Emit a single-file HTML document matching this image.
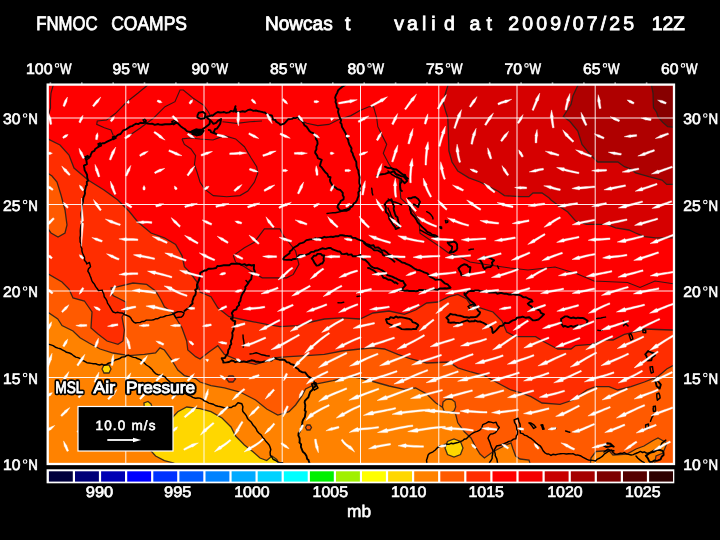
<!DOCTYPE html>
<html><head><meta charset="utf-8"><title>FNMOC COAMPS Nowcast</title>
<style>html,body{margin:0;padding:0;background:#000;}body{width:720px;height:540px;overflow:hidden;}svg{display:block;}text{text-rendering:geometricPrecision;}svg{will-change:transform;}text{font-family:"Liberation Sans",sans-serif;fill:#fff;}</style>
</head><body>
<svg width="720" height="540" viewBox="0 0 720 540">
<rect x="0" y="0" width="720" height="540" fill="#000"/>
<defs><clipPath id="mc"><rect x="47" y="84" width="628" height="381"/></clipPath></defs>
<g clip-path="url(#mc)">
<rect x="47" y="84" width="628" height="381" fill="#fe0000"/>
<path d="M447.8 82 L447.8 85.6 L445.6 93 L443 102 L445.6 111 L447.8 117.8 L448.4 135.6 L448.9 151 L452 162 L457.8 171 L468.9 177.8 L480 182 L488.9 186.7 L497.8 191 L504.4 195.6 L520 196.7 L528.9 196.7 L533 193 L542 193 L548.9 197.8 L551 200 L560 206.7 L567.8 212 L575.6 221 L586.7 224.4 L606.7 224.4 L615.6 227.8 L628.9 230 L635.6 233 L644.4 236.7 L655.6 237.8 L676 237.8 L676 82Z" fill="#d60000" stroke="#2a1f1a" stroke-opacity="0.9" stroke-width="1.3"/>
<path d="M577.8 82 L577.8 85.6 L573 95.6 L571 104.4 L563.3 116.5 L570 121.5 L577.8 131 L582 144.4 L591 155.6 L597.8 162 L617.8 162 L624.4 166.7 L631 169 L635.6 173 L648.9 176.7 L662 180 L666.7 184.4 L676 184.4 L676 82Z" fill="#af0000" stroke="#2a1f1a" stroke-opacity="0.9" stroke-width="1.3"/>
<path d="M651.5 82 L651.5 85.6 L653 93 L653.3 104 L653.5 107.8 L656.6 112.2 L658.2 117.2 L662.7 122.2 L667.7 126.7 L676 127.5 L676 82Z" fill="#870000" stroke="#2a1f1a" stroke-opacity="0.9" stroke-width="1.3"/>
<path d="M45 138 L46 138 L60 145 L69 155 L74 168 L88 180 L104 190 L117.8 200 L128.9 211 L137.8 222 L151 233 L164.4 237.8 L175.6 244.4 L182 255.6 L184.4 266.7 L190 272.5 L197 282 L200 292 L211 296.7 L217.8 307.8 L229 316.7 L244.4 320 L266.7 324.4 L280 326.7 L297.8 325.6 L311 322 L324.4 319 L342 317.8 L360 319 L373 313 L389 311 L404.4 314.4 L415.6 310 L426.7 303 L437.8 302 L449 296.7 L457.8 294.4 L466.7 299 L471 305.6 L480 307.8 L493 312 L502 321 L506.7 332 L515.6 336.7 L520 336.7 L535.6 336.7 L544.4 342 L557.8 349 L571 349 L575.6 345.6 L591 344.4 L604.4 340 L613 340 L624.4 334.4 L640 331 L644.4 329 L671 330 L676 330 L676 467 L45 467Z" fill="#ff2d00" stroke="#2a1f1a" stroke-opacity="0.9" stroke-width="1.3"/>
<path d="M45 172 L46 172 L52 176 L57 182 L61 195 L65 210 L67 225 L65 233 L58 237 L51 233 L46 226 L45 226Z" fill="#ff5a00" stroke="#2a1f1a" stroke-opacity="0.9" stroke-width="1.3"/>
<path d="M45 274 L49 274.4 L62 282 L69 289 L73 298 L84.4 301 L90 309 L92 312 L91 328 L98 334 L107 341 L118 344.4 L123 341 L124.4 330 L122 317 L125.6 311 L125.6 302 L118 298 L113 295.6 L111 288 L118 286.7 L133 283 L146.7 284.4 L155.6 291 L161 300 L164.4 306.7 L173 313 L182 328 L186.7 341 L187.8 350 L195.6 356.7 L200 359 L209 352 L217.8 345.6 L224.4 354.4 L240 361 L255.6 364.4 L266.7 361 L273 357.8 L289 356.7 L306.7 355.6 L324.4 354.4 L342 351 L360 349 L373 347.8 L384.4 349 L397.8 354.4 L411 359 L426.7 363 L449 362 L457.8 367.8 L471 372 L484.4 375.6 L497.8 383 L511 390 L520 392.5 L531 396.7 L542 403 L560 404.4 L573 400 L586.7 390 L595.6 386.7 L609 386.7 L617.8 390 L631 386.7 L644.4 382 L657.8 376.7 L666.7 369 L676 364 L676 467 L45 467Z" fill="#ff5a00" stroke="#2a1f1a" stroke-opacity="0.9" stroke-width="1.3"/>
<path d="M45 313 L48.9 313 L57.8 319 L62 325.6 L73 331 L80 337.8 L89 343 L100 349 L113 353 L129 355.6 L144.4 354.4 L155.6 353 L160 347.8 L164.4 350 L171 359 L177.8 370 L184.4 375.6 L195.6 378.5 L200 382 L211 385.6 L224.4 387.8 L240 392 L255.6 400 L266.7 409 L277.8 415 L289 411.7 L295.6 405 L302 396 L305.6 389 L315.6 384 L333 380.6 L351 376.5 L360 378 L373 381.5 L389 386 L404.4 389.4 L415.6 388 L426.7 394 L435.6 402.8 L442 407 L455.6 414 L457.8 422.8 L464.4 431.7 L471 438 L475.6 447 L480 454 L484.4 458 L493 451.7 L502 447 L511 442.8 L513 449 L515.6 456 L520 459 L529 460 L531 467 L45 467Z" fill="#ff8200" stroke="#2a1f1a" stroke-opacity="0.9" stroke-width="1.3"/>
<path d="M590 467 L591 458 L596 451.5 L609 450.5 L613 455 L627 454 L636 449 L644 446 L653 440.5 L658 438 L667 443 L663 453 L656 456 L654 467Z" fill="#ff8200" stroke="#2a1f1a" stroke-opacity="0.9" stroke-width="1.3"/>
<path d="M442.5 407 L443 402 L446 399.5 L449 399 L452 399.5 L455 402 L455.7 407 L454 411 L449 413 L444 411Z" fill="#ff8200" stroke="#2a1f1a" stroke-opacity="0.9" stroke-width="1.3"/>
<path d="M180 467 L178 465 L173 462.8 L164.4 460.6 L155.6 456 L151 451 L146 440 L144 403 L148 401.5 L151 404 L153 410 L172 418 L177.8 411.7 L186.7 407 L200 408.7 L211 411.7 L222 418 L231 427 L235.6 436 L244.4 445 L253 451.7 L260 458 L266.7 460.6 L272 456 L276.7 459.4 L281 467Z" fill="#ffd700" stroke="#2a1f1a" stroke-opacity="0.9" stroke-width="1.3"/>
<path d="M102 369 L104 365 L109 365 L111 369 L109 373 L104 373Z" fill="#ffd700" stroke="#2a1f1a" stroke-opacity="0.9" stroke-width="1.3"/>
<path d="M445 448 L447.5 441.5 L454 439 L460.5 441.5 L463 448 L460.5 454.5 L454 457 L447.5 454.5Z" fill="#ffd700" stroke="#2a1f1a" stroke-opacity="0.9" stroke-width="1.3"/>
<path d="M226.5 379 L229 376 L233 376 L235.5 379 L233 382 L229 382Z" fill="#ff2d00" stroke="#2a1f1a" stroke-opacity="0.9" stroke-width="1.3"/>
<path d="M305.5 427.5 L307 425 L310 425 L311.5 427.5 L310 430 L307 430Z" fill="#ff5a00" stroke="#2a1f1a" stroke-opacity="0.9" stroke-width="1.3"/>
<path d="M48.5 115 L50.5 108 L50.5 100 L51 93 L53.5 84" fill="none" stroke="#241414" stroke-opacity="0.9" stroke-width="1.15"/>
<path d="M147.8 85 L137.8 93.3 L126.7 102 L115.6 113.3 L106.7 120 L97.3 121 L96.7 124.4 L104.4 127.8 L111 130 L113.3 135.6" fill="none" stroke="#241414" stroke-opacity="0.9" stroke-width="1.15"/>
<path d="M130 135 L140 128.3 L153.3 118.3 L165 106.7 L175 101.7 L180 90 L183.3 90 L193.3 98.3 L203.3 105 L208.3 111.7 L210 115" fill="none" stroke="#241414" stroke-opacity="0.9" stroke-width="1.15"/>
<path d="M222.5 121.7 L236.7 123.3 L250 121.7 L262 121" fill="none" stroke="#241414" stroke-opacity="0.9" stroke-width="1.15"/>
<path d="M182 138.9 L190 138 L200 139 L213 140 L224.4 135.6 L235.6 138.9 L244.4 146.7 L251 157.8 L256.7 166.7 L257.8 173.3 L254.4 182.2 L247.8 191 L240 195.6 L226.7 196.7 L213.3 195.6 L204.4 188.9 L200 182 L197 172 L194.4 164.4 L195.6 155.6 L191 148.9 L184.4 144.4 L182 138.9" fill="none" stroke="#241414" stroke-opacity="0.9" stroke-width="1.15"/>
<path d="M297.8 118.9 L306.7 123.3 L317.8 125.6 L328.9 124.4 L337.8 120 L351 115.6 L360 110.5 L368.9 106.7 L373.5 106.5 L376.7 117.8 L377.8 126.7 L382.2 135.6 L386.7 144.4 L383.3 153.3 L388.9 164 L394 172 L399.2 178.3 L400 188.3 L400.8 198.3 L408 205 L414 213 L418.9 220 L420 233.3 L426.7 237.8 L433.3 242.2 L440 246.7 L448.9 253.3 L458 256 L470 262 L489 265 L510 268 L528 270 L555 267 L577.5 274 L594 281 L627.5 282.5 L640 287.5 L655 281 L675 284" fill="none" stroke="#241414" stroke-opacity="0.9" stroke-width="1.15"/>
<path d="M233.3 255.6 L244.4 247.8 L254.4 242.2 L264.4 228.9 L280 228.9 L283.3 235.6 L287.8 241 L295.6 251 L298.9 264.4 L293.3 274.4 L286.7 277.8 L262.2 277.8 L254.4 273.3 L244.4 266.7 L235.6 262.2 L233.3 255.6" fill="none" stroke="#241414" stroke-opacity="0.9" stroke-width="1.15"/>
<path d="M125.8 84V465M204 84V465M282.2 84V465M360.5 84V465M438.8 84V465M517 84V465M595.2 84V465M47 377.5H674M47 291H674M47 204.5H674M47 118H674" stroke="#fff" stroke-opacity="0.92" stroke-width="1" fill="none"/>
<path d="M195 132 L199.2 131.8 L199.5 133.3 L195.8 134.1 L194.8 132.1M143 120 L144.7 119.3 L146.3 121 L144.2 122 L143.3 120.1M112.5 137 L114.8 136.3 L116 138.2 L113.2 139.5 L112.5 136.9M98 144 L100.2 142.9 L101.4 145.7 L98.7 146.7 L98.2 143.7M85 157 L87.8 155.6 L89.3 157.9 L86.4 159.9 L85.3 157.1M172 121.5 L174.9 120.4 L176.8 122.7 L173.7 124.7 L171.8 121.8M327 213.5 L329.8 213.1 L333 212.8 L335.2 212.8 L337.8 212.2 L339.8 211.8 L342.3 211 L344.7 209.7 L347.2 209 L349.7 208.1 L351.9 206.7M83 200 L83.2 201.9 L82.4 204.3 L82 206.9 L82.3 208.7 L81.6 210.9 L81.1 213.2 L81.1 215.2 L81.5 218.2 L82.2 219.7 L82.2 222.7 L81.4 224.1 L80.8 226.3 L80.5 228.5 L80.3 230.9 L80.4 233.7 L80.4 235.5 L79.9 237.8 L80.1 239.9 L80.1 242 L81.2 244.1 L81 246.8 L81.9 248.6 L81.9 250.9 L82.6 253.3 L83.8 255.9 L84.5 257.3 L84.5 260.2 L86.2 262.2 L86.8 263.9 L89.4 262.4 L90.1 264.9 L90.5 266.7 L88.5 268.7 L87.8 271.2 L89.3 273.5 L90.1 275.8 L91 277.9 L91.7 280.3 L93 282.6 L94.5 284.2 L95.5 286.4 L97.5 289 L98.5 290.6 L102.2 290.1 L102.8 292 L103.8 294 L104.2 296.7 L106 299.1 L107 301.1 L107.5 303.1 L109.4 305.8 L110.2 307.3 L111.8 310.2 L113.2 312 L115.7 312.9 L117.5 312.3 L119.8 312.9 L122.4 313 L124.7 314.7 L126.7 315.3 L129.4 316.5 L130.9 318.1 L132 320.3 L133.7 322.1 L135.6 323 L137.5 322.6 L140.2 322.6 L141.8 321.5 L144.1 321.5 L146.3 320.1 L148.4 320.1 L151.5 320.1 L153.6 319.8 L156 318.7 L157.5 318.8 L160.2 317.3 L162.4 317.1 L164.3 316.5 L166.3 315.6 L168.6 315.4 L171.5 314.6 L173.8 314.1 L175.9 317.8 L179.3 317.2 L181.5 317 L183.1 315.4 L184.1 312.9 L181.6 311.8 L177.9 311.8 L175.9 312.5 L172.8 314M312 384 L315.9 382.8 L316.7 385.6 L318 387.9 L316.1 389 L314.3 390.2 L312.8 387.3 L311.7 384M246 280.5 L248.4 283.3M243 335 L243.2 338.2 L243.7 341 L244.1 343.7 L243.3 347.1M250 354 L253 353.6 L256.2 352.8 L258.9 353.6 L261.7 354.8 L264.5 355.2 L266.3 355.7 L269.2 356M45 343.5 L49.1 344.4 L50.9 344.9 L53.1 345.6 L55.4 347.2 L58 348.1 L60.2 348.7 L62.3 349.9 L64.8 351.1 L66.5 352.3 L69.4 353 L71.5 354 L73.1 355.3 L75.8 357.1 L78 357.6 L80.4 358.7 L82 360.4 L84.6 361.3 L86.9 362.7 L88.9 363 L91.3 363.4 L93.3 363.7 L95.7 363.8 L97.5 364.5 L99.6 365 L101.9 364.2 L104.1 365.3 L106.5 364.6 L108.4 363.2 L111.3 362.5 L113.5 361.2 L115.1 360 L117.6 359.2 L120.3 358.2 L121.8 357.1 L124.8 356.8 L126.3 355.7 L128.5 355.1 L131.5 356.6 L133.5 357.4 L135.7 357.6 L137.4 358.5 L140.3 359.6 L142 360.9 L144 362.7 L146.4 365 L148.8 366.5 L151 368.4 L152.6 370.1 L153.5 371.6 L155.5 373.6 L157.8 374.6 L160.3 375.1 L163 376 L165.3 377.2 L166.4 378.8 L169 381.1 L170.1 382.2 L172.5 384 L174.1 385.3 L176.1 387.2 L177.9 388.9 L179.8 389.7 L182.3 391.2 L183.9 392.6 L186 394 L188.8 395.3 L190.8 396.1 L192.8 397.4 L195.4 398.3 L197.9 398 L199.7 398.1 L202.6 399.4 L204.3 400.9 L206.4 401.6 L208.9 403.1 L211.4 403.7 L213.2 404.2 L215.2 405.5 L218 406.2 L219.7 406.5 L222.5 407.2 L224.1 407.7 L227.1 408 L228.6 407.5 L231.4 407.5 L233 406.2 L235.3 405.8 L238 402.7 L241.8 403.7 L242.9 406.8 L242.5 409.6 L242.9 411.6 L245.3 414.2 L246.5 416 L247.5 418.4 L249.2 420.2 L251.4 422.3 L253.2 425.3 L254.9 427 L256.2 428.9 L257.1 431 L258.8 433 L261.1 434.9 L262.6 437.4 L264.3 439.1 L266.1 441.6 L267.7 443.3 L269.3 445.2 L270.1 447.2 L270.8 449.5 L270.1 452.1 L270.3 455.2 L271.8 457 L273.2 459.4 L275.7 460.5 L278 462.1 L279.7 462.4 L282.5 462.7 L284 465.5M338 302.7 L341 302.9 L343.7 302.2M357 296.5 L359.7 296.1M468 306.5 L470.3 305.1 L472.9 304.1 L474.6 306.2 L476.2 308 L473.2 308.9 L470.2 309.5 L468.2 306.6M596.7 318.5 L601 318 L603.4 317.4 L605.5 317.1M597.8 330.3 L599.9 330.6 L602.3 330.3M388 171 L389.7 172.5 L392 174.7 L394.6 176.2 L396.7 177.2 L401.2 178.9M388 208 L388.8 210 L390.1 212.6 L390.8 215.1 L391.7 216.8 L393.2 218.7 L394 221.2 L395.7 222.8 L396.9 225.2M388.3 199 L390.6 200.6 L392.8 201.8 L395.5 202.3 L398 203.2 L401.8 204.8M426.7 211.7 L429.3 213.1 L431.4 215.3 L432.7 217.2 L433 218.9M420 230 L421.8 230.9 L423.9 232.2 L425.7 233.2 L428.1 234.3 L430.8 235.5 L433.3 236.2 L435.7 237.5 L438.2 238M445.7 220.7 L447.9 220.9 L447.6 222.4 L445.9 222.8 L445.4 220.5M440 226.7 L441.5 226.9 L441.6 228.6 L440.2 228 L440.1 226.6M371.7 188.3 L372.1 190.8 L372.1 192.5 L372.8 194.9M468.9 250 L471 249.2 L473.4 249.1M497.5 266 L498.7 268.4M623.3 321 L625.3 323.4 L628 325.9M627.8 321 L625.3 323.5 L623.5 325.8M629 334.4 L630.9 333.8 L632.2 336.4 L632.9 339 L630.9 340.2 L629.8 336.9 L629 334.5M643 330 L645.7 330.1 L645.8 332.8 L643 332.5 L642.8 329.9M650 367 L652.5 366.6 L652.8 369.3 L653.4 372.2 L651.3 373.1 L650.4 370.1 L650 366.9M656.7 394 L658.9 393 L659.8 395.5 L660.1 397.9 L657.4 400.3 L656.8 396.8 L656.8 394M653.3 406.5 L655.3 406.1 L655.5 408.6 L655.5 411 L653.5 411.6 L653.1 408.9 L653.6 406.5M654 414 L652.7 416.3 L651.8 417.7 L650.5 421.3M645.6 425 L648.5 424 L648.5 426.3 L648.6 428.5 L646.1 429.1 L645.7 426.9 L645.6 425.3M528.9 423 L531 423 L533.5 424.6 L535.9 427.2 L533.7 428.5 L532.2 426.3 L530.9 424.8 L529.1 422.7M541 425 L542.7 424.7 L543.3 426.9 L544.1 429.1 L542.8 429.3 L542.1 427.1 L541.3 425.1M553.3 428 L555.9 428.5M565.6 431 L568.1 431.8 L569.8 432.2M576 431.7 L577.9 431.9M426.5 465 L426.8 462.4 L426.5 460.3 L427.3 458.1 L428.1 455 L429.6 453.3 L433 451.8 L435.3 450 L437.6 447.5 L440.4 446 L442.4 445.8 L444.9 444.5 L446.5 444.1 L448.9 444.3 L451.4 443.2 L453 443.7 L455.8 443 L457.8 442.5 L460.4 441.6 L462.6 440.7 L464.1 439.3 L466.4 438.7 L469 436 L470.8 434.5 L473.3 432.9 L475.4 431.9 L477.3 431.4 L479.8 430.1 L481.6 428.3 L482.8 424.6 L486.3 423.1 L488.7 421.7 L490.9 422.1 L493.4 422.9 L496.1 422.3 L497.3 425.3 L499.3 427.5 L497.4 430.1 L495.5 432.6 L493.1 433.7 L490.4 434.1 L488.7 436.4 L488 438.3 L489 440.4 L490 442.7 L490.6 444.8 L491.6 447.7 L492.5 449.3 L493 451.4 L492.8 453.5 L492.1 456.5 L492.2 458.2 L491.2 460.3 L489.7 462.3 L488.8 464.8M497.8 465 L497.5 462.8 L497.1 460.3 L496.6 458.3 L495.2 455.7 L495.3 454.3 L494.7 451.9 L494.3 449.8 L496.6 446 L500 445.3 L502 444.5 L504.1 443.7 L506.9 442.5 L508.8 441.4 L511.2 440.9 L513.5 439.1 L515.8 438.8 L516.4 435.7 L517.4 434.3 L517.6 431.3 L516.8 429.5 L516.7 427.4 L516 424.7 L514.6 422.7 L514.1 419.9 L518.2 418.3 L518.8 421.2 L520 424.1 L520.2 426.2 L520.3 428.3 L520.1 430.3 L520.4 433.1 L522.7 433.6 L524.6 435.2 L526.5 435.6 L528.6 437.2 L531.4 438.7 L533.6 440.5 L535.6 442.5 L537.8 444.4 L540.1 445.8 L541.7 448 L543.1 450.8 L544.7 452.6 L546.9 454 L548.8 454 L551 455.4 L552.9 454.3 L555.5 454.7 L558 454.1 L560.5 453.7 L562.5 453.6 L564 453.6 L566.2 454 L568.9 453.7 L571.5 453.9 L572.9 453.7 L575.8 455.1 L577.4 454.9 L580.3 455.7 L582.7 457.1 L584.6 458.1 L587 459.4 L588.7 460.1 L590.8 460.2 L592.9 460.4 L595.5 461 L597.4 459.1 L599.9 458 L602.6 456.1 L604.2 454.2 L606.5 452.7 L608.6 451.1 L611.3 450.1 L613.1 452.5 L615.3 454.1 L617.5 454.1 L620.4 453.2 L622.5 453.4 L624.2 452.6 L626.6 453.9 L628.5 454.4 L631.1 455 L633.3 454.6 L635.2 453.7 L637.6 452.8 L640.4 451.4 L642.6 452.5 L644.2 451.8 L646.3 453 L648.4 453.2 L650.8 452.2 L652.9 450.8 L655.8 449.8 L657.6 449.8 L659.5 447.6 L661.2 444.5 L661.9 443.1 L665.8 440.1M604 452 L606 450.6 L608 449.2 L610.7 450.3 L613.9 450.8M636 456 L637.9 458.3 L639.9 459.9 L641.9 461.3 L644.3 462.7" fill="none" stroke="#000" stroke-width="1.45" stroke-linejoin="round" stroke-linecap="round"/>
<path d="M83 201 L83.4 197.7 L84.6 194.9 L85 193.2 L84.8 191.2 L85.4 188.8 L86 186 L86.9 185 L86.8 181.8 L88 180.7 L87.2 177.6 L87.1 174.8 L86.2 173 L84.6 170.1 L84.5 168.7 L83.9 165.7 L86.9 164.2 L86.4 160.5 L85.3 157.5 L90.3 156.6 L90.8 154.6 L92.1 151.9 L94.4 150.9 L95.2 149 L97.8 147.3 L100.4 144.1 L103 143.1 L104.3 143.3 L106.1 142.2 L108.2 141.1 L111.5 139.7 L113.9 137.9 L115.8 136.7 L117.9 134.9 L120.5 134 L122 132 L123.3 130.4 L126.2 129.3 L130.5 126.4 L132.1 126.1 L133.7 125 L136.2 123.6 L138.2 124.1 L140.5 122.7 L143.1 123.1 L144.9 122.7 L147.8 123.6 L150.5 123.9 L152.1 123.6 L154.8 124.8 L158.2 124 L159.5 124.6 L162.1 124.8 L165.1 124.2 L166.7 124.3 L169.8 124.3 L173.2 123.7 L175 122.7 L177.8 123.4 L180.6 126.2 L183.1 128 L184.8 129 L186.9 131.1 L189.3 131.8 L191.8 132.2 L194.2 132.3 L195.9 132.7 L198.3 131.7 L200.3 131.2 L203.5 128.6 L205.4 127.3 L208.1 125.2 L209.7 123.7 L209.9 120 L206 116.9 L208.6 116.3 L211.6 115.3 L212.5 115.7 L215.6 113.3 L217.8 112 L220 112.5 L222.8 112.3 L224.1 112 L226.2 112.9 L229 112.4 L230.8 110.9 L233.8 111.6 L234.7 108.8 L235.5 106.2 L235.1 108 L235.9 109.3 L235.9 111.8 L238.9 112.1 L242.6 111.3 L245.1 111.8 L247.3 110.5 L248.4 109.9 L250.5 109.5 L253.4 110.9 L256 110.5 L258 111.2 L259.3 111.3 L262.9 112.2 L264.9 112.5 L266.2 113.8 L268.6 114.9 L271.8 115.4 L273.1 119.6 L275.4 120 L276.1 121.6 L279.5 123.8 L280.4 124.9 L284.1 123.6 L285.4 122.3 L288.3 119.2 L291.9 118.9 L293.3 118 L295.4 118.1 L298.3 117.3 L299.6 119.1 L301.8 121.1 L303.3 122.8 L304.6 125.5 L306.5 126.6 L308.3 129.2 L309.4 131 L311 132.3 L313.3 133.1 L315.5 135.1 L315.9 138.8 L317.3 141 L317.6 143.9 L316.4 146.7 L316.4 149.4 L315.3 151.2 L315.2 152.9 L317.1 155.6 L317.9 158.2 L321.7 159.9 L320.7 162.8 L320 165.9 L321.6 167.3 L323.3 169.6 L325.3 172.3 L327.4 174 L328.4 176.8 L330.5 177.2 L329.9 179.9 L330.3 181.8 L332.6 185.9 L336 187.9 L337.2 189.2 L340.3 190 L342.8 192.9 L342.7 195.3 L343.8 197 L343.5 199.5 L340.8 200.9 L340 202.7 L338 205.2 L337.4 207.2 L339.1 209.4 L340.2 210.7 L344.2 210.5 L346.3 210.8 L349.5 209.4 L350.4 207 L352.3 206.4 L353.9 203.4 L355.4 202.7 L357.3 199.6 L357.4 198.7 L358.6 195.8 L358.3 192.3 L359.8 190.4 L359.3 188.7 L360.2 185.8 L359.3 183.2 L359.3 180.6 L359.6 177.5 L359.4 176.2 L358.5 172.7 L358.4 170.7 L357.2 168.3 L356.5 166.1 L356.4 164.1 L356.3 161.9 L355 159.5 L353.9 157 L352.9 154.8 L352.8 153.5 L351.2 151.1 L351.5 148.3 L350.5 146.6 L349.3 144.6 L348.4 141.5 L348.1 139.7 L346.4 136.8 L345.9 133.9 L344.2 130.8 L342.8 128.2 L342 127 L341.5 123.9 L340.3 122.7 L341.1 120.2 L339.6 117.3 L339.1 115.5 L338.4 113.2 L338 111.8 L338.6 108.9 L336.8 107.4 L336.4 104.2 L335.5 102 L335.9 100 L335.1 97.8 L335.9 95.2 L337.1 93.1 L338.2 90.2 L340.2 88.4 L342.3 86.7 L344.9 85.1 L347 83.6M197.5 115.5 L198.8 112.7 L202.8 111.9 L205.4 113.7 L205.1 116.5 L204.6 118.2 L200.9 118.8 L197.4 117.3 L197.5 116M210 120 L212.1 122.2 L213.4 123.9 L216.1 122.8 L217.9 120.9 L221.1 119 L220.2 123.8 L218.8 126 L216.9 128.6 L215 129.2 L213.8 132.1 L215 133.4 L217 134.3 L214.6 133.4 L211 132.1 L210.4 130.4 L208.7 130M192 131 L196 129.3 L198.5 129.8 L201.4 129.7 L203.7 130.8 L201.4 134.1 L199.9 134.9 L197.1 135.2 L192.3 134.1 L192.3 131.3M193.5 131.5 L196 130.7 L198 130.4 L201.4 131.2 L200.6 133.5 L196.8 135.5 L192.7 131.4M184.4 311 L187.3 308.8 L189.2 308 L190.7 305.2 L192.6 303.6 L192.3 301.5 L193.3 298.6 L193.6 297.1 L195.5 294.7 L195.9 291.5 L195.2 290 L197.1 288.4 L196.9 284.9 L197.7 283 L199 280 L199.4 278.4 L200 276.1 L200.2 273 L201.9 271.9 L204.9 270.3 L206.1 270.6 L208.4 268.7 L210.3 268.7 L213 268.6 L216.1 268 L217.4 266 L219.3 266.1 L222.5 265.5 L224 265.1 L226.8 265.2 L229.3 265.2 L231.3 263.7 L233.8 263.7 L235.6 263.9 L238.1 263.7 L239.6 263.8 L241.6 264.9 L244.5 264.1 L246.5 265.5 L248.9 264.6 L251.6 265.5 L254.1 265 L253.8 268.8 L254.9 271.7 L252.6 273.5 L251.6 276.2 L251.3 279 L249.6 280.8 L247.8 283.8 L245.2 287.1 L245.5 288.3 L244.2 291.3 L242.8 293.1 L241.6 295.6 L240.6 299.1 L240.5 300.7 L238.8 303.1 L239.2 305.1 L237.1 306.9 L236.4 309.3 L233.7 310.4 L231.8 313.1 L232.7 315.3 L232.5 319.3 L230.9 318.6 L233 320.7 L235.3 321.1 L234.8 323.1 L235 326.3 L233.7 327.3 L233.7 329.5 L232.2 332.9 L232.6 335 L232.3 337.3 L232.1 338.4 L230.9 341.2 L231.3 344 L229.9 345.8 L229.8 347.8 L228.3 350.1 L227.8 353.7 L226.1 355.6 L224.9 358 L221.7 358.3 L223.5 361.9 L223.3 362.6 L226.5 362.4 L229.1 362 L231.5 360.5 L233.7 360.9 L235.3 362.2 L238.3 361.4 L239.5 362 L242.2 361.8 L243.8 361.3 L247 362.1 L248.1 361.3 L251.4 360.3 L253.8 360.7 L255.7 361.7 L258 361.6 L259.9 362.3 L262.1 362.1 L264.4 361.4 L265.9 361.3 L268.9 360.3 L271.6 360.5 L273.3 359 L275.6 358.3 L277.2 359.2 L279.3 359.7 L282.2 359.5 L284.6 360 L287 362.4 L288.9 362.4 L291.1 364.2 L294 365 L296.1 367.9 L298.1 369 L299.5 370.8 L302.2 372.2 L305.1 372.4 L307.2 375.1 L308.2 376.4 L311.4 378.4 L313.2 380.8 L314.6 382.8 L315.6 386.3 L313.6 387.4 L312.5 389.7 L310.3 391.7 L309 395.1 L308.4 397.3 L306.2 399.4 L304.9 400.9 L304.6 402.6 L305.3 405.1 L305.1 407.9 L304.7 410.3 L305.8 411.5 L305.3 413.9 L304.9 417 L303.1 419.8 L302.4 421.5 L302.2 423.9 L301.5 426.8 L300.5 430.2 L299.7 431.9 L298.6 433.1 L298.4 435.6 L299.6 438.2 L299.7 441.2 L299.4 442.4 L301.1 444.3 L300.9 447 L301.8 449.2 L302.9 451.8 L304.9 453.4 L306.5 456.1 L307.2 459 L308.5 460 L309.3 463 L311.6 465.5M283.3 258.9 L284.4 257.1 L286.5 255.6 L289.6 253.3 L289.7 251.6 L291.9 250 L293.3 248 L296.1 246.3 L297.6 245.5 L299.5 243.6 L302.1 242.9 L303.8 242.4 L306.4 240.1 L308.5 239.8 L310.3 239.4 L313.2 239.4 L315.3 238.3 L317.4 238.6 L320.7 237.9 L321.8 238.1 L324.3 236.8 L326.1 237.4 L329.4 236.9 L331.1 236.6 L332.9 237 L335.3 236.3 L338.3 236.3 L339.9 235.3 L342.3 235.2 L344.9 235.8 L347.2 235.9 L348.6 236.1 L350.9 236.2 L352.5 237.9 L355.1 237.9 L357.4 239.1 L359.9 240.2 L362.5 240.9 L365.1 242.8 L366 243.8 L369.5 244.9 L370.5 245.8 L373.6 245.3 L374.8 247.7 L378 247.4 L379.4 248.3 L381.8 250.4 L384.2 250.5 L387.3 252.7 L388.4 254.2 L391.3 255.5 L393.6 257 L396.1 258.3 L397.3 259.5 L400 260.9 L402.1 262.5 L404.5 262.9 L406.2 263.8 L408.8 264.8 L411 266.1 L413.3 267.8 L415.6 269.2 L417 269.9 L419.9 270.3 L422.5 271.5 L424.2 272.4 L427.4 273.4 L429.1 275.8 L430.4 276.9 L433.7 278.5 L435.3 279.7 L437.8 279.6 L440.6 279.6 L442.5 281.2 L444.7 283.3 L447.6 284.4 L449.4 286.5 L450.5 287.7 L446.6 288.5 L445 288.2 L442.8 288.5 L440 288.4 L437.8 289.7 L435.8 289.6 L433.1 289 L430.8 289.7 L429.1 290.2 L426 290.4 L425.1 290.2 L421.5 290 L419.2 289.9 L418.5 290.7 L415.9 291.2 L414 290.9 L411.3 291 L409.2 291 L406.9 290.5 L404.7 290.9 L402.6 290 L399.5 289.6 L398.2 290.7 L400.2 288.7 L402.7 288.3 L405.7 285.2 L404.1 283.2 L403 280.9 L401.3 281 L398.2 279.7 L396 278.3 L394.6 277.9 L392.2 276.6 L388.1 275.4 L386.8 274.8 L385.2 272.5 L382.1 270.4 L380.2 269.5 L377.2 268.1 L374.7 268.1 L372.7 267.4 L370.4 265.8 L368.3 262.9 L367.1 261.8 L365.4 260 L362.6 259.3 L362 257.8 L360.4 254.9 L358 255.9 L355.5 256.3 L352.9 256.3 L351.4 254.4 L348.1 254.9 L347.1 253.5 L344.1 254.1 L341.7 253.9 L339.9 251.5 L337.5 251.2 L335.4 250.3 L332.7 249.4 L330.8 248 L329 247.9 L326.4 248.7 L325.1 248.9 L322.3 248.3 L319.3 249.7 L318.1 250.2 L315.2 250.7 L314 251.9 L311.2 251.9 L308.7 253.9 L306.5 254.7 L304.6 255.4 L302.7 254.9 L299.2 255.2 L297.7 257 L296.1 258.8 L292.6 259.3 L291.6 260 L289 259.6 L286.7 259.9 L283.6 259.6M312.2 258 L313.9 255.8 L316.2 255.5 L317.5 253.9 L320.8 253.9 L322.4 255.5 L324.3 255.5 L323.5 258.7 L323.9 260.6 L322.3 263.5 L321.1 263.4 L318.5 265.4 L316.6 265.6 L314.7 263.2 L313 260 L311.7 258.3M364 243 L365.8 244.6 L367.8 246 L369.4 246.8 L372.8 248.8 L374 250.2 L377.8 250.4 L380.2 251.8 L382 252.5 L383.3 255.3 L386.6 255.7 L388.1 256.6 L390.4 258.2 L392.7 260.1 L394.5 261.7M368 268 L369.6 268.3 L371.5 269.5 L373.3 270.3 L376.1 272.6 L377.9 274 L380.7 273.8 L382.2 275.6 L383.4 277.7 L385.6 278.1 L388.2 279.7 L390.3 279.8 L391.9 280.5 L394.7 282.8 L395.6 282.3 L397.6 283.8M386.7 318.9 L389.2 319.1 L390.4 317.2 L393.8 318 L395.9 316.4 L398 317.6 L399.4 317.3 L401.9 317.4 L404.5 317.9 L406.3 318.3 L409.2 318.9 L411.5 320.1 L412.6 322.1 L415.2 322.9 L417.8 324.5 L418.3 325.5 L416.6 327.9 L416.1 329.1 L413.3 328.9 L411.7 329.4 L409.1 329.2 L406.3 329.3 L404.8 329.4 L401.7 329.1 L399.6 327.7 L397.2 326.7 L396.1 326.1 L392.8 325.6 L390.3 324.5 L387.2 323 L386 319.5M464.4 293.3 L464.7 295.1 L466.6 293.4 L468.4 291.4 L470.8 290.8 L474 291 L474.8 290.4 L478.3 290.4 L480.3 291.1 L482.9 291.1 L484.9 291.9 L486.1 291.6 L489.4 292.6 L490.6 292.6 L494 292.5 L495.7 292.5 L497.3 293.7 L500.3 293 L501.5 293 L504.6 293.8 L506.2 293.6 L509 294.5 L511.5 294.5 L512.8 294 L515.9 294.9 L518.1 294.6 L520.5 295.3 L523.5 297.4 L526 297.2 L529 299 L531.3 299.6 L532.5 301.5 L530.3 301.7 L527.8 303.7 L529 305 L531.4 306.4 L532.7 308.1 L536 309.1 L537.5 309.6 L539.8 310.4 L540.9 312.8 L544 314.4 L541.7 316.7 L540.1 318.1 L538.5 319.5 L535.1 320.4 L533 320.4 L530.4 318.2 L529.2 317.3 L525.9 317.8 L524.6 317.4 L522.5 316.6 L520.6 317.3 L517 317.7 L515.5 319.6 L512.9 320.3 L510.8 321.6 L508.9 323.1 L506 323 L504.8 322.8 L502.7 325.5 L499.8 326.2 L498.3 327.8 L496.1 330.3 L495.2 331.2 L492.9 333 L492.4 331.9 L492.3 329.6 L491.5 327.3 L488.1 325.6 L487.3 325.1 L484 323.2 L482.4 322.5 L480 321.5 L477.7 321.6 L474.8 320.4 L474.1 321.4 L471.8 321.2 L469.4 321.6 L467.3 320.3 L464.7 321.2 L462.5 321.8 L460.1 323.4 L458 322.9 L455.6 322.9 L454.1 322.4 L450.8 322.7 L448.3 322.4 L448.5 320 L446.3 317.7 L448.9 315.5 L450.4 313.8 L452.9 314.6 L455.2 314.6 L457.1 315.4 L460.5 315.8 L462.3 316.4 L464 317 L466.6 317.3 L469.1 317.8 L470.8 317.1 L472.9 317.3 L475.4 317.1 L477 316.5 L479.5 314 L480.1 312.2 L478.2 310.8 L476.7 308.2 L475.1 304.9 L473.9 303.2 L470.3 300.8 L468.8 299.2 L466.1 296.3 L465.1 293.7M561 319 L565.1 316.4 L567.2 316.4 L569.3 317.4 L571.1 318.2 L573.4 317.5 L576 318.4 L577.9 317.7 L579.9 318 L582.5 317.9 L584.2 318.5 L587.6 320.7 L586.6 323.9 L584.4 325.5 L581.6 325.4 L579.1 326 L577.5 325.3 L575.7 325.8 L573.2 326.8 L571.1 325.9 L567.9 327.1 L564.9 325.9 L563.4 326.7 L561.4 323.7 L561.1 319.8M376.7 175.8 L378.8 174.8 L382.1 174.2 L385.1 173.9 L388.5 172.7 L390.4 172.4 L394.1 171.4 L395.8 173.9 L397.8 174.7 L401.6 176.4 L403.3 176.1 L405.6 178.7 L407.2 180.8 L404.8 183.2 L401.2 179.7 L401.2 182.2 L400.1 184 L400.2 186.9 L400.6 190 L401.9 191M385 166.7 L387.1 167.7 L389.2 168.1 L390.9 168 L394.4 169.3 L396.4 169.5 L398.3 170.9 L400.2 172.4 L402.8 174.4 L405.1 174.9 L405.6 176.6 L407.9 178.6M385 205 L385.9 207 L385.6 209.1 L386.1 212.3 L387.9 213.7 L388.8 215.9 L389.3 218.9 L391.2 221.3 L392.1 223 L392.9 224.3 L395.3 227.3 L395.7 229.1 L400 227.2 L399.3 225.7 L398.7 223.2 L397.9 219.8 L397.5 217.3 L395.8 216.1 L395 213.8 L394 210.6 L393.6 208.4 L394.1 206.4 L392.9 203.9 L392.3 202.1 L391.5 199.3 L387.4 201 L386.3 202.3 L384.5 204.7M408.3 198.3 L411.2 198.2 L412.6 197.4 L415.2 197 L418.1 199 L420 201.8 L418.8 204.6 L418.1 207 L416.3 205.5 L413.8 204.3M410 206.7 L410 209.5 L410.8 211.4 L411.1 213.4 L413.1 215.5 L414.7 217.1 L416.4 219.6 L417.8 222.6 L419.7 224.3 L422.4 227.1 L424.4 228.9 L425.3 229.6 L427.2 231.9 L430.3 233.1 L432.1 234.7 L434.8 235.2 L437.3 236.5M447.8 243 L451.1 242.3 L453.4 241.5 L455.6 242.4 L457.1 244.3 L457.1 246.4 L457.3 248.1 L456.4 250.3 L453.3 252.1 L449.6 252.3 L451.8 249.8 L452.1 246.6 L449.2 244.8 L447.7 242.5M458.9 268 L461 265.8 L464 264.3 L467 265 L468.3 266.7 L470.4 267.1 L470.1 269.8 L469.7 272.1 L468.5 274.3 L466.8 274.5 L464.8 275.6 L461.4 275.3 L460.7 272.6 L459.2 270.2 L458.4 268.3M480 259 L482.9 257.2 L485.7 256.6 L488.2 257.3 L490.2 258.1 L494.1 260.4 L491.9 262.7 L492.5 264.8 L490.4 267 L488.6 267.1 L486.4 267.5 L484.7 269.1 L483.2 267.1 L482.2 263.6 L480.6 260.9 L479.2 259.4M645.6 354 L648.1 351 L651.3 352.5 L654.4 353.3 L654.9 355.3 L651.9 357.5 L651.4 360.2 L647.5 360.6 L646.8 356.9 L645.3 354.3M654.4 380 L656.5 378.2 L658.2 381.4 L660.8 384.7 L659.6 388.6 L656.7 386.2 L655.7 382.3 L654.7 380.2M604.4 445 L607.3 443.3 L610.4 443.8 L613.7 446.7 L611.5 445.9 L609.2 446.6 L606.1 447 L603.8 445.7M646 456 L647.4 454.6 L649.4 453.2 L651.5 452.3 L654.1 451.7 L657.3 450 L659.8 450 L662.7 450.8 L663.5 452.7 L663.6 455 L661.6 456.8 L660.6 459.3 L658.1 460.4 L656.5 460.9 L654.2 460.4 L652.5 461.8 L650.1 462.1 L649 460.8 L647.9 458.3 L645.8 455.7" fill="none" stroke="#000" stroke-width="1.9" stroke-linejoin="round" stroke-linecap="round"/>
<path d="M68.6 450.8 L68.1 449.5 L67.6 448.2 L67.1 446.8 L66.8 446.1 L66.8 445.5 L66.7 445.5 L65.9 444.4 L65.1 443.3 L64.3 442.1 L63.6 440.9 L63.6 440.9 L63.7 442.3 L63.9 443.8 L64.1 445.2 L64.4 446.6 L64.4 446.6 L64.8 447 L65.2 447.8 L65.8 449 L66.4 450.2 L67 451.4ZM95.7 449.9 L96.3 449.1 L96.8 448.3 L97.4 447.5 L97.7 447 L98 446.7 L98.2 446.5 L98.3 445.7 L98.5 444.7 L98.8 443.6 L99 442.6 L99 442.6 L98.2 443.3 L97.4 444 L96.6 444.7 L96 445.3 L95.9 445.5 L95.8 445.9 L95.6 446.4 L95.1 447.3 L94.7 448.2 L94.2 449.1ZM126.4 449.7 L127.1 448.9 L127.8 448.2 L128.5 447.5 L128.9 447.1 L129.3 446.8 L129.4 446.7 L129.7 445.9 L130.1 445 L130.5 444 L130.9 443 L130.9 443 L130 443.6 L129.1 444.1 L128.2 444.7 L127.5 445.1 L127.4 445.3 L127.3 445.7 L126.9 446.1 L126.3 447 L125.7 447.8 L125.1 448.6ZM156.5 449.9 L157.5 449.2 L158.5 448.4 L159.5 447.7 L160.1 447.2 L160.5 447 L160.6 447 L161.3 446 L162.1 444.9 L162.8 443.9 L163.6 442.8 L163.6 442.8 L162.4 443.4 L161.2 444 L160.1 444.5 L159 445 L158.9 445.1 L158.6 445.5 L158.1 446.1 L157.2 446.9 L156.3 447.8 L155.4 448.6ZM184.3 450.3 L186.1 449.5 L187.9 448.6 L189.7 447.8 L191.5 447 L191.9 446.9 L192.6 447 L193.5 446.4 L195.1 445.2 L196.8 444 L198.4 442.9 L198.4 442.9 L196.4 443.2 L194.4 443.6 L192.4 444 L191.4 444.3 L191 444.9 L190.7 445.1 L188.9 446 L187.1 447 L185.3 447.9 L183.6 448.9ZM230 439.4 L228 441 L226.1 442.5 L224 443.9 L221.9 445.3 L220.3 446.3 L219.5 446.1 L219.4 446.1 L217.7 448 L216 449.9 L214.4 451.9 L214.4 451.9 L216.7 450.8 L219 449.8 L221.4 448.9 L221.4 448.8 L221.5 448 L223 446.9 L225.1 445.4 L227.1 443.9 L229.1 442.3 L231 440.6ZM262.5 438.6 L260.4 440.5 L258.2 442.3 L255.9 443.8 L253.4 445.3 L250.9 446.7 L250.4 447 L249.4 446.5 L248.1 447.7 L246.1 449.9 L244 452 L244 452 L246.8 451 L249.6 450.2 L251.3 449.7 L251.3 448.6 L251.9 448.3 L254.3 446.9 L256.8 445.3 L259.2 443.6 L261.4 441.8 L263.6 439.7ZM280.9 443.8 L281.8 444.7 L282.7 445.5 L283.7 446.3 L284.2 446.7 L284.6 447.1 L284.7 447.2 L285.7 447.5 L286.8 447.9 L288 448.4 L289.1 448.8 L289.1 448.8 L288.4 447.8 L287.6 446.9 L286.8 445.9 L286 445.1 L285.9 445 L285.5 444.9 L284.9 444.5 L283.9 443.9 L282.9 443.2 L282 442.5ZM314.6 439.3 L314.7 441.1 L314.9 442.8 L315.2 444.6 L315.5 446.1 L315.5 446.4 L315.4 446.8 L316 448 L316.8 449.6 L317.6 451.2 L318.4 452.8 L318.4 452.8 L318.4 451 L318.3 449.2 L318.2 447.5 L318.1 446.1 L317.8 445.8 L317.6 445.6 L317.2 444.1 L316.8 442.5 L316.5 440.8 L316.2 439.1ZM341.2 440 L342.4 442 L343.9 443.9 L345.6 445.5 L347.4 446.9 L348.3 447.5 L348.5 448.3 L348.9 448.5 L350.9 449.5 L352.8 450.7 L354.6 452.1 L354.6 452.1 L353.5 450.1 L352.3 448.1 L350.8 446.2 L350.3 445.7 L349.5 445.8 L348.6 445.2 L346.7 444 L345.1 442.6 L343.7 441 L342.5 439.2ZM390.4 443.4 L387.6 443.8 L384.8 444.2 L382 444.7 L379.2 445.2 L376.4 445.7 L376 445.8 L375.2 445.1 L373.5 446 L371 447.4 L368.5 448.8 L368.5 448.8 L371.4 448.7 L374.3 448.6 L376.1 448.6 L376.5 447.7 L376.9 447.6 L379.6 447 L382.3 446.4 L385.1 445.9 L387.8 445.4 L390.6 444.9ZM423.5 445.8 L420.3 445.7 L417.2 445.6 L414 445.4 L410.8 445.2 L407.6 444.9 L406.5 444.8 L405.9 443.8 L404.4 444.1 L401.2 444.9 L398 445.8 L398 445.8 L401.2 446.5 L404.4 447.3 L405.8 447.7 L406.4 446.7 L407.6 446.8 L410.7 447 L413.9 447.2 L417.1 447.3 L420.3 447.3 L423.5 447.3ZM446 444.6 L445 444.7 L444 444.8 L443 444.8 L442.4 444.9 L441.9 444.9 L441.7 444.9 L441 445.3 L440.1 445.8 L439.1 446.2 L438.2 446.7 L438.2 446.7 L439.2 446.9 L440.3 447 L441.3 447.2 L442.2 447.3 L442.4 447.2 L442.7 447.1 L443.3 446.9 L444.3 446.7 L445.3 446.5 L446.2 446.3ZM476.3 447.6 L475.8 447 L475.3 446.4 L474.8 445.8 L474.5 445.5 L474.4 445.2 L474.2 445 L473.7 444.8 L473 444.5 L472.2 444.2 L471.4 443.9 L471.4 443.9 L471.7 444.7 L472 445.5 L472.3 446.3 L472.4 446.7 L472.7 446.9 L473 447 L473.3 447.3 L473.9 447.8 L474.5 448.3 L475.1 448.8ZM508.7 447.6 L507.9 447 L507.1 446.4 L506.3 445.7 L505.9 445.4 L505.6 445.1 L505.4 444.9 L504.6 444.7 L503.6 444.4 L502.6 444.1 L501.6 443.9 L501.6 443.9 L502.2 444.7 L502.9 445.5 L503.5 446.3 L504 447 L504.2 447.1 L504.6 447.2 L505.1 447.5 L506 448 L506.9 448.5 L507.8 449ZM539.2 448.2 L538.7 447.5 L538.2 446.8 L537.7 446.1 L537.4 445.6 L537.2 445.3 L537.1 445.1 L536.5 444.7 L535.7 444.3 L534.9 443.8 L534 443.4 L534 443.4 L534.3 444.3 L534.7 445.2 L535 446 L535.2 446.7 L535.4 446.8 L535.7 447 L536 447.4 L536.6 448 L537.3 448.7 L537.9 449.3ZM574.7 448.6 L573 447.8 L571.4 447 L569.8 446.1 L568.2 445.1 L568.1 445.1 L567.8 444.4 L566.6 444.1 L564.7 443.6 L562.8 443.2 L560.9 442.8 L560.9 442.8 L562.5 443.9 L564 445 L565.5 446.2 L566.4 447 L567.1 447 L567.2 447 L568.8 447.8 L570.5 448.7 L572.3 449.4 L574.1 450.1ZM606 443.2 L604.2 443.7 L602.4 444.2 L600.6 444.6 L598.8 445 L598.7 445.1 L598 444.8 L596.9 445.4 L595.2 446.2 L593.5 447.1 L591.8 447.9 L591.8 447.9 L593.7 447.9 L595.6 447.8 L597.5 447.7 L598.8 447.7 L599.2 447.1 L599.3 447.1 L601.1 446.5 L602.9 446 L604.7 445.4 L606.5 444.8ZM636.2 441.2 L634.6 442.1 L633 443.1 L631.4 444.2 L629.8 445.2 L629.7 445.2 L629 445.3 L628.2 446.2 L626.9 447.6 L625.6 448.9 L624.3 450.3 L624.3 450.3 L626 449.6 L627.8 448.9 L629.6 448.1 L630.7 447.7 L631 447 L631 446.9 L632.5 445.8 L634 444.7 L635.5 443.6 L637.1 442.5ZM669.9 441 L667.7 442 L665.6 443.1 L663.5 444.1 L661.3 445.2 L660 445.9 L659.2 445.6 L659 445.8 L657.1 447.4 L655.3 448.9 L653.4 450.5 L653.4 450.5 L655.8 449.9 L658.1 449.2 L660.5 448.6 L660.7 448.5 L661 447.7 L662.3 446.9 L664.3 445.8 L666.4 444.6 L668.5 443.5 L670.6 442.4ZM45.5 433 L46.7 432.2 L48 431.3 L49.2 430.6 L50 430.1 L50.6 430 L50.7 429.9 L51.7 428.8 L52.8 427.7 L53.8 426.5 L54.8 425.4 L54.8 425.4 L53.4 426 L52 426.6 L50.6 427.2 L49.1 427.7 L49.2 427.7 L48.8 428.3 L48.1 428.8 L46.9 429.7 L45.7 430.7 L44.5 431.6ZM78.1 432.8 L79.1 432 L80 431.2 L81 430.5 L81.6 430 L82.1 429.8 L82.2 429.7 L82.9 428.8 L83.6 427.7 L84.3 426.6 L85.1 425.6 L85.1 425.6 L83.9 426.2 L82.8 426.7 L81.6 427.3 L80.5 427.8 L80.5 427.9 L80.2 428.3 L79.6 428.8 L78.7 429.7 L77.8 430.6 L77 431.6ZM109.4 432.7 L110.4 432 L111.4 431.2 L112.4 430.5 L113 430 L113.4 429.8 L113.5 429.7 L114.2 428.8 L115 427.7 L115.7 426.7 L116.5 425.6 L116.5 425.6 L115.3 426.2 L114.2 426.7 L113 427.3 L111.9 427.8 L111.9 427.9 L111.6 428.3 L111 428.8 L110.1 429.7 L109.2 430.6 L108.3 431.5ZM140.8 432.7 L141.8 432 L142.8 431.2 L143.8 430.5 L144.4 430 L144.8 429.8 L144.9 429.7 L145.6 428.8 L146.4 427.7 L147.1 426.7 L147.9 425.6 L147.9 425.6 L146.7 426.2 L145.5 426.7 L144.4 427.3 L143.3 427.8 L143.3 427.9 L142.9 428.3 L142.4 428.8 L141.5 429.7 L140.6 430.6 L139.7 431.4ZM173.9 431.6 L174.5 431.1 L175.1 430.6 L175.6 430.1 L176 429.8 L176.3 429.7 L176.5 429.5 L176.7 429 L177 428.3 L177.3 427.5 L177.5 426.7 L177.5 426.7 L176.8 427 L176 427.3 L175.2 427.6 L174.7 427.7 L174.6 428 L174.4 428.3 L174.1 428.6 L173.7 429.2 L173.2 429.8 L172.7 430.4ZM213.1 422.4 L211.4 423.8 L209.7 425.2 L207.9 426.7 L206.1 428.1 L205.3 428.8 L204.5 428.7 L204.1 429.2 L202.8 431.2 L201.5 433.2 L200.4 435.2 L200.4 435.2 L202.3 433.8 L204.2 432.6 L206.1 431.4 L206.6 431.2 L206.7 430.3 L207.5 429.6 L209.1 428.1 L210.8 426.6 L212.5 425.1 L214.2 423.6ZM241.8 421.3 L240.6 423 L239.4 424.8 L238.3 426.6 L237.3 428.3 L237 428.8 L236.3 429.1 L236 430 L235.4 431.9 L234.6 433.9 L233.8 435.8 L233.8 435.8 L235.4 434.4 L236.9 432.9 L238.3 431.3 L239 430.6 L238.8 429.8 L239.1 429.3 L240 427.5 L241 425.7 L242 424 L243.1 422.2ZM273.6 423.1 L272.5 424.4 L271.3 425.7 L270.1 426.9 L268.9 428 L268.7 428 L268.3 428.1 L267.5 429.3 L266.6 430.8 L265.6 432.3 L264.7 433.9 L264.7 433.9 L266.2 432.9 L267.7 431.9 L269.1 430.9 L270.3 430.1 L270.4 429.7 L270.5 429.5 L271.5 428.3 L272.7 427 L273.8 425.6 L274.9 424.2ZM302.1 424.7 L301.5 425.6 L301 426.5 L300.5 427.4 L300.1 428 L299.9 428.3 L299.7 428.5 L299.6 429.4 L299.4 430.5 L299.3 431.6 L299.2 432.7 L299.2 432.7 L299.9 431.9 L300.6 431 L301.4 430.2 L302 429.5 L302 429.4 L302.1 428.9 L302.4 428.4 L302.8 427.4 L303.2 426.4 L303.6 425.4ZM338.6 426.3 L337 426.7 L335.4 427.1 L333.7 427.5 L332.4 427.7 L332 427.6 L331.7 427.5 L330.4 428.2 L328.8 429 L327.3 429.9 L325.9 430.9 L325.9 430.9 L327.6 430.6 L329.3 430.4 L331 430.3 L332.4 430.3 L332.6 430.1 L332.9 429.8 L334.2 429.5 L335.8 429 L337.5 428.4 L339.1 427.9ZM378.5 426.6 L374.8 427 L371.1 427.4 L367.4 427.7 L363.6 427.9 L359.8 428.3 L358.5 428.6 L357.6 427.5 L355.8 428.3 L352.4 430.3 L349.2 432.5 L349.2 432.5 L353 431.8 L356.8 431.6 L358.5 431.7 L358.8 430.4 L360.2 430.1 L363.8 429.7 L367.5 429.5 L371.3 429.1 L375 428.6 L378.7 428.1ZM412.7 424.9 L408.2 425.6 L403.8 426.3 L399.3 427.1 L394.9 428 L390.5 428.9 L387.5 429.5 L386.7 428.5 L385.9 428.8 L381.7 430.7 L377.5 432.5 L377.5 432.5 L382.1 432.6 L386.7 432.6 L387.6 432.6 L387.9 431.3 L390.9 430.7 L395.3 429.7 L399.7 428.8 L404.1 427.9 L408.5 427.1 L412.9 426.4ZM445.3 426.3 L440.6 426.5 L435.8 426.8 L431 427.3 L426.3 428 L421.6 428.7 L417.9 429.2 L417.2 428.2 L416.8 428.3 L412.2 430 L407.7 431.6 L407.7 431.6 L412.5 432 L417.4 432.3 L417.8 432.3 L418.2 431.1 L421.9 430.5 L426.6 429.7 L431.3 429 L436 428.4 L440.7 428 L445.4 427.8ZM473.4 429.8 L469.5 429.1 L465.6 428.6 L461.8 428.2 L457.9 427.9 L454 427.7 L452.6 427.7 L452 426.5 L450.1 426.9 L446.2 427.7 L442.3 428.5 L442.3 428.5 L446.2 429.4 L450.1 430.3 L451.9 430.7 L452.5 429.6 L453.9 429.6 L457.8 429.7 L461.6 430 L465.5 430.3 L469.3 430.7 L473.1 431.2ZM497 428.7 L495.1 428.5 L493.2 428.2 L491.2 428 L489.3 427.8 L489.1 427.8 L488.5 427.3 L487.4 427.4 L485.4 427.7 L483.5 427.9 L481.5 428.1 L481.5 428.1 L483.4 428.7 L485.3 429.4 L487.2 429.9 L488.3 430.3 L488.9 429.9 L489.1 429.9 L491.1 430 L493 430.1 L494.9 430.2 L496.8 430.4ZM523.7 428.5 L523 428.3 L522.2 428.1 L521.5 427.9 L521.1 427.8 L520.8 427.7 L520.5 427.6 L520 427.7 L519.2 427.9 L518.4 428.1 L517.6 428.3 L517.6 428.3 L518.3 428.8 L519 429.3 L519.7 429.7 L520.1 430 L520.4 430 L520.7 430 L521.2 430 L521.9 430.1 L522.7 430.1 L523.4 430.2ZM555.8 427.3 L554.8 427.4 L553.8 427.5 L552.8 427.6 L552.2 427.7 L551.8 427.7 L551.6 427.6 L550.8 428 L549.9 428.5 L549 429 L548 429.5 L548 429.5 L549.1 429.6 L550.1 429.8 L551.2 430 L552 430.1 L552.2 430 L552.6 429.9 L553.1 429.7 L554.1 429.5 L555.1 429.2 L556.1 429ZM594.1 423.4 L591.3 424.5 L588.5 425.7 L585.8 426.8 L583 428 L580.3 429.1 L579.3 429.4 L578.4 428.7 L577.4 429.4 L574.7 430.8 L571.9 432.1 L571.9 432.1 L574.9 432.4 L578.1 432.4 L579.6 432.3 L579.8 431.2 L580.9 430.9 L583.7 429.7 L586.5 428.4 L589.2 427.2 L591.9 426 L594.7 424.8ZM624.4 424.1 L621.9 425.1 L619.4 426.1 L616.9 427 L614.4 428 L611.9 428.9 L611.9 428.9 L611.1 428.3 L609.3 429.5 L607 431.1 L604.7 432.6 L604.7 432.6 L607.4 432.3 L610.1 431.9 L612.3 431.7 L612.6 430.7 L612.6 430.7 L615.1 429.7 L617.6 428.7 L620.1 427.7 L622.5 426.6 L625 425.6ZM655.8 424.2 L653.3 425.2 L650.8 426.1 L648.3 427 L645.8 428 L643.3 428.9 L643.2 428.9 L642.4 428.4 L640.6 429.7 L638.4 431.3 L636.2 433 L636.2 433 L638.9 432.5 L641.6 432 L643.7 431.7 L644 430.8 L644 430.7 L646.5 429.7 L649 428.7 L651.4 427.7 L653.9 426.7 L656.4 425.6ZM61.8 416.4 L63 415.4 L64.1 414.4 L65.2 413.4 L65.9 412.8 L66.5 412.6 L66.5 412.6 L67.4 411.3 L68.2 410 L69.1 408.7 L69.9 407.5 L69.9 407.5 L68.6 408.3 L67.3 409.1 L66 409.9 L64.7 410.6 L64.7 410.6 L64.4 411.2 L63.8 411.9 L62.7 413 L61.7 414.1 L60.7 415.2ZM94 415.8 L95 414.9 L95.9 414.1 L96.8 413.3 L97.4 412.8 L97.8 412.5 L97.9 412.4 L98.5 411.4 L99.2 410.3 L99.8 409.2 L100.5 408.1 L100.5 408.1 L99.4 408.7 L98.3 409.4 L97.2 410.1 L96.2 410.7 L96.1 410.8 L95.8 411.2 L95.3 411.8 L94.5 412.7 L93.7 413.6 L92.8 414.6ZM125.4 415.8 L126.3 414.9 L127.3 414.1 L128.2 413.3 L128.8 412.8 L129.2 412.5 L129.3 412.4 L129.9 411.4 L130.6 410.3 L131.2 409.2 L131.9 408.1 L131.9 408.1 L130.8 408.7 L129.7 409.4 L128.6 410.1 L127.5 410.7 L127.5 410.8 L127.2 411.2 L126.7 411.8 L125.9 412.7 L125 413.6 L124.2 414.6ZM156.8 415.8 L157.7 414.9 L158.7 414.1 L159.6 413.3 L160.2 412.8 L160.6 412.5 L160.7 412.4 L161.3 411.4 L161.9 410.3 L162.6 409.2 L163.3 408.1 L163.3 408.1 L162.1 408.7 L161 409.4 L159.9 410.1 L158.9 410.7 L158.9 410.8 L158.6 411.2 L158.1 411.8 L157.3 412.7 L156.4 413.6 L155.6 414.5ZM185.2 417.8 L186.8 416.4 L188.5 415.1 L190.1 413.7 L191.8 412.4 L192.3 411.9 L193.1 411.9 L193.7 411.2 L194.9 409.4 L196.1 407.5 L197.1 405.6 L197.1 405.6 L195.4 406.9 L193.6 408.1 L191.7 409.2 L191.1 409.6 L191 410.4 L190.4 410.9 L188.9 412.3 L187.3 413.7 L185.7 415.1 L184.1 416.6ZM227.4 406.2 L225.9 407.3 L224.5 408.5 L223.1 409.6 L221.8 410.8 L221.7 410.8 L221.1 410.9 L220.4 412 L219.3 413.5 L218.2 415 L217.1 416.5 L217.1 416.5 L218.7 415.6 L220.3 414.7 L222 413.7 L223.1 413.1 L223.2 412.4 L223.3 412.4 L224.5 411.1 L225.8 409.9 L227.1 408.7 L228.5 407.4ZM258.2 406.1 L256.9 407.3 L255.7 408.5 L254.4 409.7 L253.2 410.7 L253 410.8 L252.6 410.9 L251.8 412.1 L250.9 413.6 L249.9 415.1 L249 416.6 L249 416.6 L250.5 415.6 L251.9 414.6 L253.4 413.7 L254.6 412.9 L254.7 412.5 L254.8 412.2 L255.8 411.1 L257 409.8 L258.2 408.5 L259.4 407.2ZM286.9 405.8 L286.2 407.1 L285.5 408.5 L284.8 409.8 L284.5 410.6 L284 411.1 L284 411.1 L283.8 412.6 L283.5 414.1 L283.2 415.6 L282.9 417.1 L282.9 417.1 L283.8 415.9 L284.7 414.7 L285.6 413.4 L286.5 412.1 L286.5 412.1 L286.5 411.5 L286.8 410.6 L287.3 409.2 L287.9 407.9 L288.4 406.5ZM328.8 404.6 L325.6 406.1 L322.4 407.6 L319.3 409.2 L316.2 410.9 L313.1 412.7 L312.1 413.4 L310.9 412.9 L309.7 414.3 L307.7 417.4 L305.9 420.5 L305.9 420.5 L308.9 418.5 L312 416.8 L313.4 416.2 L313.2 415 L314.2 414.2 L317.1 412.4 L320.1 410.7 L323.2 409.1 L326.3 407.5 L329.4 405.9ZM359.9 405.1 L356.8 406.4 L353.6 407.8 L350.6 409.3 L347.6 410.8 L344.6 412.4 L343.5 413 L342.5 412.4 L341.3 413.4 L338.7 415.8 L336.2 418.1 L336.2 418.1 L339.5 417.2 L342.9 416.3 L344.4 415.9 L344.4 414.7 L345.5 414.1 L348.4 412.4 L351.4 410.8 L354.4 409.3 L357.4 407.9 L360.5 406.5ZM395.4 407.6 L391.4 408.4 L387.3 409.2 L383.3 410 L379.2 410.7 L375.1 411.5 L373.3 411.9 L372.5 410.9 L370.9 411.6 L367.1 413.4 L363.3 415.4 L363.3 415.4 L367.5 415.1 L371.7 415 L373.4 415 L373.7 413.8 L375.5 413.3 L379.6 412.5 L383.6 411.7 L387.6 410.8 L391.7 410 L395.7 409ZM429.6 408.9 L424.9 409.4 L420.1 409.8 L415.4 410.3 L410.7 410.7 L405.9 411.2 L402.2 411.7 L401.5 410.7 L401 410.8 L396.5 412.5 L392 414.3 L392 414.3 L396.8 414.5 L401.6 414.8 L402 414.8 L402.5 413.6 L406.2 413.1 L410.9 412.5 L415.6 412 L420.3 411.4 L425 410.9 L429.7 410.4ZM459.6 412.5 L455.3 412.2 L450.9 411.8 L446.6 411.3 L442.2 410.7 L437.8 410.2 L435.2 410.1 L434.7 408.9 L433.4 409.1 L429 410 L424.7 411.2 L424.7 411.2 L429.1 411.9 L433.4 412.8 L434.5 413.1 L435.1 412 L437.8 412.1 L442.1 412.5 L446.4 413 L450.8 413.4 L455.1 413.7 L459.5 414ZM487 411.6 L483.7 411.5 L480.3 411.3 L477 411 L473.6 410.7 L470.2 410.4 L469 410.3 L468.5 409.3 L466.8 409.5 L463.4 410.3 L460 411 L460 411 L463.4 411.9 L466.7 412.8 L468.2 413.3 L468.9 412.2 L470.1 412.3 L473.5 412.5 L476.8 412.7 L480.2 412.9 L483.6 413 L487 413.1ZM518.2 409.2 L514.9 409.6 L511.5 410 L508.2 410.3 L504.8 410.7 L501.5 411.1 L500.3 411.2 L499.6 410.1 L498.1 410.7 L494.8 411.7 L491.5 412.7 L491.5 412.7 L494.9 413.3 L498.3 413.9 L499.9 414.2 L500.4 413 L501.6 412.9 L505 412.5 L508.4 412.1 L511.7 411.6 L515.1 411.1 L518.4 410.6ZM548.7 407.8 L545.6 408.6 L542.4 409.3 L539.3 410 L536.1 410.7 L532.9 411.4 L531.8 411.6 L531 410.7 L529.7 411.3 L526.6 412.5 L523.5 413.6 L523.5 413.6 L526.8 414.1 L530.1 414.4 L531.7 414.5 L532.1 413.4 L533.3 413.2 L536.5 412.5 L539.7 411.7 L542.8 410.9 L546 410.1 L549.1 409.3ZM578.9 405.1 L576 406.5 L573.1 407.9 L570.2 409.4 L567.3 410.8 L564.4 412.2 L563.3 412.6 L562.4 411.9 L561.2 412.8 L558.5 414.7 L555.6 416.4 L555.6 416.4 L558.9 416.2 L562.3 415.8 L563.9 415.6 L564 414.4 L565.1 413.9 L568.1 412.4 L571 410.9 L573.8 409.4 L576.7 407.9 L579.6 406.4ZM609.9 406.4 L607.1 407.5 L604.3 408.6 L601.5 409.7 L598.7 410.8 L595.9 411.9 L594.9 412.2 L594 411.6 L592.9 412.4 L590.4 414.2 L587.9 416 L587.9 416 L591 415.6 L594 415.3 L595.4 415.1 L595.6 414 L596.6 413.6 L599.4 412.5 L602.2 411.3 L604.9 410.1 L607.7 409 L610.4 407.8ZM644.3 404.6 L640.7 406.1 L637.1 407.6 L633.6 409.2 L630 410.8 L626.5 412.4 L625.3 413 L624.2 412.2 L622.7 413.4 L619.5 415.7 L616.3 418.1 L616.3 418.1 L620.2 417.3 L624.1 416.4 L626 416 L626.1 414.7 L627.3 414.1 L630.8 412.4 L634.3 410.7 L637.8 409.1 L641.3 407.5 L644.9 406ZM672.3 406.9 L669.6 407.9 L666.9 408.9 L664.2 409.8 L661.5 410.8 L658.8 411.7 L658.2 411.9 L657.3 411.3 L655.9 412.3 L653.5 414 L651.1 415.7 L651.1 415.7 L654 415.3 L656.9 415 L658.6 414.8 L658.9 413.7 L659.4 413.5 L662.1 412.5 L664.8 411.5 L667.5 410.4 L670.2 409.4 L672.9 408.3ZM47.9 396.8 L48.6 396.4 L49.2 396.1 L49.9 395.7 L50.3 395.5 L50.6 395.4 L50.9 395.3 L51.1 394.8 L51.5 394.1 L51.9 393.4 L52.4 392.7 L52.4 392.7 L51.5 392.8 L50.7 393 L49.9 393.1 L49.4 393.2 L49.2 393.4 L49 393.7 L48.7 394 L48.1 394.5 L47.5 394.9 L47 395.4ZM79.3 398 L80 397.3 L80.7 396.6 L81.4 395.8 L81.9 395.4 L82.2 395.2 L82.4 395 L82.7 394.3 L83.1 393.3 L83.5 392.3 L83.8 391.3 L83.8 391.3 L82.9 391.9 L82.1 392.4 L81.2 393 L80.4 393.4 L80.4 393.6 L80.2 394 L79.8 394.5 L79.2 395.3 L78.6 396.1 L78.1 396.9ZM108.9 399.8 L110 398.6 L111.2 397.4 L112.3 396.3 L113.2 395.4 L113.6 395.3 L113.8 395.2 L114.6 393.9 L115.4 392.5 L116.2 391 L117 389.5 L117 389.5 L115.7 390.5 L114.3 391.5 L113 392.5 L111.8 393.3 L111.7 393.5 L111.6 394 L110.8 394.9 L109.7 396.1 L108.7 397.4 L107.6 398.6ZM140.7 399.5 L141.8 398.4 L142.8 397.3 L143.9 396.2 L144.5 395.6 L145.1 395.3 L145.1 395.3 L145.8 393.9 L146.5 392.6 L147.2 391.2 L148 389.9 L148 389.9 L146.7 390.8 L145.5 391.7 L144.3 392.6 L143 393.5 L143 393.5 L142.8 394.1 L142.3 394.8 L141.3 396 L140.4 397.2 L139.5 398.4ZM172.7 399.3 L173.6 398.2 L174.5 397.2 L175.4 396.1 L176 395.5 L176.4 395.2 L176.5 395.1 L177 393.9 L177.6 392.6 L178.2 391.3 L178.8 390 L178.8 390 L177.7 390.9 L176.6 391.8 L175.5 392.7 L174.4 393.6 L174.4 393.6 L174.2 394.2 L173.7 394.9 L173 396 L172.2 397.1 L171.4 398.2ZM206 400.1 L206.5 398.8 L206.9 397.4 L207.4 396.1 L207.7 395.3 L208.1 394.8 L208.1 394.7 L208.2 393.3 L208.2 391.8 L208.2 390.3 L208.2 388.8 L208.2 388.8 L207.6 390.2 L206.9 391.5 L206.2 392.8 L205.5 394 L205.5 394 L205.6 394.6 L205.4 395.5 L205 396.9 L204.7 398.3 L204.4 399.7ZM244 388.5 L242.3 389.7 L240.6 390.9 L239 392.3 L237.5 393.7 L237.1 394 L236.3 394.1 L235.8 394.9 L234.6 396.6 L233.4 398.3 L232.2 400 L232.2 400 L234 399 L235.8 397.9 L237.6 396.8 L238.5 396.3 L238.5 395.5 L238.9 395.1 L240.3 393.7 L241.8 392.3 L243.4 391 L245 389.8ZM273.3 389 L272.2 390.2 L271 391.4 L269.9 392.5 L269 393.4 L268.6 393.5 L268.4 393.6 L267.7 394.9 L266.8 396.3 L266 397.7 L265.1 399.1 L265.1 399.1 L266.5 398.2 L267.9 397.3 L269.2 396.3 L270.4 395.5 L270.5 395.3 L270.6 394.8 L271.4 393.9 L272.5 392.7 L273.5 391.4 L274.6 390.2ZM302.1 390.2 L301.6 391.1 L301 392.1 L300.5 393 L300.1 393.5 L299.9 393.9 L299.7 394 L299.6 394.9 L299.4 396 L299.2 397.1 L299 398.2 L299 398.2 L299.8 397.4 L300.6 396.6 L301.3 395.8 L302 395.1 L302 394.9 L302.1 394.5 L302.4 393.9 L302.8 392.9 L303.2 392 L303.6 391ZM346.4 387.8 L342.8 389.2 L339.2 390.7 L335.6 392.1 L332 393.6 L328.4 395.2 L327.1 395.8 L326.1 395 L324.5 396.2 L321.5 398.9 L318.6 401.6 L318.6 401.6 L322.4 400.3 L326.1 399.2 L327.9 398.8 L328 397.5 L329.2 396.8 L332.7 395.2 L336.2 393.7 L339.8 392.2 L343.4 390.7 L346.9 389.2ZM378.5 388.2 L374.7 389.5 L370.9 390.8 L367.1 392.2 L363.4 393.6 L359.6 395 L358.2 395.5 L357.2 394.7 L355.6 395.7 L352.2 398 L348.8 400.3 L348.8 400.3 L352.9 399.6 L356.9 398.9 L358.8 398.6 L358.9 397.3 L360.3 396.7 L364 395.2 L367.7 393.8 L371.5 392.4 L375.2 391 L379 389.6ZM412.6 387.1 L408.2 388.7 L403.7 390.3 L399.2 391.9 L394.8 393.6 L390.3 395.2 L386.8 396.4 L385.8 395.5 L385.5 395.7 L381.3 398.1 L377.1 400.5 L377.1 400.5 L381.9 400.1 L386.8 399.5 L387.2 399.5 L387.4 398.2 L390.9 396.9 L395.4 395.2 L399.8 393.5 L404.3 391.8 L408.7 390.2 L413.2 388.5ZM442.2 389.4 L438.2 390.4 L434.2 391.4 L430.2 392.5 L426.2 393.5 L422.2 394.6 L420.4 395.1 L419.5 394.1 L418.1 394.9 L414.3 396.7 L410.5 398.6 L410.5 398.6 L414.7 398.4 L418.9 398.3 L420.6 398.2 L420.9 396.9 L422.7 396.4 L426.7 395.3 L430.7 394.1 L434.6 393 L438.6 391.9 L442.6 390.8ZM472.2 389.8 L468.5 390.7 L464.9 391.6 L461.2 392.6 L457.6 393.5 L454 394.5 L452.7 394.8 L451.8 393.8 L450.2 394.6 L446.8 396.2 L443.2 397.7 L443.2 397.7 L447.1 397.9 L450.9 397.9 L452.8 397.9 L453.1 396.6 L454.4 396.3 L458.1 395.3 L461.7 394.2 L465.3 393.2 L468.9 392.2 L472.5 391.3ZM503.5 389.8 L499.9 390.7 L496.3 391.7 L492.6 392.6 L489 393.5 L485.4 394.4 L484.1 394.7 L483.2 393.7 L481.6 394.5 L478.1 396 L474.5 397.5 L474.5 397.5 L478.4 397.7 L482.2 397.8 L484.1 397.8 L484.5 396.5 L485.8 396.2 L489.4 395.3 L493.1 394.3 L496.7 393.3 L500.3 392.2 L503.9 391.2ZM533.4 389.9 L530.1 390.8 L526.9 391.7 L523.6 392.6 L520.4 393.5 L517.1 394.4 L515.9 394.7 L515.1 393.8 L513.7 394.5 L510.6 396.1 L507.5 397.6 L507.5 397.6 L511 397.7 L514.5 397.7 L516.1 397.7 L516.4 396.5 L517.6 396.2 L520.8 395.3 L524.1 394.3 L527.3 393.3 L530.5 392.3 L533.8 391.4ZM564.3 390.2 L561.2 391.1 L558.1 392 L554.9 392.8 L551.8 393.5 L548.6 394.2 L547.5 394.5 L546.6 393.6 L545.3 394.3 L542.3 395.8 L539.3 397.3 L539.3 397.3 L542.7 397.4 L546 397.4 L547.5 397.4 L547.9 396.3 L549 396 L552.2 395.3 L555.3 394.5 L558.5 393.6 L561.6 392.6 L564.7 391.6ZM596.7 387.5 L593.2 388.9 L589.8 390.4 L586.4 392 L583 393.6 L579.6 395.2 L578.4 395.8 L577.3 395 L575.9 396.1 L572.9 398.5 L569.8 400.8 L569.8 400.8 L573.6 400 L577.3 399.2 L579.1 398.8 L579.2 397.5 L580.4 396.9 L583.8 395.2 L587.1 393.5 L590.5 391.9 L593.9 390.4 L597.3 388.9ZM627 388.1 L623.8 389.5 L620.7 390.8 L617.5 392.2 L614.4 393.6 L611.2 394.9 L610.1 395.4 L609.1 394.7 L607.8 395.7 L605 397.8 L602.1 399.9 L602.1 399.9 L605.6 399.3 L609.1 398.7 L610.7 398.4 L610.8 397.2 L612 396.7 L615.1 395.2 L618.2 393.8 L621.4 392.3 L624.5 390.9 L627.6 389.4ZM657.7 389.1 L654.8 390.3 L651.8 391.4 L648.8 392.5 L645.8 393.6 L642.8 394.6 L641.7 395 L640.8 394.3 L639.6 395.2 L636.9 397.1 L634.2 399 L634.2 399 L637.5 398.5 L640.7 398.1 L642.2 397.9 L642.4 396.8 L643.5 396.4 L646.4 395.2 L649.4 394.1 L652.4 392.9 L655.3 391.7 L658.3 390.5ZM62.8 383.1 L63.8 381.8 L64.7 380.5 L65.6 379.1 L66.3 378.1 L66.7 377.8 L66.9 377.7 L67.3 376.3 L67.9 374.8 L68.4 373.2 L68.9 371.6 L68.9 371.6 L67.8 372.8 L66.7 374 L65.5 375.2 L64.5 376.3 L64.5 376.5 L64.4 377 L63.9 378 L63.1 379.4 L62.2 380.8 L61.4 382.2ZM95.7 382.6 L96.3 381.4 L96.9 380.1 L97.5 378.8 L97.8 378.1 L98.2 377.6 L98.2 377.6 L98.4 376.3 L98.6 374.9 L98.8 373.5 L99 372.1 L99 372.1 L98.2 373.2 L97.4 374.4 L96.6 375.5 L95.8 376.7 L95.8 376.7 L95.7 377.3 L95.5 378.1 L95 379.4 L94.6 380.6 L94.1 381.9ZM126.6 381.9 L127.3 380.9 L127.9 379.8 L128.6 378.8 L129.1 378.2 L129.4 377.8 L129.5 377.7 L129.8 376.6 L130.2 375.3 L130.5 374.1 L130.8 372.8 L130.8 372.8 L129.9 373.8 L129 374.7 L128.1 375.6 L127.3 376.5 L127.3 376.6 L127.1 377.1 L126.8 377.7 L126.2 378.8 L125.7 380 L125.1 381.1ZM157 381.4 L157.9 380.6 L158.8 379.7 L159.7 378.8 L160.2 378.3 L160.6 378 L160.7 378 L161.3 376.9 L161.9 375.8 L162.5 374.7 L163.1 373.5 L163.1 373.5 L162.1 374.2 L161 374.9 L159.9 375.6 L158.9 376.3 L158.8 376.3 L158.6 376.8 L158.1 377.4 L157.3 378.3 L156.5 379.3 L155.7 380.3ZM188.3 381.4 L189.2 380.5 L190.1 379.7 L191 378.8 L191.5 378.3 L192 378 L192.1 378 L192.7 376.9 L193.3 375.8 L193.9 374.6 L194.4 373.5 L194.4 373.5 L193.4 374.2 L192.3 374.9 L191.3 375.6 L190.3 376.2 L190.2 376.3 L190 376.8 L189.5 377.3 L188.6 378.3 L187.8 379.2 L187 380.2ZM225.6 378.5 L225 378 L224.4 377.4 L223.8 376.8 L223.4 376.5 L223.2 376.2 L223 376 L222.5 375.9 L221.6 375.6 L220.8 375.4 L219.9 375.2 L219.9 375.2 L220.4 375.9 L220.8 376.7 L221.2 377.5 L221.5 378 L221.8 378.1 L222.1 378.2 L222.5 378.5 L223.2 379 L223.8 379.4 L224.5 379.9ZM258.7 374.4 L257.4 374.9 L256.1 375.3 L254.8 375.7 L254 376 L253.4 376 L253.4 376 L252.2 376.7 L251.1 377.5 L249.9 378.3 L248.7 379 L248.7 379 L250.1 378.9 L251.5 378.7 L252.9 378.6 L254.3 378.4 L254.3 378.4 L254.8 378 L255.5 377.7 L256.8 377.2 L258.1 376.6 L259.3 376ZM286.1 373.2 L285.6 374 L285.1 374.9 L284.7 375.9 L284.4 376.4 L284.1 376.7 L284 376.9 L284 377.7 L283.9 378.8 L283.8 379.8 L283.7 380.9 L283.7 380.9 L284.4 380.1 L285.1 379.3 L285.8 378.5 L286.3 377.8 L286.4 377.6 L286.4 377.2 L286.6 376.7 L286.9 375.7 L287.3 374.8 L287.6 373.9ZM327.5 370.9 L324.7 372.3 L321.8 373.6 L319 375 L316.2 376.4 L313.4 377.9 L312.4 378.5 L311.4 378 L310.3 379.1 L308.2 381.6 L306.4 384.2 L306.4 384.2 L309.2 382.8 L312.2 381.6 L313.5 381.2 L313.4 380.1 L314.4 379.5 L317.1 378 L319.8 376.6 L322.6 375.1 L325.4 373.7 L328.1 372.3ZM361 371.9 L357.7 373.1 L354.4 374.2 L351.1 375.3 L347.7 376.3 L344.4 377.4 L343.2 377.8 L342.2 377 L340.8 377.9 L337.8 380 L334.9 382.1 L334.9 382.1 L338.5 381.5 L342 381 L343.6 380.9 L343.8 379.6 L345 379.2 L348.3 378 L351.6 376.9 L354.9 375.7 L358.2 374.5 L361.5 373.3ZM396.7 370.6 L392.3 372.1 L387.9 373.6 L383.5 375 L379.1 376.3 L374.7 377.7 L371.5 378.7 L370.5 377.8 L369.9 378.1 L365.9 380.5 L361.8 383 L361.8 383 L366.5 382.4 L371.2 381.8 L371.8 381.8 L372.1 380.5 L375.3 379.4 L379.7 378 L384.1 376.6 L388.5 375.1 L392.8 373.6 L397.2 372ZM427.4 369.5 L423.1 371.2 L418.8 372.8 L414.6 374.6 L410.4 376.4 L406.2 378.2 L403.3 379.4 L402.3 378.5 L401.7 379 L397.8 381.6 L393.9 384.1 L393.9 384.1 L398.5 383.4 L403.1 382.6 L403.9 382.4 L404 381.1 L406.9 379.9 L411.1 378 L415.3 376.1 L419.5 374.3 L423.7 372.6 L427.9 370.9ZM457.9 370.8 L453.9 372.2 L449.9 373.5 L445.9 374.9 L441.8 376.3 L437.8 377.7 L435.7 378.5 L434.8 377.6 L433.6 378.3 L429.8 380.5 L426.1 382.7 L426.1 382.7 L430.4 382.2 L434.7 381.7 L436.2 381.5 L436.3 380.3 L438.5 379.5 L442.5 378 L446.4 376.5 L450.4 375.1 L454.4 373.6 L458.4 372.2ZM489.3 372.2 L485.3 373.3 L481.3 374.3 L477.3 375.3 L473.3 376.3 L469.3 377.3 L467.5 377.7 L466.6 376.8 L465.1 377.5 L461.3 379.4 L457.6 381.3 L457.6 381.3 L461.8 381.1 L466 380.9 L467.7 380.8 L467.9 379.6 L469.8 379.1 L473.7 378 L477.7 377 L481.7 375.9 L485.7 374.8 L489.7 373.6ZM519 371.9 L515.4 373.1 L511.8 374.2 L508.2 375.3 L504.7 376.3 L501.1 377.4 L499.8 377.7 L498.9 376.8 L497.3 377.7 L493.9 379.5 L490.5 381.3 L490.5 381.3 L494.3 381.1 L498.2 380.9 L500 380.8 L500.3 379.5 L501.6 379.2 L505.2 378 L508.7 376.9 L512.3 375.7 L515.9 374.6 L519.4 373.4ZM548.6 372.3 L545.5 373.3 L542.3 374.4 L539.2 375.4 L536 376.3 L532.9 377.2 L531.7 377.6 L530.8 376.7 L529.5 377.5 L526.5 379.3 L523.6 381 L523.6 381 L527 380.8 L530.4 380.6 L532 380.6 L532.3 379.4 L533.4 379 L536.6 378 L539.7 377 L542.9 375.9 L546 374.8 L549.1 373.7ZM581 370.3 L577.6 371.8 L574.2 373.3 L570.7 374.9 L567.3 376.4 L563.9 377.8 L562.6 378.3 L561.6 377.5 L560.1 378.5 L557 380.7 L553.7 382.8 L553.7 382.8 L557.6 382.3 L561.4 381.7 L563.2 381.4 L563.3 380.1 L564.6 379.5 L568 378 L571.4 376.4 L574.8 374.8 L578.2 373.2 L581.6 371.6ZM613.6 371.8 L609.9 373.1 L606.3 374.2 L602.6 375.3 L598.8 376.3 L595 377.3 L593.7 377.7 L592.8 376.8 L591.1 377.7 L587.6 379.8 L584.3 381.9 L584.3 381.9 L588.2 381.3 L592.1 380.9 L594 380.8 L594.3 379.5 L595.6 379.1 L599.3 378 L603 377 L606.7 375.8 L610.4 374.6 L614.1 373.2ZM642 370.2 L639 371.8 L636.1 373.4 L633.1 374.9 L630 376.4 L627 377.8 L625.9 378.3 L624.9 377.6 L623.7 378.7 L621 380.8 L618.2 383 L618.2 383 L621.6 382.3 L625.1 381.6 L626.6 381.3 L626.7 380.1 L627.8 379.5 L630.8 378 L633.8 376.4 L636.8 374.8 L639.8 373.2 L642.7 371.5ZM671.8 371.5 L669.2 372.7 L666.6 374 L664 375.2 L661.4 376.4 L658.8 377.5 L658.2 377.8 L657.3 377.2 L656 378.3 L653.7 380.2 L651.4 382 L651.4 382 L654.3 381.4 L657.2 380.9 L658.9 380.6 L659.1 379.5 L659.6 379.3 L662.2 378 L664.8 376.7 L667.4 375.5 L669.9 374.2 L672.5 372.9ZM48.4 366.9 L49.1 365.2 L49.7 363.6 L50.3 361.9 L50.9 360.5 L51 360.3 L51.4 360 L51.5 358.6 L51.7 356.9 L51.9 355.1 L52.1 353.3 L52.1 353.3 L51.2 354.8 L50.2 356.4 L49.3 357.9 L48.7 359.1 L48.8 359.6 L48.8 359.8 L48.4 361.3 L47.9 363 L47.4 364.7 L46.9 366.3ZM78.2 366 L79.1 364.6 L80.2 363.3 L81.2 361.9 L82 360.8 L82.3 360.7 L82.6 360.5 L83.2 359.2 L83.8 357.5 L84.3 355.9 L84.9 354.3 L84.9 354.3 L83.7 355.5 L82.5 356.8 L81.3 358 L80.3 358.9 L80.3 359.3 L80.2 359.6 L79.5 360.8 L78.6 362.2 L77.7 363.6 L76.8 365.1ZM112.7 365.5 L113 364.2 L113.3 362.8 L113.5 361.5 L113.7 360.6 L113.9 360.1 L114 360.1 L113.8 358.7 L113.6 357.3 L113.5 355.9 L113.3 354.5 L113.3 354.5 L112.8 355.8 L112.3 357.2 L111.9 358.5 L111.4 359.8 L111.4 359.8 L111.5 360.4 L111.4 361.2 L111.3 362.5 L111.2 363.9 L111 365.3ZM141.2 364.7 L142.1 363.7 L143 362.7 L143.9 361.7 L144.5 361.1 L145 360.8 L145.1 360.8 L145.7 359.5 L146.3 358.2 L146.9 356.9 L147.4 355.6 L147.4 355.6 L146.3 356.5 L145.3 357.4 L144.2 358.3 L143.1 359.1 L143.1 359.1 L142.8 359.7 L142.3 360.3 L141.5 361.4 L140.7 362.6 L139.9 363.7ZM171.6 362.4 L172.6 362 L173.7 361.7 L174.7 361.3 L175.4 361.1 L175.8 361.1 L176 361.1 L176.8 360.5 L177.8 359.8 L178.7 359 L179.6 358.2 L179.6 358.2 L178.4 358.4 L177.3 358.6 L176.1 358.7 L175.1 358.7 L175 358.8 L174.6 359.1 L174 359.3 L173 359.8 L171.9 360.3 L170.9 360.9ZM208.5 360 L208.4 359.5 L208.2 359.3 L208 359.3 L207.6 359.3 L207.2 359.3 L206.8 359.3 L206.3 359.2 L205.9 359.2 L205.5 359.2 L205.5 359.2 L205.7 359.6 L206 359.9 L206.2 360.3 L206.4 360.6 L206.6 361 L206.9 361.3 L207 361.5 L207.2 361.6 L207.7 361.4ZM240.8 360.5 L240.3 360.1 L239.8 359.7 L239.3 359.3 L239.2 359.3 L238.8 358.9 L238.7 358.8 L238.1 358.8 L237.4 358.8 L236.7 358.7 L236 358.7 L236 358.7 L236.4 359.3 L236.8 359.9 L237.2 360.5 L237.5 361 L237.6 361 L238.1 361.2 L238.2 361.2 L238.8 361.5 L239.3 361.7 L239.9 361.9ZM274 357.5 L272.8 357.9 L271.6 358.2 L270.4 358.6 L269.7 358.8 L269.2 358.8 L269.1 358.8 L268.1 359.4 L267 360.1 L265.9 360.8 L264.8 361.5 L264.8 361.5 L266.1 361.4 L267.4 361.3 L268.7 361.3 L269.9 361.2 L269.9 361.1 L270.4 360.8 L271.1 360.6 L272.3 360.1 L273.4 359.6 L274.6 359.1ZM308.5 351.9 L306.4 353.7 L304.3 355.5 L302.3 357.4 L300.3 359.3 L298.3 361.2 L298.2 361.4 L297.2 361.2 L296.1 363 L294.7 365.5 L293.4 368 L293.4 368 L295.7 366.4 L298.1 364.8 L299.8 363.7 L299.6 362.7 L299.7 362.6 L301.6 360.6 L303.5 358.7 L305.5 356.8 L307.5 354.9 L309.5 353.1ZM346.4 352.3 L342.8 354 L339.1 355.7 L335.5 357.4 L331.9 359.2 L328.3 361 L327 361.7 L325.9 361 L324.4 362.2 L321.3 365 L318.4 367.8 L318.4 367.8 L322.2 366.4 L326.1 365.2 L327.9 364.6 L327.9 363.3 L329.2 362.6 L332.7 360.8 L336.3 359 L339.9 357.2 L343.4 355.4 L347 353.7ZM377.7 353.2 L374.1 354.6 L370.4 356.1 L366.9 357.6 L363.3 359.1 L359.8 360.7 L358.5 361.3 L357.5 360.5 L356 361.6 L352.8 363.9 L349.5 366.2 L349.5 366.2 L353.4 365.5 L357.3 364.7 L359.2 364.3 L359.3 363 L360.6 362.4 L364.1 360.8 L367.6 359.1 L371.1 357.6 L374.7 356 L378.2 354.6ZM410.1 353.1 L406.3 354.6 L402.4 356.2 L398.6 357.7 L394.8 359.1 L390.9 360.6 L389.1 361.2 L388.2 360.3 L386.8 361.3 L383.2 363.5 L379.6 365.8 L379.6 365.8 L383.8 365.2 L388 364.5 L389.7 364.3 L389.8 363 L391.6 362.3 L395.4 360.8 L399.2 359.3 L403.1 357.7 L406.9 356.1 L410.7 354.5ZM441.2 354.3 L437.4 355.5 L433.7 356.7 L429.9 357.9 L426.2 359.1 L422.4 360.3 L421.1 360.8 L420.1 359.9 L418.4 360.9 L415 363 L411.6 365.1 L411.6 365.1 L415.6 364.6 L419.6 364.1 L421.5 363.8 L421.7 362.6 L423 362.1 L426.7 360.8 L430.5 359.6 L434.2 358.3 L437.9 357 L441.6 355.7ZM472.8 353.6 L468.9 354.8 L465.1 356.2 L461.3 357.6 L457.5 359.1 L453.7 360.6 L452.2 361.2 L451.2 360.4 L449.7 361.4 L446.2 363.7 L442.7 365.9 L442.7 365.9 L446.8 365.3 L450.9 364.6 L452.7 364.3 L452.9 363 L454.4 362.4 L458.2 360.8 L461.9 359.2 L465.7 357.7 L469.5 356.3 L473.3 355ZM502.7 354.8 L499.3 356 L495.9 357.1 L492.5 358.1 L489 359.1 L485.5 360 L484.2 360.3 L483.3 359.4 L481.8 360.2 L478.5 362 L475.2 363.8 L475.2 363.8 L479 363.7 L482.7 363.5 L484.4 363.4 L484.7 362.2 L486 361.8 L489.5 360.8 L492.9 359.8 L496.4 358.7 L499.9 357.5 L503.3 356.2ZM533.5 354.6 L530.3 355.8 L527 356.9 L523.7 358 L520.3 359.1 L517 360.2 L515.8 360.5 L514.9 359.7 L513.4 360.5 L510.4 362.4 L507.3 364.3 L507.3 364.3 L510.9 364 L514.5 363.7 L516.1 363.6 L516.4 362.3 L517.6 361.9 L520.9 360.8 L524.2 359.7 L527.5 358.5 L530.8 357.3 L534.1 356ZM565.6 353 L562.1 354.5 L558.6 356 L555.1 357.6 L551.6 359.1 L548.1 360.7 L546.9 361.2 L545.9 360.4 L544.4 361.5 L541.2 363.7 L537.9 365.9 L537.9 365.9 L541.8 365.3 L545.6 364.6 L547.5 364.2 L547.6 363 L548.9 362.4 L552.4 360.8 L555.8 359.1 L559.2 357.5 L562.7 355.9 L566.2 354.3ZM596.1 352 L592.8 353.7 L589.4 355.5 L586.2 357.3 L582.9 359.2 L579.7 361 L578.5 361.7 L577.4 361 L576.1 362.2 L573.2 364.7 L570.2 367.1 L570.2 367.1 L573.9 366.2 L577.6 365.2 L579.4 364.6 L579.4 363.3 L580.6 362.7 L583.8 360.7 L587 358.8 L590.3 356.9 L593.5 355.1 L596.8 353.3ZM628.1 353.1 L624.7 354.7 L621.3 356.2 L617.8 357.7 L614.4 359.1 L610.9 360.6 L609.7 361.1 L608.7 360.2 L607.2 361.3 L604 363.5 L600.9 365.7 L600.9 365.7 L604.7 365.1 L608.5 364.4 L610.3 364.1 L610.4 362.8 L611.6 362.3 L615.1 360.8 L618.5 359.3 L621.9 357.7 L625.4 356.1 L628.7 354.5ZM657.5 351 L654.5 353 L651.5 355 L648.5 357.1 L645.6 359.2 L642.7 361.3 L641.6 362 L640.4 361.4 L639.3 362.7 L636.7 365.3 L634 367.9 L634 367.9 L637.6 366.8 L641.1 365.6 L642.8 364.9 L642.6 363.6 L643.7 362.9 L646.6 360.7 L649.5 358.5 L652.5 356.3 L655.4 354.3 L658.4 352.2ZM64.2 346.8 L64.8 345.9 L65.4 345.1 L66 344.2 L66.3 343.7 L66.6 343.4 L66.8 343.2 L67 342.3 L67.2 341.2 L67.5 340.1 L67.7 339.1 L67.7 339.1 L66.9 339.8 L66.1 340.6 L65.3 341.3 L64.6 342 L64.6 342.1 L64.4 342.5 L64.1 343.1 L63.7 344.1 L63.2 345 L62.7 346ZM96.1 347.5 L96.6 346.4 L97.1 345.3 L97.5 344.2 L97.8 343.6 L98.1 343.2 L98.2 343.1 L98.3 341.9 L98.4 340.7 L98.4 339.4 L98.4 338.2 L98.4 338.2 L97.8 339.3 L97.1 340.3 L96.5 341.3 L95.8 342.2 L95.8 342.3 L95.8 342.8 L95.6 343.5 L95.2 344.6 L94.9 345.8 L94.5 346.9ZM130.6 348.7 L130.3 347.1 L130.1 345.5 L129.8 344 L129.5 343 L129.6 342.4 L129.6 342.3 L128.9 340.9 L128.1 339.5 L127.2 338.2 L126.2 336.9 L126.2 336.9 L126.5 338.4 L126.8 340 L126.9 341.6 L127 343 L127.1 343.1 L127.4 343.5 L127.7 344.5 L128.1 346 L128.5 347.5 L128.9 349ZM164 343.7 L163 343.2 L162.1 342.7 L161.1 342.2 L160.6 341.9 L160.2 341.6 L160.1 341.5 L159.1 341.4 L158 341.3 L156.9 341.2 L155.8 341 L155.8 341 L156.7 341.8 L157.5 342.5 L158.4 343.2 L159.1 343.8 L159.3 343.8 L159.7 343.9 L160.3 344.1 L161.3 344.5 L162.2 344.9 L163.2 345.3ZM194 344 L193.4 343.5 L192.9 342.9 L192.4 342.4 L192 342.1 L191.9 341.8 L191.7 341.6 L191.2 341.5 L190.4 341.2 L189.6 341 L188.8 340.8 L188.8 340.8 L189.2 341.6 L189.5 342.3 L189.9 343.1 L190.1 343.5 L190.4 343.6 L190.6 343.8 L191 344 L191.6 344.5 L192.2 344.9 L192.9 345.3ZM226.8 342.6 L225.8 342.4 L224.8 342.1 L223.7 341.9 L223.1 341.7 L222.7 341.6 L222.5 341.5 L221.6 341.6 L220.5 341.7 L219.4 341.9 L218.3 342 L218.3 342 L219.3 342.5 L220.3 343 L221.3 343.5 L222.1 343.9 L222.3 343.9 L222.7 343.9 L223.4 344 L224.4 344.1 L225.5 344.2 L226.5 344.3ZM265.3 337 L262.3 338.2 L259.4 339.5 L256.5 340.7 L253.6 341.9 L250.6 343 L249.5 343.3 L248.7 342.5 L247.5 343.2 L244.6 344.5 L241.5 345.6 L241.5 345.6 L244.8 346.1 L248.1 346.3 L249.7 346.2 L250 345.1 L251.1 344.8 L254.2 343.6 L257.1 342.3 L260.1 341 L263 339.7 L265.9 338.4ZM298.8 334.2 L295.3 336.2 L291.8 338.1 L288.3 340 L284.8 341.9 L281.3 343.8 L280 344.5 L278.9 343.7 L277.4 344.9 L274.2 347.4 L270.9 349.8 L270.9 349.8 L274.9 349 L278.9 348 L280.8 347.5 L280.8 346.2 L282.2 345.5 L285.7 343.5 L289.2 341.5 L292.6 339.6 L296.1 337.6 L299.6 335.5ZM328.9 332.5 L325.6 334.7 L322.3 337.1 L319.1 339.5 L316 342.1 L313 344.7 L311.9 345.6 L310.6 345.2 L309.5 346.7 L307 350 L304.6 353.3 L304.6 353.3 L308.2 351.3 L311.7 349.3 L313.4 348.3 L313.1 347.1 L314.2 346.1 L317.2 343.4 L320.3 340.8 L323.4 338.4 L326.5 336 L329.8 333.7ZM360.6 336.6 L357.3 337.8 L354.1 339.1 L350.8 340.5 L347.6 341.9 L344.4 343.4 L343.3 344 L342.3 343.3 L341 344.4 L338.2 346.7 L335.5 349.1 L335.5 349.1 L339 348.2 L342.5 347.3 L344.1 347 L344.2 345.7 L345.3 345.1 L348.4 343.5 L351.5 342 L354.7 340.6 L357.9 339.3 L361.2 338ZM394.1 337 L390.4 338.3 L386.6 339.6 L382.9 340.7 L379.1 341.9 L375.3 343 L374 343.5 L373.1 342.6 L371.3 343.6 L367.9 345.7 L364.5 347.8 L364.5 347.8 L368.5 347.3 L372.5 346.8 L374.4 346.6 L374.6 345.3 L375.9 344.8 L379.7 343.6 L383.4 342.4 L387.1 341.1 L390.9 339.8 L394.6 338.4ZM424 334.6 L420.6 336.5 L417.2 338.4 L413.8 340.2 L410.4 341.9 L406.9 343.7 L405.6 344.3 L404.6 343.5 L403.1 344.7 L400 347.1 L396.8 349.4 L396.8 349.4 L400.7 348.6 L404.5 347.7 L406.4 347.3 L406.5 346 L407.7 345.3 L411.2 343.5 L414.6 341.7 L418 339.8 L421.4 337.9 L424.7 335.9ZM454.1 338.2 L451 339.2 L448 340.1 L444.9 341 L441.9 341.9 L438.8 342.8 L437.7 343.1 L436.8 342.4 L435.6 343.2 L432.8 345 L430.1 346.8 L430.1 346.8 L433.3 346.5 L436.6 346.2 L438 346.1 L438.3 344.9 L439.4 344.6 L442.4 343.6 L445.5 342.6 L448.5 341.7 L451.5 340.7 L454.5 339.6ZM486.3 338.3 L483.1 339.3 L479.9 340.3 L476.6 341.1 L473.3 341.9 L470 342.6 L468.8 342.9 L468 342 L466.5 342.8 L463.5 344.4 L460.5 346.1 L460.5 346.1 L463.9 346 L467.4 345.9 L469 345.9 L469.3 344.7 L470.5 344.4 L473.7 343.6 L477 342.8 L480.3 341.9 L483.5 340.8 L486.7 339.7ZM516.4 334.2 L513.3 336.1 L510.3 338 L507.3 340 L504.4 342 L501.5 343.9 L500.4 344.6 L499.3 343.9 L498.1 345.1 L495.4 347.5 L492.6 349.8 L492.6 349.8 L496.2 349.1 L499.7 348.1 L501.4 347.5 L501.4 346.2 L502.4 345.5 L505.4 343.5 L508.3 341.4 L511.2 339.4 L514.2 337.4 L517.2 335.5ZM548.6 337 L545.4 338.2 L542.2 339.4 L539.1 340.7 L535.9 341.9 L532.8 343.2 L531.7 343.6 L530.7 342.9 L529.4 343.8 L526.6 345.9 L523.8 348 L523.8 348 L527.3 347.4 L530.7 346.9 L532.3 346.6 L532.4 345.4 L533.5 344.9 L536.6 343.6 L539.7 342.3 L542.8 341 L546 339.7 L549.1 338.4ZM579.5 337.4 L576.5 338.6 L573.5 339.7 L570.4 340.8 L567.4 341.9 L564.3 343 L563.2 343.4 L562.3 342.6 L561 343.5 L558.2 345.4 L555.5 347.3 L555.5 347.3 L558.8 346.9 L562.1 346.5 L563.7 346.3 L563.9 345.2 L564.9 344.7 L568 343.6 L571 342.4 L574.1 341.2 L577.1 340 L580.1 338.8ZM612.3 335.6 L608.8 337.1 L605.4 338.6 L602 340.2 L598.6 341.9 L595.3 343.7 L594.1 344.3 L593 343.5 L591.6 344.7 L588.7 347.2 L585.7 349.7 L585.7 349.7 L589.5 348.7 L593.2 347.7 L595 347.3 L595 346 L596.2 345.3 L599.5 343.5 L602.8 341.8 L606.1 340.1 L609.5 338.5 L612.9 336.9ZM643.3 336 L640 337.5 L636.7 339 L633.4 340.5 L630.1 341.9 L626.7 343.3 L625.5 343.9 L624.5 343.1 L623.1 344.1 L620.1 346.4 L617.2 348.6 L617.2 348.6 L620.8 347.9 L624.5 347.2 L626.2 346.9 L626.3 345.6 L627.5 345.1 L630.8 343.6 L634.1 342 L637.4 340.5 L640.7 338.9 L643.9 337.3ZM673.8 334.5 L670.6 336.3 L667.5 338.2 L664.4 340.1 L661.3 342 L658.2 343.9 L657.1 344.6 L656 343.9 L654.8 345.2 L652.2 347.9 L649.6 350.5 L649.6 350.5 L653.1 349.3 L656.6 348.1 L658.3 347.5 L658.2 346.2 L659.3 345.5 L662.3 343.5 L665.3 341.5 L668.4 339.6 L671.5 337.7 L674.5 335.8ZM48.9 329.7 L49.4 328.8 L49.9 327.9 L50.4 326.9 L50.7 326.4 L51 326 L51.1 325.9 L51.2 325 L51.4 323.9 L51.5 322.8 L51.7 321.7 L51.7 321.7 L50.9 322.5 L50.2 323.3 L49.5 324.1 L48.8 324.8 L48.8 325 L48.7 325.4 L48.5 326 L48.1 327 L47.7 328 L47.4 329ZM86.8 324.6 L85.4 324.5 L84 324.4 L82.6 324.4 L81.8 324.4 L81.2 324.2 L81.2 324.2 L79.9 324.6 L78.6 325 L77.2 325.2 L75.8 325.4 L75.8 325.4 L77.1 325.9 L78.5 326.3 L79.9 326.6 L81.3 326.8 L81.4 326.8 L81.9 326.6 L82.7 326.5 L84.1 326.4 L85.4 326.3 L86.7 326.3ZM117.7 323.8 L116.4 323.9 L115.1 324 L113.7 324.2 L113 324.3 L112.4 324.3 L112.3 324.3 L111.2 324.8 L110 325.4 L108.7 325.8 L107.5 326.3 L107.5 326.3 L108.8 326.5 L110.2 326.6 L111.5 326.7 L112.8 326.8 L112.9 326.7 L113.4 326.5 L114.2 326.3 L115.4 326 L116.7 325.7 L118 325.5ZM149 324.4 L147.7 324.4 L146.5 324.3 L145.2 324.4 L144.4 324.4 L143.9 324.3 L143.8 324.3 L142.7 324.7 L141.5 325.1 L140.3 325.4 L139 325.8 L139 325.8 L140.3 326.1 L141.6 326.3 L142.9 326.6 L144 326.8 L144.1 326.7 L144.6 326.6 L145.4 326.5 L146.6 326.3 L147.8 326.2 L149.1 326.1ZM180.4 324.6 L179.2 324.5 L177.9 324.5 L176.6 324.4 L175.9 324.4 L175.4 324.3 L175.3 324.3 L174.2 324.6 L172.9 324.9 L171.7 325.3 L170.4 325.6 L170.4 325.6 L171.7 325.9 L172.9 326.2 L174.2 326.5 L175.4 326.8 L175.5 326.7 L176 326.6 L176.7 326.5 L177.9 326.4 L179.2 326.4 L180.4 326.3ZM211.1 323.9 L210 324 L208.9 324.2 L207.7 324.3 L207.1 324.4 L206.6 324.3 L206.4 324.3 L205.5 324.8 L204.5 325.2 L203.4 325.7 L202.4 326.2 L202.4 326.2 L203.5 326.4 L204.7 326.5 L205.8 326.7 L206.9 326.8 L207 326.7 L207.4 326.5 L208.1 326.4 L209.2 326.1 L210.3 325.9 L211.4 325.6ZM244.7 322.8 L243 323.2 L241.3 323.6 L239.6 324.1 L238.1 324.4 L237.9 324.4 L237.4 324.3 L236.2 324.9 L234.6 325.7 L233 326.5 L231.4 327.3 L231.4 327.3 L233.2 327.3 L235 327.2 L236.8 327.1 L238.2 327 L238.5 326.7 L238.7 326.5 L240.1 326 L241.8 325.5 L243.5 325 L245.1 324.5ZM279.4 319.5 L276.8 320.8 L274.2 322.1 L271.7 323.4 L269.1 324.7 L266.6 326 L266 326.3 L265.1 325.8 L263.9 326.9 L261.6 328.7 L259.2 330.5 L259.2 330.5 L262.1 330 L265 329.4 L266.8 329.1 L266.9 328 L267.4 327.7 L270 326.3 L272.5 324.9 L275 323.5 L277.5 322.2 L280.1 320.9ZM311.5 319.2 L308.7 320.5 L306 321.9 L303.2 323.3 L300.5 324.7 L297.8 326.2 L296.8 326.7 L295.8 326.1 L294.8 327.1 L292.5 329.2 L290.2 331.4 L290.2 331.4 L293.2 330.6 L296.3 329.8 L297.7 329.5 L297.7 328.3 L298.7 327.8 L301.4 326.3 L304 324.8 L306.7 323.4 L309.4 321.9 L312.1 320.5ZM343.1 318.6 L340.2 320 L337.4 321.5 L334.6 323.1 L331.8 324.8 L329.1 326.5 L328.2 327.1 L327.1 326.6 L326.1 327.7 L323.9 330.1 L321.7 332.5 L321.7 332.5 L324.7 331.4 L327.8 330.3 L329.2 329.8 L329.2 328.7 L330.2 328 L332.8 326.3 L335.5 324.6 L338.2 322.9 L341 321.4 L343.7 319.9ZM374.3 322.4 L371.6 322.9 L368.9 323.5 L366.2 324.1 L363.5 324.6 L360.8 325.2 L360.6 325.2 L359.8 324.6 L358 325.5 L355.5 326.9 L353.1 328.4 L353.1 328.4 L355.9 328.2 L358.7 328.1 L360.7 328.1 L361.1 327.1 L361.3 327.1 L363.9 326.4 L366.6 325.8 L369.3 325.2 L371.9 324.5 L374.6 323.9ZM400.4 322.6 L399 323.1 L397.6 323.6 L396.1 324 L395.3 324.3 L394.6 324.3 L394.6 324.3 L393.3 325.1 L392 325.9 L390.7 326.7 L389.4 327.5 L389.4 327.5 L391 327.4 L392.5 327.2 L394 327 L395.5 326.8 L395.5 326.8 L396 326.3 L396.9 326 L398.2 325.4 L399.6 324.8 L401 324.2ZM433.2 319.1 L431.3 320.5 L429.4 321.9 L427.6 323.3 L425.8 324.8 L424.8 325.6 L424 325.5 L423.7 325.8 L422.3 327.6 L420.7 329.4 L419.1 331.2 L419.1 331.2 L421.3 330.3 L423.5 329.3 L425.7 328.2 L426.1 328 L426.1 327.1 L427.1 326.3 L428.8 324.7 L430.6 323.2 L432.4 321.8 L434.2 320.4ZM462.4 323.4 L461.2 323.6 L460 323.9 L458.8 324.2 L458 324.3 L457.5 324.3 L457.4 324.3 L456.4 324.9 L455.3 325.6 L454.1 326.2 L453 326.9 L453 326.9 L454.3 326.8 L455.6 326.8 L456.9 326.8 L458.1 326.8 L458.2 326.7 L458.6 326.5 L459.3 326.2 L460.5 325.8 L461.7 325.4 L462.9 325ZM496 321.1 L494.1 322 L492.3 322.8 L490.5 323.7 L488.7 324.6 L488.4 324.8 L487.6 324.6 L486.9 325.3 L485.3 326.6 L483.7 327.9 L482.1 329.2 L482.1 329.2 L484.1 328.7 L486.1 328.2 L488.1 327.6 L489.1 327.3 L489.4 326.6 L489.7 326.4 L491.4 325.4 L493.2 324.5 L494.9 323.5 L496.7 322.6ZM527.8 320.1 L525.8 321.1 L523.9 322.3 L521.9 323.5 L520 324.7 L519.1 325.3 L518.3 325.1 L517.9 325.6 L516.3 327.2 L514.7 328.9 L513.1 330.5 L513.1 330.5 L515.3 329.7 L517.4 328.9 L519.6 328 L520.1 327.8 L520.3 327 L521.2 326.3 L523 325 L524.8 323.8 L526.7 322.6 L528.6 321.4ZM561.3 321.9 L558.9 322.5 L556.5 323.2 L554.1 323.9 L551.7 324.6 L549.8 325.1 L549.1 324.7 L549 324.7 L546.9 326 L544.7 327.3 L542.5 328.6 L542.5 328.6 L545 328.4 L547.6 328.1 L550.1 327.9 L550.1 327.8 L550.4 327 L552.3 326.4 L554.6 325.7 L557 324.9 L559.4 324.1 L561.8 323.3ZM593.6 320.7 L590.9 321.7 L588.3 322.7 L585.7 323.7 L583 324.7 L580.4 325.6 L580 325.8 L579.2 325.2 L577.6 326.3 L575.2 327.9 L572.8 329.5 L572.8 329.5 L575.7 329.2 L578.6 328.8 L580.5 328.6 L580.7 327.6 L581.1 327.4 L583.7 326.4 L586.3 325.3 L588.9 324.3 L591.5 323.2 L594.1 322.1ZM628.3 320.4 L624.9 321.5 L621.4 322.6 L617.9 323.6 L614.5 324.7 L611 325.7 L609.7 326.1 L608.8 325.2 L607.3 326.2 L604.1 328.2 L601.1 330.3 L601.1 330.3 L604.7 329.8 L608.4 329.4 L610.2 329.2 L610.4 327.9 L611.6 327.5 L615 326.4 L618.5 325.3 L621.9 324.1 L625.4 323 L628.8 321.8ZM659.3 318.4 L655.9 319.9 L652.5 321.5 L649.1 323.1 L645.7 324.7 L642.4 326.4 L641.1 326.9 L640.1 326.2 L638.7 327.3 L635.7 329.7 L632.6 332.1 L632.6 332.1 L636.4 331.2 L640.1 330.4 L641.9 330 L642 328.7 L643.2 328 L646.5 326.3 L649.9 324.6 L653.2 322.9 L656.6 321.3 L660 319.7ZM62.8 312.5 L63.7 311.6 L64.5 310.8 L65.4 309.9 L66 309.4 L66.5 309.2 L66.5 309.1 L67.2 308.1 L67.8 307 L68.4 305.8 L69 304.7 L69 304.7 L68 305.4 L66.9 306.1 L65.8 306.8 L64.8 307.3 L64.7 307.4 L64.5 307.9 L64 308.4 L63.1 309.4 L62.3 310.4 L61.5 311.4ZM100.4 309.2 L99.7 308.8 L99 308.3 L98.3 307.8 L97.8 307.5 L97.6 307.3 L97.4 307.1 L96.7 307 L95.8 306.9 L94.8 306.7 L93.9 306.6 L93.9 306.6 L94.5 307.3 L95.1 308 L95.7 308.7 L96.1 309.3 L96.4 309.3 L96.7 309.4 L97.2 309.7 L98 310 L98.8 310.4 L99.6 310.7ZM135.6 306.1 L133.7 306.3 L131.8 306.6 L130 306.9 L128.1 307.3 L128 307.3 L127.4 307 L126.3 307.5 L124.5 308.3 L122.8 309.1 L121 309.9 L121 309.9 L122.9 309.9 L124.9 309.9 L126.8 309.9 L128 309.9 L128.5 309.4 L128.6 309.3 L130.4 308.9 L132.2 308.4 L134 308.1 L135.8 307.7ZM173.6 310.5 L170.1 309.8 L166.7 309.1 L163.3 308.3 L159.9 307.4 L156.5 306.6 L155.2 306.4 L154.9 305.2 L153.1 305.2 L149.5 305.6 L145.9 306.1 L145.9 306.1 L149.3 307.2 L152.6 308.5 L154.1 309.2 L154.9 308.2 L156.1 308.4 L159.5 309.2 L162.9 310 L166.4 310.7 L169.8 311.4 L173.3 312ZM194.6 307.5 L193.7 307.4 L192.9 307.3 L192 307.2 L191.5 307.2 L191.1 307.1 L190.9 307 L190.2 307.3 L189.4 307.6 L188.5 307.9 L187.6 308.3 L187.6 308.3 L188.5 308.6 L189.4 309 L190.2 309.3 L190.9 309.5 L191.1 309.5 L191.5 309.4 L192 309.4 L192.9 309.3 L193.7 309.2 L194.6 309.2ZM226.2 305.6 L225.2 306 L224.1 306.4 L223 306.9 L222.4 307.1 L222 307.2 L221.8 307.2 L221.1 307.9 L220.2 308.7 L219.3 309.4 L218.4 310.2 L218.4 310.2 L219.6 310 L220.7 309.9 L221.9 309.7 L222.9 309.5 L223 309.4 L223.4 309.1 L224 308.8 L224.9 308.2 L225.9 307.7 L226.9 307.2ZM264.6 306.2 L261.9 306.6 L259.3 307 L256.5 307.2 L253.8 307.4 L251 307.5 L250.9 307.5 L250.2 306.8 L248.2 307.4 L245.6 308.4 L242.9 309.4 L242.9 309.4 L245.7 309.7 L248.5 310 L250.5 310.3 L251 309.5 L251.2 309.4 L253.9 309.2 L256.7 309 L259.4 308.7 L262.2 308.2 L264.9 307.7ZM292.7 304.2 L290.8 305 L288.8 305.8 L286.9 306.6 L284.9 307.4 L284.2 307.6 L283.4 307.3 L282.8 307.8 L281 309 L279.2 310.3 L277.4 311.5 L277.4 311.5 L279.5 311.1 L281.7 310.8 L283.8 310.4 L284.6 310.2 L285 309.5 L285.6 309.2 L287.6 308.4 L289.5 307.5 L291.5 306.6 L293.4 305.7ZM326.4 303.8 L323.9 304.8 L321.4 305.7 L318.9 306.6 L316.3 307.4 L313.8 308.2 L313.7 308.2 L312.9 307.7 L311.1 308.9 L308.8 310.5 L306.6 312.1 L306.6 312.1 L309.3 311.6 L312 311.3 L314.1 311 L314.4 310.1 L314.4 310.1 L316.9 309.2 L319.5 308.3 L322 307.3 L324.5 306.3 L327 305.2ZM357.5 303.7 L355 304.6 L352.5 305.5 L350.1 306.4 L347.6 307.4 L345.4 308.4 L345.1 308.2 L344.5 307.9 L342.7 309.3 L340.6 311 L338.5 312.7 L338.5 312.7 L341.1 312.1 L343.7 311.6 L346 311.1 L346.1 310.5 L346.2 310.2 L348.4 309.2 L350.8 308.1 L353.2 307.1 L355.6 306.1 L358 305.1ZM389.1 306.1 L386.7 306.5 L384.2 306.8 L381.8 307.1 L379.3 307.3 L377.4 307.5 L376.7 306.9 L376.6 306.9 L374.3 307.8 L371.9 308.7 L369.5 309.7 L369.5 309.7 L372.1 309.8 L374.6 310 L377.1 310.3 L377.1 310.2 L377.6 309.5 L379.5 309.3 L382 308.9 L384.5 308.5 L386.9 308.1 L389.4 307.6ZM418.7 304.1 L416.7 304.9 L414.6 305.8 L412.5 306.6 L410.4 307.4 L409.4 307.8 L408.6 307.4 L408.1 307.8 L406.2 309.1 L404.3 310.3 L402.4 311.6 L402.4 311.6 L404.7 311.3 L407 310.9 L409.2 310.5 L409.8 310.4 L410.2 309.7 L411.1 309.2 L413.2 308.3 L415.3 307.4 L417.3 306.5 L419.4 305.5ZM448.2 302.6 L446.5 303.7 L444.7 304.9 L443.1 306.2 L441.5 307.5 L441.1 307.9 L440.3 307.9 L439.7 308.6 L438.5 310.3 L437.2 312 L435.8 313.6 L435.8 313.6 L437.7 312.7 L439.6 311.7 L441.5 310.7 L442.3 310.2 L442.4 309.4 L442.8 309.1 L444.3 307.7 L445.9 306.4 L447.5 305.1 L449.1 303.9ZM478.9 305.5 L477.5 305.9 L476 306.4 L474.6 306.8 L473.7 307.1 L473.1 307 L473.1 307 L471.8 307.9 L470.5 308.7 L469.2 309.5 L467.9 310.3 L467.9 310.3 L469.4 310.1 L470.9 310 L472.5 309.8 L474 309.6 L474 309.6 L474.5 309.1 L475.3 308.8 L476.7 308.2 L478.1 307.7 L479.5 307.1ZM510.7 306.5 L509.2 306.7 L507.7 306.9 L506.2 307 L505.3 307.1 L504.7 307 L504.7 307 L503.3 307.5 L501.8 308.1 L500.4 308.7 L499 309.3 L499 309.3 L500.5 309.3 L502.1 309.4 L503.6 309.5 L505.1 309.6 L505.1 309.6 L505.7 309.3 L506.5 309.1 L508 308.8 L509.5 308.5 L511 308.2ZM545.2 304.3 L542.9 305.1 L540.6 305.8 L538.3 306.6 L536 307.4 L534.3 307.9 L533.5 307.5 L533.4 307.6 L531.3 309 L529.2 310.4 L527.2 311.8 L527.2 311.8 L529.6 311.4 L532.1 311 L534.6 310.7 L534.7 310.7 L535 309.8 L536.6 309.2 L538.9 308.3 L541.2 307.5 L543.5 306.7 L545.7 305.8ZM578.3 304.6 L575.6 305.3 L572.9 306 L570.2 306.7 L567.4 307.4 L564.7 308.1 L564.3 308.2 L563.5 307.6 L561.9 308.5 L559.3 309.9 L556.8 311.3 L556.8 311.3 L559.7 311.2 L562.6 311.1 L564.5 311 L564.8 310.1 L565.2 310 L567.9 309.2 L570.6 308.4 L573.3 307.6 L576 306.9 L578.7 306.1ZM609.5 302.8 L606.7 303.9 L604 305 L601.3 306.2 L598.6 307.5 L596 308.8 L595.2 309.1 L594.3 308.6 L593.2 309.5 L590.8 311.4 L588.4 313.3 L588.4 313.3 L591.4 312.8 L594.4 312.2 L595.9 311.9 L596.1 310.8 L596.8 310.5 L599.5 309.1 L602.1 307.8 L604.7 306.5 L607.4 305.3 L610 304.2ZM644.3 304.1 L640.8 305 L637.3 305.8 L633.8 306.6 L630.2 307.4 L626.7 308.2 L625.4 308.6 L624.5 307.6 L622.9 308.4 L619.7 310.2 L616.4 312.1 L616.4 312.1 L620.2 311.9 L623.9 311.7 L625.6 311.7 L625.9 310.4 L627.1 310.1 L630.6 309.2 L634.2 308.3 L637.7 307.4 L641.2 306.5 L644.7 305.5ZM673.9 302.9 L670.8 304 L667.7 305.1 L664.6 306.3 L661.5 307.5 L658.4 308.7 L657.3 309.1 L656.3 308.4 L655.1 309.3 L652.3 311.3 L649.5 313.3 L649.5 313.3 L652.9 312.8 L656.3 312.3 L657.8 312.1 L658 310.9 L659.1 310.4 L662.1 309.1 L665.2 307.9 L668.3 306.6 L671.4 305.4 L674.4 304.3ZM53.1 292.7 L52.5 292.1 L51.9 291.4 L51.2 290.8 L50.9 290.4 L50.6 290.2 L50.5 290 L49.9 289.7 L49 289.5 L48.1 289.2 L47.2 288.9 L47.2 288.9 L47.7 289.7 L48.1 290.5 L48.6 291.3 L48.9 291.9 L49.2 292 L49.5 292.2 L49.9 292.5 L50.6 293 L51.3 293.5 L52 294ZM82.5 287.4 L81.9 288.2 L81.4 289 L80.8 289.7 L80.5 290.2 L80.3 290.5 L80.1 290.6 L80 291.4 L79.8 292.3 L79.5 293.3 L79.3 294.3 L79.3 294.3 L80.1 293.7 L80.9 293 L81.7 292.4 L82.2 291.9 L82.3 291.7 L82.4 291.3 L82.7 290.8 L83.1 290 L83.5 289.1 L83.9 288.3ZM114.7 285.3 L113.8 286.6 L113 287.9 L112.3 289.3 L111.9 290.1 L111.4 290.5 L111.4 290.5 L111.2 292 L110.8 293.5 L110.4 294.9 L109.9 296.4 L109.9 296.4 L111 295.3 L112 294.1 L113 292.9 L113.9 291.6 L113.9 291.6 L113.9 291 L114.2 290.1 L114.8 288.8 L115.4 287.5 L116.1 286.2ZM155.8 292.2 L152.9 291.7 L150 291.1 L147.1 290.6 L144.1 290.2 L141.2 289.8 L140.4 289.7 L139.8 288.8 L138.2 289 L135.2 289.7 L132.3 290.5 L132.3 290.5 L135.3 291.2 L138.1 292 L139.5 292.5 L140.2 291.6 L141.1 291.7 L143.9 292 L146.8 292.4 L149.7 292.8 L152.6 293.2 L155.5 293.7ZM187.2 295 L184.3 294.1 L181.4 293 L178.6 291.7 L175.8 290.3 L173.1 288.8 L172.1 288.3 L171.9 287.1 L170.5 286.8 L167.3 286.3 L164.1 285.9 L164.1 285.9 L166.7 287.7 L169.2 289.7 L170.3 290.6 L171.2 290 L172.3 290.5 L175 291.9 L177.8 293.3 L180.7 294.5 L183.7 295.6 L186.8 296.5ZM209.9 290.8 L209.2 290.6 L208.4 290.4 L207.7 290.2 L207.3 290 L207 289.9 L206.7 289.8 L206.2 289.9 L205.4 290.1 L204.6 290.3 L203.8 290.6 L203.8 290.6 L204.5 291 L205.2 291.5 L205.9 292 L206.3 292.3 L206.6 292.2 L206.9 292.2 L207.4 292.3 L208.1 292.3 L208.9 292.4 L209.6 292.4ZM241.4 289.4 L240.5 289.5 L239.6 289.7 L238.8 289.8 L238.2 289.9 L237.9 289.9 L237.6 289.9 L237.1 290.3 L236.3 290.9 L235.6 291.4 L234.8 292 L234.8 292 L235.7 292.1 L236.7 292.2 L237.6 292.3 L238.3 292.4 L238.5 292.2 L238.8 292.1 L239.3 291.9 L240.1 291.6 L240.9 291.3 L241.8 291ZM277.7 287.1 L275.6 287.9 L273.5 288.7 L271.3 289.4 L269.2 290.1 L268.2 290.5 L267.4 290.1 L267 290.4 L265 291.6 L263 292.7 L261 293.9 L261 293.9 L263.3 293.7 L265.6 293.5 L267.9 293.2 L268.5 293.2 L268.9 292.4 L269.9 292 L272 291.2 L274.1 290.3 L276.2 289.5 L278.3 288.6ZM309.7 285.2 L307.4 286.5 L305.1 287.8 L302.8 289 L300.5 290.2 L298.3 291.4 L298 291.2 L297.5 291 L295.8 292.5 L293.7 294.3 L291.7 296 L291.7 296 L294.3 295.4 L296.9 294.7 L299.1 294.1 L299.2 293.4 L299.3 293.1 L301.4 291.9 L303.7 290.6 L305.9 289.3 L308.2 287.9 L310.5 286.6ZM341.4 285.2 L338.9 286.4 L336.5 287.6 L334.2 288.9 L331.8 290.3 L329.5 291.6 L329.5 291.6 L328.6 291.3 L327.1 292.8 L325.1 294.7 L323.1 296.6 L323.1 296.6 L325.7 295.8 L328.4 295 L330.4 294.3 L330.5 293.4 L330.6 293.3 L332.8 291.9 L335.1 290.5 L337.4 289.1 L339.7 287.8 L342.1 286.6ZM371.2 288.3 L369.3 288.7 L367.3 289.2 L365.4 289.6 L363.4 290.1 L363.1 290.2 L362.4 289.9 L361.4 290.4 L359.6 291.3 L357.8 292.3 L356 293.3 L356 293.3 L358 293.1 L360.1 293 L362.1 292.9 L363.2 292.8 L363.6 292.2 L364 292.1 L365.9 291.5 L367.8 291 L369.7 290.4 L371.6 289.9ZM401.4 287.9 L399.7 288.5 L398.1 289 L396.4 289.5 L394.9 290 L394.7 290 L394.2 289.9 L393.1 290.6 L391.5 291.5 L390 292.4 L388.5 293.3 L388.5 293.3 L390.2 293.2 L392 293 L393.8 292.7 L395.2 292.6 L395.5 292.2 L395.6 292 L397.1 291.4 L398.7 290.8 L400.3 290.2 L402 289.5ZM434.1 287.2 L432.1 287.9 L430 288.6 L428 289.4 L426.1 290.1 L425.4 290.4 L424.6 290.1 L424 290.6 L422.2 291.9 L420.4 293.1 L418.6 294.4 L418.6 294.4 L420.8 294 L422.9 293.6 L425 293.2 L425.9 293 L426.2 292.3 L426.9 292 L428.8 291.2 L430.7 290.3 L432.7 289.5 L434.6 288.7ZM470.2 288.1 L467.1 288.6 L464 289.1 L460.8 289.7 L457.7 290.2 L454.5 290.8 L453.4 291 L452.6 290.2 L451.2 290.9 L448.3 292.5 L445.5 294.1 L445.5 294.1 L448.8 294 L452 293.9 L453.4 294 L453.8 292.9 L454.9 292.6 L458 292 L461.1 291.4 L464.3 290.8 L467.4 290.1 L470.5 289.5ZM498.5 289.2 L496.2 289.5 L493.8 289.7 L491.5 289.9 L489.1 290.1 L487.6 290.2 L487 289.6 L486.7 289.7 L484.4 290.5 L482.1 291.3 L479.8 292.2 L479.8 292.2 L482.2 292.4 L484.6 292.6 L487 292.9 L487.3 292.9 L487.8 292.2 L489.3 292.1 L491.7 291.8 L494 291.5 L496.4 291.1 L498.8 290.7ZM529.4 287.5 L527.2 288.2 L524.9 288.9 L522.6 289.5 L520.3 290.1 L518.9 290.5 L518.1 290.1 L517.9 290.2 L515.7 291.4 L513.6 292.5 L511.5 293.7 L511.5 293.7 L513.9 293.5 L516.3 293.4 L518.8 293.3 L519 293.2 L519.4 292.5 L520.9 292 L523.1 291.3 L525.4 290.6 L527.7 289.8 L529.9 289ZM563.4 288.1 L560.5 288.7 L557.6 289.2 L554.7 289.7 L551.8 290.2 L548.9 290.7 L548.1 290.9 L547.3 290.1 L545.9 290.8 L543.2 292.2 L540.5 293.6 L540.5 293.6 L543.5 293.6 L546.6 293.7 L548.1 293.7 L548.5 292.7 L549.3 292.5 L552.1 292 L555 291.4 L557.9 290.8 L560.8 290.2 L563.7 289.6ZM594.4 287.9 L591.6 288.5 L588.8 289.1 L586 289.7 L583.2 290.2 L580.3 290.7 L579.7 290.8 L579 290.1 L577.4 290.8 L574.8 292.1 L572.1 293.4 L572.1 293.4 L575.1 293.5 L578 293.6 L579.7 293.7 L580.1 292.7 L580.7 292.6 L583.5 292 L586.4 291.4 L589.2 290.7 L592 290.1 L594.8 289.4ZM628 286.4 L624.6 287.3 L621.2 288.2 L617.8 289.2 L614.5 290.2 L611.1 291.3 L609.9 291.6 L609 290.8 L607.6 291.6 L604.5 293.5 L601.4 295.4 L601.4 295.4 L605 295.1 L608.6 294.8 L610.3 294.7 L610.5 293.4 L611.7 293 L615 291.9 L618.3 290.9 L621.7 289.8 L625 288.8 L628.4 287.8ZM658.7 287.7 L655.5 288.4 L652.3 289 L649.1 289.6 L645.9 290.2 L642.7 290.8 L641.6 291 L640.8 290.2 L639.4 290.8 L636.4 292.3 L633.4 293.9 L633.4 293.9 L636.8 293.9 L640.1 294 L641.6 294 L642 292.9 L643.1 292.6 L646.3 292 L649.5 291.3 L652.7 290.6 L655.8 289.9 L659 289.2ZM137.8 272.8 L135.5 272.8 L133.1 272.8 L130.7 272.8 L128.3 272.9 L126.8 272.9 L126.2 272.3 L125.9 272.4 L123.5 273.1 L121.2 273.9 L118.9 274.6 L118.9 274.6 L121.3 274.9 L123.7 275.2 L126.1 275.6 L126.4 275.6 L126.9 275 L128.4 274.8 L130.8 274.7 L133.1 274.6 L135.5 274.5 L137.8 274.4ZM172 276.5 L169 275.5 L166 274.7 L163 273.8 L159.9 273 L156.9 272.2 L155.8 271.9 L155.5 270.9 L154 270.9 L150.8 271 L147.5 271.1 L147.5 271.1 L150.4 272.5 L153.3 273.9 L154.6 274.6 L155.4 273.8 L156.5 274 L159.5 274.7 L162.5 275.5 L165.6 276.2 L168.6 277.1 L171.6 277.9ZM202.9 275.9 L200 275.3 L197.1 274.6 L194.2 273.8 L191.4 273 L188.5 272.1 L187.5 271.8 L187.2 270.7 L185.8 270.7 L182.7 270.5 L179.6 270.3 L179.6 270.3 L182.3 272 L184.9 273.6 L186.1 274.3 L186.9 273.6 L188 273.9 L190.9 274.7 L193.8 275.5 L196.7 276.2 L199.7 276.8 L202.6 277.4ZM225.2 272.3 L224.4 272.4 L223.7 272.5 L222.9 272.6 L222.5 272.7 L222.2 272.7 L221.9 272.7 L221.5 273 L220.9 273.6 L220.2 274.1 L219.6 274.6 L219.6 274.6 L220.4 274.8 L221.2 274.9 L222 275.1 L222.5 275.1 L222.8 275 L223.1 274.8 L223.5 274.7 L224.2 274.4 L224.9 274.2 L225.6 273.9ZM259.4 274.3 L258.1 274 L256.8 273.6 L255.5 273.2 L254.7 272.9 L254.2 272.6 L254.2 272.6 L252.8 272.5 L251.4 272.5 L250 272.5 L248.6 272.5 L248.6 272.5 L249.8 273.1 L251.1 273.8 L252.3 274.4 L253.5 275.1 L253.5 275.1 L254.1 275.1 L254.9 275.2 L256.3 275.5 L257.7 275.8 L259 276ZM292.1 267.2 L290.1 268.5 L288.2 270 L286.3 271.5 L284.6 273.2 L283.5 274.2 L282.6 274.1 L282.5 274.3 L281.1 276.3 L279.6 278.1 L278 280 L278 280 L280.2 279 L282.4 277.9 L284.6 276.7 L284.9 276.5 L284.9 275.6 L285.9 274.6 L287.6 272.9 L289.3 271.3 L291.1 269.8 L293 268.5ZM323 268.1 L321.2 269.2 L319.4 270.4 L317.6 271.7 L316 273.1 L315.4 273.6 L314.6 273.6 L314.1 274.2 L312.8 275.9 L311.5 277.6 L310.1 279.3 L310.1 279.3 L312 278.3 L314 277.4 L315.9 276.3 L316.7 275.9 L316.8 275.1 L317.3 274.6 L318.9 273.2 L320.5 271.9 L322.1 270.6 L323.9 269.5ZM357.3 270 L354.9 270.6 L352.4 271.3 L350 272.1 L347.6 273 L345.8 273.7 L345.1 273.3 L345 273.2 L342.9 274.7 L340.8 276.2 L338.8 277.7 L338.8 277.7 L341.3 277.2 L343.8 276.8 L346.3 276.4 L346.3 276.3 L346.6 275.5 L348.4 274.8 L350.7 273.8 L353 273 L355.3 272.2 L357.7 271.5ZM386.8 272.3 L384.9 272.5 L383 272.6 L381.2 272.7 L379.3 272.8 L379.2 272.8 L378.6 272.5 L377.4 272.8 L375.6 273.4 L373.7 274 L371.9 274.6 L371.9 274.6 L373.8 274.8 L375.7 275 L377.6 275.2 L378.9 275.4 L379.4 274.9 L379.5 274.9 L381.3 274.7 L383.2 274.5 L385.1 274.2 L386.9 274ZM415.5 271.3 L414.2 271.7 L412.9 272.1 L411.6 272.4 L410.9 272.6 L410.3 272.7 L410.3 272.7 L409.2 273.4 L408.1 274.1 L407 274.9 L405.8 275.6 L405.8 275.6 L407.2 275.5 L408.5 275.4 L409.9 275.2 L411.1 275.1 L411.2 275 L411.6 274.7 L412.4 274.4 L413.6 273.9 L414.8 273.4 L416 273ZM456 271.6 L452.5 272 L449 272.4 L445.6 272.7 L442.1 273 L438.6 273.3 L437.3 273.4 L436.6 272.4 L435 273 L431.6 274.3 L428.3 275.7 L428.3 275.7 L431.9 276 L435.4 276.3 L437.1 276.5 L437.5 275.3 L438.8 275.1 L442.2 274.8 L445.7 274.4 L449.2 274 L452.7 273.6 L456.2 273.1ZM485 271.1 L482.1 271.6 L479.2 272.1 L476.3 272.5 L473.4 273 L470.5 273.4 L469.6 273.5 L468.9 272.7 L467.5 273.3 L464.7 274.6 L461.9 275.8 L461.9 275.8 L465 276 L468 276.3 L469.5 276.4 L470 275.4 L470.8 275.3 L473.7 274.8 L476.6 274.2 L479.5 273.7 L482.4 273.2 L485.2 272.6ZM517.9 268.6 L514.6 269.8 L511.3 270.9 L508 272 L504.6 273 L501.3 274 L500.1 274.3 L499.2 273.4 L497.8 274.2 L494.6 275.9 L491.4 277.5 L491.4 277.5 L495 277.5 L498.6 277.4 L500.3 277.4 L500.6 276.1 L501.8 275.8 L505.2 274.7 L508.5 273.6 L511.8 272.5 L515.1 271.3 L518.4 270ZM546.3 267.7 L543.7 268.9 L541 270.2 L538.4 271.6 L535.8 273.1 L533.3 274.5 L532.6 274.9 L531.6 274.4 L530.5 275.4 L528.2 277.3 L525.9 279.2 L525.9 279.2 L528.8 278.7 L531.8 278 L533.4 277.7 L533.5 276.6 L534.2 276.2 L536.7 274.6 L539.3 273.1 L541.8 271.7 L544.4 270.3 L547 269ZM576.9 271.4 L574.5 271.8 L572.2 272.2 L569.8 272.5 L567.5 272.9 L566 273.1 L565.3 272.6 L565 272.7 L562.8 273.7 L560.6 274.7 L558.4 275.7 L558.4 275.7 L560.8 275.7 L563.2 275.8 L565.6 275.8 L565.9 275.9 L566.4 275.1 L567.8 274.8 L570.2 274.4 L572.5 273.9 L574.8 273.4 L577.2 272.9ZM611.7 270.6 L608.5 271.2 L605.3 271.8 L602.1 272.4 L598.9 273 L595.7 273.6 L594.5 273.8 L593.7 272.9 L592.4 273.5 L589.3 275 L586.3 276.4 L586.3 276.4 L589.7 276.6 L593 276.7 L594.5 276.8 L594.9 275.6 L596 275.4 L599.2 274.7 L602.4 274.1 L605.6 273.4 L608.8 272.7 L611.9 272.1ZM642.8 269.8 L639.7 270.6 L636.5 271.4 L633.3 272.2 L630.2 273 L627.1 273.8 L625.9 274.1 L625.1 273.2 L623.7 274 L620.8 275.6 L617.9 277.2 L617.9 277.2 L621.2 277.1 L624.6 277.1 L626.1 277.1 L626.4 275.9 L627.5 275.6 L630.7 274.7 L633.8 273.9 L636.9 273 L640.1 272.1 L643.2 271.3ZM673.3 271.2 L670.4 271.7 L667.5 272.2 L664.6 272.6 L661.7 273 L658.8 273.4 L657.9 273.5 L657.2 272.7 L655.7 273.3 L653 274.6 L650.2 275.9 L650.2 275.9 L653.3 276 L656.3 276.2 L657.8 276.4 L658.2 275.4 L659.1 275.2 L661.9 274.8 L664.8 274.3 L667.7 273.8 L670.6 273.3 L673.5 272.7ZM52.4 257.6 L51.9 257.1 L51.5 256.7 L51.1 256.2 L51 256.1 L50.7 255.7 L50.6 255.6 L50 255.5 L49.4 255.3 L48.7 255.2 L48 255 L48 255 L48.3 255.7 L48.5 256.3 L48.8 257 L49 257.5 L49.1 257.6 L49.6 257.8 L49.7 257.9 L50.2 258.2 L50.7 258.6 L51.3 258.9ZM83.8 258 L83.4 257.4 L83 256.9 L82.5 256.4 L82.3 256.1 L82.1 255.8 L81.9 255.5 L81.5 255.4 L80.8 255.2 L80.1 254.9 L79.3 254.7 L79.3 254.7 L79.6 255.4 L79.8 256.2 L80 256.9 L80.2 257.3 L80.5 257.5 L80.7 257.6 L81 257.9 L81.6 258.3 L82.1 258.7 L82.6 259.2ZM119.2 258.5 L117.6 257.9 L116.1 257.2 L114.6 256.4 L113.4 255.8 L113.2 255.5 L113 255.2 L111.6 254.9 L109.9 254.5 L108.2 254.1 L106.5 253.8 L106.5 253.8 L107.9 254.8 L109.3 255.9 L110.7 256.9 L111.8 257.8 L112.1 257.8 L112.5 257.7 L113.7 258.3 L115.3 258.9 L116.9 259.5 L118.6 260.1ZM154.7 258 L152.1 257.4 L149.5 256.8 L146.8 256.2 L144.2 255.7 L141.6 255.2 L141.6 255.2 L141.1 254.3 L139 254.5 L136.2 254.6 L133.4 254.8 L133.4 254.8 L136 255.9 L138.5 257 L140.5 257.8 L141.2 257.2 L141.2 257.1 L143.9 257.6 L146.5 258 L149.2 258.5 L151.8 259 L154.4 259.5ZM186.3 259.8 L183.6 258.8 L181 257.8 L178.4 256.8 L175.7 255.8 L173.1 254.8 L172.7 254.6 L172.5 253.6 L170.6 253.4 L167.7 253.1 L164.8 252.9 L164.8 252.9 L167.3 254.4 L169.7 256 L171.2 257.1 L172.1 256.5 L172.5 256.6 L175.1 257.5 L177.8 258.4 L180.4 259.4 L183.1 260.3 L185.7 261.2ZM214.9 259.3 L212.9 258.5 L211 257.6 L209.1 256.7 L207.3 255.7 L206.6 255.4 L206.3 254.7 L205.5 254.4 L203.4 253.9 L201.3 253.4 L199.2 252.8 L199.2 252.8 L200.9 254.2 L202.6 255.6 L204.3 256.9 L204.9 257.4 L205.7 257.2 L206.3 257.5 L208.3 258.4 L210.3 259.3 L212.3 260.1 L214.3 260.8ZM243 258.1 L241.9 257.5 L240.9 256.9 L239.8 256.3 L239.1 255.9 L238.7 255.5 L238.7 255.5 L237.5 255.2 L236.2 254.9 L235 254.7 L233.7 254.4 L233.7 254.4 L234.7 255.3 L235.7 256.1 L236.6 256.9 L237.5 257.7 L237.6 257.7 L238.1 257.8 L238.8 258.1 L240 258.6 L241.1 259.1 L242.3 259.6ZM276.6 255.8 L274.8 255.7 L273.1 255.7 L271.3 255.6 L269.7 255.6 L269.6 255.5 L269.2 255.2 L267.8 255.5 L266.1 255.8 L264.3 256.1 L262.6 256.3 L262.6 256.3 L264.3 256.9 L266 257.3 L267.8 257.8 L269.1 258.1 L269.5 257.8 L269.7 257.7 L271.3 257.7 L273.1 257.6 L274.8 257.5 L276.6 257.4ZM305 254.5 L303.9 254.8 L302.8 255 L301.7 255.3 L301.1 255.5 L300.6 255.5 L300.4 255.5 L299.6 256 L298.6 256.7 L297.6 257.3 L296.6 257.9 L296.6 257.9 L297.8 257.9 L299 257.9 L300.1 257.9 L301.2 257.9 L301.3 257.8 L301.7 257.6 L302.3 257.3 L303.4 256.9 L304.4 256.6 L305.5 256.2ZM339.8 255.7 L337.9 255.7 L336.1 255.7 L334.2 255.6 L332.3 255.6 L332.2 255.6 L331.6 255.2 L330.4 255.4 L328.5 255.9 L326.7 256.4 L324.8 256.9 L324.8 256.9 L326.7 257.2 L328.6 257.5 L330.5 257.9 L331.7 258.1 L332.3 257.7 L332.3 257.7 L334.2 257.6 L336.1 257.6 L338 257.5 L339.8 257.4ZM370.7 255.9 L369 255.8 L367.2 255.7 L365.5 255.6 L363.9 255.6 L363.7 255.5 L363.3 255.2 L361.9 255.5 L360.2 255.9 L358.4 256.3 L356.7 256.6 L356.7 256.6 L358.5 257 L360.2 257.4 L362 257.8 L363.3 258.1 L363.7 257.8 L363.9 257.7 L365.4 257.7 L367.2 257.6 L368.9 257.6 L370.7 257.5ZM405.1 256.1 L402.6 256 L400.1 255.9 L397.6 255.8 L395.1 255.7 L393.2 255.6 L392.7 254.9 L392.6 254.8 L390.1 255.3 L387.6 255.8 L385.1 256.2 L385.1 256.2 L387.6 256.9 L390 257.6 L392.5 258.2 L392.5 258.2 L393.1 257.6 L395 257.6 L397.5 257.6 L400.1 257.7 L402.6 257.7 L405.1 257.7ZM439.9 255.3 L436.5 255.4 L433.2 255.5 L429.8 255.6 L426.4 255.7 L423 255.9 L421.8 255.9 L421.2 254.9 L419.7 255.3 L416.3 256.3 L413 257.2 L413 257.2 L416.4 257.9 L419.8 258.6 L421.4 258.9 L421.9 257.8 L423.1 257.7 L426.5 257.5 L429.9 257.3 L433.2 257.1 L436.6 256.9 L440 256.8ZM470.5 254.7 L467.3 255 L464.1 255.2 L460.9 255.5 L457.8 255.7 L454.6 256 L453.4 256.1 L452.8 255.1 L451.4 255.6 L448.3 256.6 L445.1 257.7 L445.1 257.7 L448.4 258.2 L451.6 258.8 L453.1 259 L453.6 258 L454.7 257.8 L457.9 257.5 L461.1 257.2 L464.3 256.9 L467.4 256.5 L470.6 256.2ZM500.9 252.8 L497.9 253.6 L494.9 254.3 L492 255 L489 255.8 L486 256.5 L485 256.7 L484.2 255.9 L482.9 256.6 L480.1 258 L477.3 259.4 L477.3 259.4 L480.4 259.5 L483.6 259.6 L485 259.7 L485.4 258.6 L486.5 258.3 L489.4 257.5 L492.4 256.7 L495.4 255.9 L498.3 255.1 L501.3 254.3ZM529.4 251.9 L527.1 252.9 L524.8 253.9 L522.5 254.8 L520.2 255.7 L518.4 256.5 L517.7 256.1 L517.6 256 L515.6 257.5 L513.4 258.9 L511.3 260.3 L511.3 260.3 L513.8 260 L516.4 259.6 L518.9 259.2 L518.9 259.1 L519.2 258.3 L521 257.5 L523.3 256.5 L525.5 255.5 L527.8 254.4 L530.1 253.3ZM562.1 252.2 L559.5 253.1 L556.9 253.9 L554.2 254.8 L551.6 255.8 L549.1 256.7 L548.9 256.8 L548 256.3 L546.4 257.4 L544.1 259.1 L541.8 260.8 L541.8 260.8 L544.6 260.3 L547.4 259.9 L549.4 259.6 L549.6 258.6 L549.8 258.5 L552.3 257.5 L554.9 256.5 L557.4 255.5 L560 254.6 L562.6 253.7ZM594.7 253.4 L591.8 253.9 L588.9 254.5 L586 255.1 L583.1 255.8 L580.3 256.4 L579.5 256.6 L578.7 255.9 L577.3 256.6 L574.6 258 L572 259.5 L572 259.5 L575 259.5 L578 259.5 L579.6 259.5 L579.9 258.5 L580.7 258.3 L583.6 257.5 L586.4 256.8 L589.3 256.1 L592.1 255.5 L595 254.9ZM626.8 254.3 L623.8 254.8 L620.7 255.2 L617.7 255.5 L614.7 255.7 L611.6 256 L610.5 256.1 L609.8 255.2 L608.5 255.7 L605.5 256.8 L602.6 258 L602.6 258 L605.7 258.4 L608.8 258.8 L610.2 259 L610.7 258 L611.8 257.9 L614.8 257.5 L617.9 257.2 L620.9 256.8 L624 256.3 L627 255.8ZM658.2 251.8 L655.1 252.8 L652 253.8 L648.9 254.8 L645.8 255.8 L642.8 256.8 L641.6 257.1 L640.8 256.3 L639.5 257.1 L636.6 258.8 L633.7 260.4 L633.7 260.4 L637 260.3 L640.4 260.2 L641.9 260.1 L642.2 258.9 L643.3 258.5 L646.4 257.5 L649.5 256.4 L652.5 255.4 L655.6 254.3 L658.7 253.3ZM102.4 240.5 L101.2 240 L99.9 239.4 L98.6 238.9 L97.9 238.6 L97.4 238.2 L97.4 238.2 L96 238 L94.6 237.9 L93.2 237.7 L91.8 237.5 L91.8 237.5 L93 238.3 L94.2 239.1 L95.3 239.9 L96.5 240.6 L96.5 240.6 L97.1 240.6 L97.9 240.9 L99.2 241.3 L100.5 241.7 L101.8 242.1ZM137.9 239 L135.5 238.8 L133.1 238.6 L130.7 238.5 L128.4 238.4 L126.9 238.4 L126.3 237.7 L126 237.8 L123.7 238.2 L121.3 238.6 L118.9 238.9 L118.9 238.9 L121.2 239.6 L123.5 240.3 L125.9 241 L126.2 241 L126.8 240.4 L128.3 240.4 L130.7 240.4 L133.1 240.4 L135.4 240.5 L137.8 240.6ZM167.4 241.9 L165.6 241.1 L163.8 240.2 L162 239.3 L160.1 238.5 L159.8 238.3 L159.4 237.6 L158.4 237.4 L156.4 237 L154.4 236.7 L152.3 236.4 L152.3 236.4 L154 237.5 L155.7 238.6 L157.4 239.8 L158.2 240.4 L159 240.2 L159.3 240.4 L161.2 241.1 L163 241.9 L164.9 242.7 L166.7 243.4ZM198.2 242.6 L196.6 241.6 L194.9 240.6 L193.3 239.6 L191.7 238.5 L191.5 238.4 L191.2 237.7 L190.1 237.3 L188.3 236.7 L186.4 236 L184.6 235.3 L184.6 235.3 L185.9 236.7 L187.4 238.1 L188.8 239.5 L189.6 240.3 L190.4 240.2 L190.6 240.3 L192.3 241.3 L194 242.2 L195.7 243.1 L197.4 244ZM228.3 241.9 L227 241.1 L225.7 240.2 L224.4 239.4 L223.5 238.8 L223.2 238.3 L223.1 238.2 L221.7 237.7 L220.2 237.2 L218.7 236.7 L217.2 236.2 L217.2 236.2 L218.3 237.3 L219.5 238.4 L220.6 239.5 L221.7 240.5 L221.8 240.5 L222.3 240.6 L223.3 241.1 L224.6 241.9 L226 242.6 L227.4 243.4ZM259.3 243 L258.1 241.9 L256.9 240.8 L255.8 239.7 L254.9 238.9 L254.7 238.5 L254.7 238.3 L253.4 237.5 L251.9 236.7 L250.5 235.9 L249 235.1 L249 235.1 L250 236.4 L251 237.8 L252 239.1 L252.8 240.3 L253 240.4 L253.4 240.5 L254.4 241.3 L255.7 242.3 L257 243.3 L258.3 244.3ZM291.7 240.4 L290.2 240 L288.6 239.4 L287.1 238.9 L286 238.5 L285.7 238.2 L285.5 238 L284.1 237.9 L282.4 237.7 L280.8 237.5 L279.1 237.3 L279.1 237.3 L280.5 238.2 L281.9 239.1 L283.4 239.9 L284.6 240.7 L284.8 240.6 L285.3 240.6 L286.5 240.9 L288.1 241.3 L289.7 241.7 L291.3 242.1ZM321.2 239 L320.1 238.8 L319 238.6 L317.8 238.5 L317.2 238.4 L316.7 238.2 L316.6 238.2 L315.6 238.4 L314.4 238.6 L313.3 238.8 L312.1 239 L312.1 239 L313.2 239.4 L314.3 239.9 L315.4 240.3 L316.4 240.7 L316.5 240.6 L317 240.6 L317.7 240.6 L318.8 240.6 L319.9 240.7 L321 240.7ZM352.1 239.3 L351.1 239.1 L350.2 238.8 L349.2 238.6 L348.6 238.4 L348.2 238.2 L348 238.2 L347.2 238.3 L346.2 238.4 L345.1 238.6 L344.1 238.7 L344.1 238.7 L345 239.2 L345.9 239.7 L346.8 240.2 L347.6 240.6 L347.8 240.6 L348.2 240.6 L348.8 240.6 L349.8 240.7 L350.8 240.9 L351.8 241ZM390.6 241.9 L387.9 241.1 L385.1 240.3 L382.4 239.5 L379.7 238.6 L377 237.6 L376.4 237.4 L376.2 236.3 L374.5 236.2 L371.6 235.7 L368.7 235.2 L368.7 235.2 L371 237 L373.4 238.8 L374.9 239.8 L375.8 239.2 L376.3 239.4 L379.1 240.3 L381.9 241.1 L384.6 241.9 L387.4 242.7 L390.2 243.4ZM424.2 241.1 L420.9 240.5 L417.5 239.9 L414.2 239.3 L411 238.5 L407.7 237.8 L406.6 237.4 L406.2 236.2 L404.7 236.2 L401.3 236 L397.8 235.7 L397.8 235.7 L400.7 237.6 L403.7 239.4 L405.2 240.1 L406.1 239.3 L407.2 239.6 L410.6 240.3 L413.9 240.9 L417.2 241.5 L420.6 242.1 L423.9 242.6ZM453.2 239.1 L450.4 238.9 L447.7 238.8 L444.9 238.6 L442.2 238.5 L439.5 238.3 L439.3 238.3 L438.8 237.4 L436.8 237.8 L434 238.1 L431.2 238.4 L431.2 238.4 L433.8 239.4 L436.5 240.4 L438.5 241 L439.1 240.2 L439.3 240.3 L442.1 240.3 L444.9 240.4 L447.6 240.5 L450.4 240.6 L453.1 240.6ZM485.7 237.9 L482.7 238.1 L479.6 238.2 L476.5 238.4 L473.5 238.5 L470.4 238.7 L469.3 238.7 L468.7 237.8 L467.4 238.2 L464.4 239 L461.3 239.8 L461.3 239.8 L464.4 240.6 L467.4 241.3 L468.8 241.6 L469.4 240.6 L470.5 240.5 L473.6 240.3 L476.6 240.1 L479.7 239.8 L482.7 239.6 L485.8 239.4ZM515.1 236.9 L512.5 237.3 L510 237.8 L507.4 238.1 L504.8 238.5 L502.4 238.8 L502.1 238.5 L501.7 238.1 L499.6 238.9 L497 239.9 L494.5 240.8 L494.5 240.8 L497.2 241.1 L499.9 241.3 L502.2 241.6 L502.5 241 L502.7 240.7 L505 240.4 L507.6 239.9 L510.2 239.5 L512.8 238.9 L515.4 238.4ZM544.5 233.6 L542.3 234.8 L540.1 236 L537.9 237.3 L535.8 238.6 L534.1 239.6 L533.3 239.3 L533.3 239.3 L531.5 241.1 L529.6 242.8 L527.7 244.5 L527.7 244.5 L530.1 243.8 L532.6 243 L535 242.2 L535 242.2 L535.2 241.3 L536.8 240.2 L538.9 238.9 L541 237.5 L543.1 236.2 L545.2 234.9ZM578.8 236.3 L575.9 236.9 L573.1 237.4 L570.3 238 L567.5 238.5 L564.6 239.1 L564 239.3 L563.2 238.6 L561.7 239.4 L559.1 240.9 L556.6 242.4 L556.6 242.4 L559.5 242.2 L562.5 242.1 L564.1 242.1 L564.5 241.1 L565.1 241 L567.9 240.3 L570.7 239.7 L573.5 239.1 L576.3 238.4 L579.1 237.8ZM609.9 237.9 L607.2 238.1 L604.5 238.3 L601.8 238.4 L599 238.5 L596.2 238.6 L596.1 238.6 L595.4 237.8 L593.4 238.4 L590.7 239.3 L588.1 240.3 L588.1 240.3 L590.9 240.6 L593.7 241 L595.6 241.4 L596.2 240.5 L596.4 240.5 L599.1 240.4 L601.8 240.2 L604.6 240 L607.3 239.7 L610.1 239.4ZM643.3 235.4 L640.1 236.2 L636.8 237 L633.5 237.8 L630.2 238.5 L626.9 239.2 L625.8 239.5 L624.9 238.6 L623.5 239.3 L620.4 240.7 L617.2 242.1 L617.2 242.1 L620.7 242.3 L624.2 242.5 L625.8 242.5 L626.1 241.3 L627.3 241.1 L630.6 240.3 L633.9 239.5 L637.2 238.6 L640.5 237.8 L643.7 236.8ZM673.2 234.3 L670.3 235.3 L667.4 236.4 L664.4 237.5 L661.5 238.6 L658.6 239.6 L657.5 240 L656.6 239.3 L655.4 240.1 L652.7 241.9 L650 243.6 L650 243.6 L653.2 243.3 L656.5 243.1 L657.9 242.9 L658.1 241.8 L659.2 241.4 L662.1 240.3 L665 239.1 L667.9 238 L670.9 236.8 L673.8 235.7ZM53.3 217.7 L52.2 218.6 L51.1 219.5 L50.1 220.5 L49.5 221 L49 221.3 L48.9 221.4 L48.3 222.5 L47.6 223.8 L46.8 225 L46.1 226.2 L46.1 226.2 L47.3 225.4 L48.5 224.7 L49.7 223.9 L50.8 223.1 L50.8 223.1 L51.1 222.5 L51.6 221.9 L52.5 220.9 L53.4 220 L54.4 219ZM81.5 198 L83.5 220.9 L80.3 223.2 L80.5 223.1 L80.8 223 L81 222.9 L81.3 222.7 L81.5 222.6 L81.8 222.5 L82 222.3 L82.3 222.2 L82.3 222.2 L82 222.1 L81.8 221.9 L81.5 221.8 L81.3 221.7 L81 221.5 L80.8 221.4 L80.5 221.3 L80.3 221.2 L83.5 223.4 L81.5 246.3ZM120.5 224.1 L118.6 223.4 L116.7 222.7 L114.9 222 L113 221.2 L112.7 221.1 L112.3 220.4 L111.3 220.3 L109.3 219.9 L107.3 219.5 L105.3 219.1 L105.3 219.1 L106.9 220.3 L108.6 221.5 L110.3 222.7 L111.2 223.3 L111.9 223 L112.3 223.2 L114.2 223.8 L116.1 224.4 L118 225 L119.9 225.6ZM151.9 221.7 L149.9 221.5 L147.9 221.3 L145.9 221.2 L144 221.2 L143.8 221.2 L143.2 220.7 L142.1 221 L140.2 221.4 L138.3 221.8 L136.3 222.1 L136.3 222.1 L138.2 222.6 L140.1 223.1 L142.1 223.5 L143.3 223.7 L143.9 223.3 L144.1 223.2 L146 223.1 L147.9 223.1 L149.8 223.2 L151.7 223.4ZM180.5 226 L179.4 224.8 L178.3 223.7 L177.3 222.6 L176.6 221.8 L176.4 221.3 L176.3 221.2 L175.1 220.4 L173.8 219.5 L172.5 218.6 L171.2 217.6 L171.2 217.6 L171.9 219 L172.7 220.4 L173.6 221.8 L174.4 223.1 L174.5 223.1 L175 223.3 L175.8 224 L177 225.1 L178.1 226.1 L179.3 227.2ZM211.9 223.6 L210.8 223 L209.6 222.4 L208.4 221.8 L207.7 221.4 L207.3 221.1 L207.2 221 L206 220.8 L204.7 220.5 L203.4 220.2 L202.1 219.9 L202.1 219.9 L203.1 220.8 L204.1 221.7 L205.2 222.5 L206.2 223.3 L206.3 223.3 L206.8 223.4 L207.6 223.7 L208.8 224.2 L210 224.6 L211.2 225.2ZM241.8 222.4 L241 222 L240.1 221.7 L239.3 221.4 L238.8 221.2 L238.5 221.1 L238.3 220.9 L237.6 221 L236.7 221.1 L235.8 221.2 L234.8 221.2 L234.8 221.2 L235.6 221.8 L236.3 222.4 L237.1 222.9 L237.6 223.3 L237.9 223.3 L238.2 223.4 L238.7 223.5 L239.6 223.6 L240.4 223.8 L241.3 224ZM274.3 226.7 L273.3 225.5 L272.3 224.2 L271.4 222.9 L270.7 221.9 L270.6 221.4 L270.6 221.2 L269.5 220.3 L268.3 219.2 L267.1 218 L266 216.8 L266 216.8 L266.5 218.3 L267.1 219.9 L267.7 221.5 L268.3 222.9 L268.5 223 L268.9 223.2 L269.7 224.1 L270.8 225.4 L271.9 226.6 L273 227.8ZM307.1 223.6 L305.7 222.9 L304.2 222.3 L302.8 221.7 L301.8 221.3 L301.4 220.9 L301.3 220.9 L299.8 220.7 L298.3 220.5 L296.7 220.2 L295.1 219.9 L295.1 219.9 L296.4 220.8 L297.7 221.8 L299.1 222.7 L300.4 223.5 L300.5 223.5 L301.1 223.4 L302.1 223.7 L303.6 224.1 L305 224.6 L306.5 225.1ZM338.2 226.5 L336.9 225.3 L335.6 224 L334.3 222.7 L333.1 221.5 L333.1 221.4 L333 220.8 L332 220.1 L330.5 219 L329.1 217.9 L327.7 216.6 L327.7 216.6 L328.4 218.3 L329.3 220 L330.2 221.7 L330.9 222.8 L331.5 223 L331.6 223 L332.9 224.2 L334.3 225.4 L335.7 226.6 L337.1 227.8ZM369.6 226.8 L368.3 225.6 L367 224.2 L365.7 222.9 L364.5 221.5 L364.5 221.4 L364.4 220.7 L363.4 220 L362 218.8 L360.5 217.6 L359.2 216.2 L359.2 216.2 L359.9 218 L360.7 219.8 L361.5 221.5 L362.1 222.7 L362.8 222.8 L362.9 222.9 L364.2 224.3 L365.6 225.6 L367 226.8 L368.5 228.1ZM401.5 226.1 L400 225 L398.6 223.8 L397.2 222.6 L395.8 221.4 L395.7 221.3 L395.5 220.6 L394.5 220.1 L392.8 219.1 L391.1 218.2 L389.5 217.2 L389.5 217.2 L390.6 218.8 L391.7 220.4 L392.9 221.9 L393.6 222.9 L394.3 223 L394.4 223 L395.9 224.2 L397.4 225.3 L399 226.4 L400.5 227.4ZM436.8 225.8 L434.3 224.8 L431.8 223.8 L429.3 222.6 L426.9 221.4 L424.5 220.1 L424.4 220 L424.3 219 L422.4 218.4 L419.8 217.4 L417.1 216.4 L417.1 216.4 L419 218.5 L421 220.6 L422.4 222 L423.4 221.6 L423.5 221.7 L426 223 L428.5 224.2 L431.1 225.3 L433.7 226.3 L436.3 227.2ZM468.8 224.7 L466.1 224 L463.4 223.2 L460.8 222.3 L458.2 221.3 L455.6 220.3 L455.2 220.2 L455 219.1 L453.2 218.9 L450.3 218.4 L447.5 217.8 L447.5 217.8 L449.7 219.6 L452.1 221.4 L453.6 222.5 L454.5 221.9 L454.8 222.1 L457.5 223.1 L460.2 224 L462.9 224.8 L465.7 225.5 L468.4 226.2ZM498.7 222.5 L496.4 222.2 L494 221.9 L491.7 221.6 L489.4 221.2 L487.9 221 L487.4 220.3 L487.1 220.3 L484.7 220.4 L482.3 220.5 L479.9 220.5 L479.9 220.5 L482.1 221.5 L484.3 222.5 L486.6 223.4 L486.9 223.5 L487.6 223 L489.1 223.2 L491.5 223.4 L493.8 223.7 L496.2 223.9 L498.6 224.1ZM528.8 219.8 L526.7 220.2 L524.6 220.5 L522.5 220.9 L520.4 221.2 L519.7 221.3 L519 220.9 L518.3 221.2 L516.3 222 L514.2 222.8 L512.2 223.5 L512.2 223.5 L514.4 223.7 L516.5 223.8 L518.7 223.9 L519.6 224 L520.1 223.3 L520.8 223.2 L522.9 222.8 L524.9 222.3 L527 221.9 L529.1 221.4ZM559.9 216.8 L557.7 217.8 L555.5 218.9 L553.4 220.1 L551.4 221.4 L550.2 222.2 L549.3 222 L549.1 222.2 L547.5 223.9 L545.7 225.6 L544 227.3 L544 227.3 L546.3 226.6 L548.6 225.7 L550.9 224.9 L551.2 224.7 L551.3 223.9 L552.5 223 L554.5 221.7 L556.4 220.4 L558.5 219.3 L560.6 218.2ZM594.5 219.2 L591.7 219.7 L588.8 220.2 L586 220.8 L583.2 221.3 L580.3 221.9 L579.7 222 L579 221.3 L577.4 222.1 L574.8 223.4 L572.2 224.8 L572.2 224.8 L575.1 224.8 L578.1 224.8 L579.8 224.9 L580.2 223.9 L580.8 223.7 L583.6 223.1 L586.4 222.5 L589.2 221.9 L592 221.3 L594.8 220.7ZM626.8 218.9 L623.8 219.5 L620.7 220.1 L617.6 220.7 L614.6 221.3 L611.5 221.9 L610.4 222.1 L609.6 221.2 L608.3 221.8 L605.4 223.1 L602.4 224.5 L602.4 224.5 L605.7 224.7 L608.9 224.9 L610.3 225 L610.7 223.9 L611.8 223.7 L614.9 223.1 L618 222.4 L621 221.8 L624.1 221.1 L627.1 220.3ZM657.4 218 L654.5 218.9 L651.6 219.7 L648.8 220.5 L645.9 221.3 L643 222.1 L641.9 222.4 L641.1 221.7 L639.9 222.3 L637.2 223.8 L634.5 225.4 L634.5 225.4 L637.6 225.3 L640.7 225.3 L642.1 225.3 L642.4 224.2 L643.5 223.9 L646.4 223.1 L649.2 222.2 L652.1 221.3 L655 220.4 L657.8 219.5ZM68.4 207.2 L67.9 206.5 L67.4 205.7 L67 205 L66.7 204.6 L66.5 204.2 L66.4 204 L65.8 203.7 L65 203.2 L64.2 202.7 L63.4 202.2 L63.4 202.2 L63.7 203.1 L64 204 L64.3 204.9 L64.5 205.6 L64.7 205.7 L64.9 205.9 L65.3 206.3 L65.9 207 L66.5 207.6 L67.1 208.3ZM101.4 209.8 L100.5 208.4 L99.6 207.1 L98.7 205.8 L98.1 204.7 L98.1 204.3 L98 204.1 L97 203 L95.8 201.9 L94.6 200.7 L93.4 199.5 L93.4 199.5 L94 201.1 L94.6 202.6 L95.2 204.2 L95.7 205.6 L95.9 205.7 L96.3 205.9 L97 206.9 L98 208.2 L99 209.5 L100.1 210.8ZM132.1 206.7 L131.3 206.1 L130.5 205.4 L129.8 204.7 L129.3 204.3 L129.1 204 L128.9 203.9 L128.2 203.6 L127.2 203.2 L126.2 202.9 L125.2 202.5 L125.2 202.5 L125.8 203.4 L126.4 204.3 L126.9 205.2 L127.4 205.9 L127.6 205.9 L128 206.1 L128.5 206.4 L129.3 207 L130.2 207.5 L131 208.1ZM156.2 207 L157.2 206.7 L158.1 206.5 L159.1 206.3 L159.6 206.1 L160.1 206.1 L160.3 206.1 L161 205.7 L161.9 205 L162.7 204.4 L163.5 203.7 L163.5 203.7 L162.5 203.8 L161.4 203.8 L160.4 203.8 L159.6 203.7 L159.4 203.8 L159 204 L158.5 204.2 L157.5 204.6 L156.6 205 L155.6 205.4ZM185.3 207.7 L186.7 207.1 L188.2 206.7 L189.7 206.3 L190.9 206.1 L191.4 206.2 L191.6 206.3 L193 205.7 L194.5 205 L196 204.2 L197.4 203.3 L197.4 203.3 L195.7 203.5 L194.1 203.6 L192.4 203.6 L191 203.6 L190.9 203.7 L190.5 204 L189.3 204.3 L187.7 204.8 L186.1 205.4 L184.6 206.1ZM216.2 207.4 L217.8 206.9 L219.4 206.6 L221 206.3 L222.4 206.1 L222.7 206.2 L223 206.3 L224.4 205.8 L226 205 L227.5 204.3 L229.1 203.4 L229.1 203.4 L227.3 203.6 L225.6 203.6 L223.9 203.6 L222.5 203.5 L222.3 203.8 L222 204 L220.6 204.3 L219 204.7 L217.3 205.2 L215.7 205.8ZM248.1 208 L249.6 207.4 L251.1 206.9 L252.6 206.4 L253.8 206.1 L254.2 206.2 L254.4 206.3 L255.8 205.5 L257.2 204.7 L258.6 203.8 L260 202.9 L260 202.9 L258.4 203.1 L256.7 203.3 L255.1 203.5 L253.7 203.6 L253.5 203.7 L253.2 204.1 L252 204.5 L250.5 205.1 L248.9 205.7 L247.4 206.4ZM279.5 208.5 L281 207.8 L282.5 207.1 L284 206.5 L285.3 206.1 L285.7 206.1 L286 206.2 L287.3 205.4 L288.7 204.4 L290.1 203.4 L291.4 202.3 L291.4 202.3 L289.8 202.7 L288.1 203.1 L286.4 203.4 L285 203.6 L284.8 203.8 L284.6 204.1 L283.3 204.6 L281.7 205.3 L280.2 206.1 L278.7 207ZM314.4 207.5 L315.1 207.1 L315.8 206.7 L316.5 206.3 L317 206.1 L317.3 206 L317.5 205.9 L317.9 205.4 L318.4 204.7 L318.9 203.9 L319.4 203.2 L319.4 203.2 L318.5 203.4 L317.6 203.5 L316.8 203.7 L316.2 203.8 L316 204 L315.8 204.2 L315.4 204.5 L314.7 205 L314.1 205.5 L313.4 206ZM346.6 207.2 L347.2 206.9 L347.7 206.6 L348.2 206.2 L348.3 206.1 L348.8 205.9 L348.9 205.9 L349.1 205.3 L349.4 204.7 L349.7 204 L349.9 203.4 L349.9 203.4 L349.2 203.5 L348.5 203.7 L347.9 203.8 L347.3 204 L347.2 204 L346.9 204.5 L346.8 204.6 L346.4 205 L346 205.5 L345.5 205.9ZM384 210.3 L383.1 208.8 L382.1 207.4 L381.2 205.9 L380.4 204.5 L380.4 204.4 L380.4 203.9 L379.5 202.9 L378.3 201.6 L377.2 200.2 L376.1 198.8 L376.1 198.8 L376.5 200.6 L376.9 202.3 L377.5 204 L378 205.4 L378.4 205.6 L378.6 205.7 L379.5 207 L380.5 208.4 L381.6 209.8 L382.6 211.2ZM416.5 210.6 L415.2 209.1 L414 207.5 L412.8 206 L411.6 204.4 L411.4 204.1 L411.4 203.3 L410.7 202.6 L409.2 201.2 L407.8 199.8 L406.4 198.3 L406.4 198.3 L407 200.2 L407.7 202.2 L408.5 204.1 L409 205.1 L409.7 205.3 L409.9 205.6 L411.2 207.2 L412.5 208.7 L413.9 210.2 L415.3 211.7ZM447.3 209 L446.2 207.9 L445.1 206.7 L444 205.5 L443.2 204.5 L443.1 204.1 L443.1 203.9 L441.9 203.1 L440.5 202.1 L439.2 201.1 L437.8 200.1 L437.8 200.1 L438.6 201.6 L439.4 203 L440.3 204.5 L441 205.8 L441.2 205.8 L441.6 206 L442.5 206.9 L443.7 208 L444.9 209.1 L446.1 210.2ZM481 208.9 L479.3 207.8 L477.5 206.7 L475.8 205.4 L474.1 204.2 L473.6 203.7 L473.4 202.9 L472.7 202.6 L470.7 201.7 L468.7 200.8 L466.7 200 L466.7 200 L468.1 201.6 L469.6 203.2 L471 204.8 L471.5 205.4 L472.3 205.4 L472.9 205.8 L474.7 207 L476.5 208.2 L478.3 209.3 L480.2 210.3ZM513.1 206.1 L511.1 205.6 L509.1 205.1 L507.2 204.6 L505.2 204 L504.7 203.8 L504.3 203.2 L503.3 203.1 L501.2 202.9 L499.1 202.7 L497 202.5 L497 202.5 L498.9 203.6 L500.7 204.6 L502.5 205.7 L503.4 206.1 L504.1 205.8 L504.6 206 L506.6 206.5 L508.7 206.9 L510.7 207.3 L512.8 207.7ZM544.6 203 L542.5 203.2 L540.4 203.5 L538.3 203.7 L536.2 204 L535.4 204 L534.8 203.6 L534 203.9 L532 204.6 L529.9 205.4 L527.9 206.1 L527.9 206.1 L530 206.3 L532.2 206.5 L534.4 206.6 L535.2 206.7 L535.7 206.1 L536.4 206 L538.5 205.6 L540.6 205.3 L542.7 205 L544.8 204.6ZM577.4 202.6 L574.9 202.9 L572.5 203.3 L570 203.6 L567.5 204 L565.6 204.3 L564.9 203.8 L564.9 203.8 L562.5 204.7 L560.2 205.8 L557.8 206.8 L557.8 206.8 L560.4 206.9 L563 207 L565.5 207.1 L565.5 207.1 L565.9 206.3 L567.8 205.9 L570.3 205.5 L572.7 205 L575.2 204.6 L577.7 204.1ZM606.2 202.5 L604.3 202.9 L602.5 203.2 L600.7 203.6 L598.8 203.9 L598.7 204 L598.1 203.7 L597 204.2 L595.2 205 L593.5 205.8 L591.7 206.6 L591.7 206.6 L593.6 206.6 L595.6 206.6 L597.5 206.6 L598.7 206.6 L599.2 206 L599.3 206 L601.1 205.5 L602.9 205.1 L604.7 204.6 L606.5 204.1ZM642.3 200.9 L639.3 201.7 L636.2 202.5 L633.2 203.3 L630.2 204.1 L627.2 204.9 L626.1 205.1 L625.3 204.3 L624 205 L621.2 206.5 L618.3 208 L618.3 208 L621.5 208.1 L624.8 208.1 L626.2 208.1 L626.6 207 L627.6 206.7 L630.7 205.8 L633.7 205 L636.7 204.1 L639.7 203.2 L642.7 202.3ZM671.4 200.7 L668.9 201.5 L666.5 202.4 L664 203.2 L661.5 204.1 L659.2 204.9 L658.9 204.7 L658.4 204.4 L656.5 205.6 L654.2 207 L651.9 208.4 L651.9 208.4 L654.6 208.2 L657.3 207.9 L659.6 207.6 L659.8 207.1 L659.9 206.7 L662.1 205.9 L664.6 204.9 L667 204 L669.5 203.1 L671.9 202.1ZM53.3 189 L52.6 188.5 L51.9 187.9 L51.2 187.4 L50.8 187 L50.6 186.8 L50.4 186.6 L49.7 186.4 L48.8 186.2 L47.9 186 L47 185.8 L47 185.8 L47.5 186.6 L48.1 187.3 L48.6 188.1 L49 188.7 L49.2 188.7 L49.6 188.9 L50 189.1 L50.8 189.6 L51.6 190 L52.3 190.4ZM83.8 190 L83.4 189.3 L83 188.6 L82.6 187.8 L82.4 187.4 L82.3 187.1 L82.2 186.8 L81.7 186.5 L80.9 186 L80.2 185.5 L79.5 185.1 L79.5 185.1 L79.6 185.9 L79.8 186.8 L80 187.7 L80.1 188.2 L80.3 188.4 L80.5 188.6 L80.9 189 L81.4 189.7 L81.9 190.3 L82.4 190.9ZM116.1 193.9 L115.4 192.3 L114.8 190.7 L114.2 189 L113.7 187.6 L113.8 187.4 L113.9 186.9 L113.2 185.7 L112.2 184.2 L111.3 182.7 L110.5 181.1 L110.5 181.1 L110.6 182.9 L110.8 184.7 L111 186.5 L111.2 187.8 L111.5 188.2 L111.7 188.3 L112.3 189.8 L113 191.4 L113.8 193 L114.5 194.6ZM144.9 190 L145 189.4 L145.1 188.9 L145.1 188.5 L145.2 188.3 L145.3 187.9 L145.2 187.8 L144.9 187.2 L144.6 186.6 L144.3 186.1 L144 185.5 L144 185.5 L143.7 186.1 L143.5 186.6 L143.2 187.2 L142.9 187.8 L142.8 187.9 L142.9 188.3 L142.9 188.5 L143 188.9 L143.1 189.4 L143.2 190ZM177.2 189.1 L177 188.6 L176.9 188.1 L176.9 188.1 L176.7 187.6 L176.7 187.5 L176.3 187.2 L175.8 186.9 L175.4 186.6 L174.9 186.3 L174.4 186 L174.4 186 L174.4 186.6 L174.5 187.2 L174.5 187.7 L174.5 188.3 L174.5 188.7 L174.6 188.8 L175 189.2 L175 189.2 L175.3 189.5 L175.7 189.9ZM205 190 L205.6 189.7 L206.2 189.4 L206.8 189 L207.2 188.8 L207.5 188.7 L207.8 188.6 L208 188.2 L208.3 187.6 L208.7 186.9 L209.1 186.2 L209.1 186.2 L208.3 186.3 L207.5 186.4 L206.8 186.5 L206.3 186.5 L206.1 186.8 L205.9 187 L205.6 187.3 L205.1 187.7 L204.6 188.2 L204.1 188.6ZM234.9 191.6 L235.9 190.9 L236.9 190.1 L237.9 189.4 L238.5 188.9 L239 188.7 L239.1 188.6 L239.7 187.7 L240.5 186.7 L241.3 185.6 L242.1 184.6 L242.1 184.6 L240.9 185.1 L239.7 185.7 L238.5 186.2 L237.4 186.7 L237.4 186.8 L237.1 187.3 L236.5 187.8 L235.6 188.6 L234.7 189.5 L233.8 190.3ZM264.7 191.4 L266 190.7 L267.4 190.1 L268.8 189.4 L269.6 189 L270.2 188.9 L270.2 188.9 L271.4 187.9 L272.5 186.9 L273.7 185.9 L274.9 184.9 L274.9 184.9 L273.4 185.3 L271.9 185.7 L270.4 186.2 L268.9 186.6 L268.9 186.6 L268.5 187.1 L267.7 187.6 L266.5 188.3 L265.2 189.1 L263.9 189.9ZM298.9 194 L299.7 192.6 L300.5 191.1 L301.2 189.7 L301.8 188.6 L302.1 188.3 L302.3 188.1 L302.6 186.7 L302.9 185.1 L303.3 183.5 L303.7 181.9 L303.7 181.9 L302.7 183.2 L301.6 184.5 L300.6 185.8 L299.7 187 L299.8 187.2 L299.8 187.7 L299.3 188.8 L298.7 190.3 L298.1 191.8 L297.4 193.2ZM331.5 191.3 L331.9 190.5 L332.4 189.8 L332.9 189 L333.1 188.6 L333.4 188.3 L333.5 188.1 L333.6 187.4 L333.7 186.5 L333.8 185.6 L333.9 184.6 L333.9 184.6 L333.2 185.3 L332.5 185.9 L331.8 186.5 L331.3 187 L331.3 187.2 L331.2 187.6 L331 188.1 L330.6 188.9 L330.3 189.7 L330 190.5ZM363.4 195.1 L363.7 193.3 L364.1 191.5 L364.4 189.7 L364.7 188 L364.8 188 L365.2 187.5 L365.2 186.2 L365.2 184.4 L365.2 182.6 L365.3 180.7 L365.3 180.7 L364.4 182.3 L363.6 184 L362.9 185.7 L362.4 187 L362.6 187.6 L362.6 187.7 L362.4 189.4 L362.2 191.2 L362 193 L361.7 194.8ZM396.7 197.1 L396.4 194.8 L396.2 192.4 L396.1 190.1 L396.1 187.8 L396.1 186.3 L396.7 185.7 L396.7 185.4 L396.2 183 L395.7 180.7 L395.3 178.3 L395.3 178.3 L394.7 180.6 L394.1 183 L393.5 185.4 L393.4 185.7 L394.1 186.3 L394.1 187.8 L394.2 190.2 L394.4 192.6 L394.7 195 L395.2 197.3ZM431.7 196.5 L430.5 194.3 L429.3 192.1 L428.3 189.8 L427.4 187.4 L426.6 185.4 L426.9 184.9 L427.1 184.6 L425.8 182.6 L424.5 180.3 L423.3 178 L423.3 178 L423.4 180.6 L423.6 183.3 L423.8 185.7 L424.2 185.8 L424.8 186.1 L425.6 188.1 L426.6 190.5 L427.8 192.8 L429 195.1 L430.3 197.3ZM463.6 189.6 L462.3 188.9 L461 188.1 L459.6 187.4 L458.8 187 L458.4 186.5 L458.4 186.5 L456.9 186.2 L455.5 185.9 L454 185.5 L452.5 185 L452.5 185 L453.6 186 L454.8 187.1 L456 188 L457.3 189 L457.3 189 L457.9 189 L458.8 189.3 L460.1 189.9 L461.5 190.5 L462.9 191.1ZM495.1 191.5 L493.8 190.4 L492.5 189.3 L491.2 188.2 L490.1 187.1 L490 186.9 L489.9 186.4 L488.7 185.7 L487.1 184.9 L485.5 184 L483.9 183.2 L483.9 183.2 L485 184.6 L486.1 186 L487.2 187.5 L488 188.6 L488.4 188.6 L488.7 188.7 L489.9 189.7 L491.3 190.8 L492.7 191.8 L494.1 192.9ZM526.6 187 L525.1 186.9 L523.6 186.8 L522.1 186.7 L521.2 186.7 L520.6 186.4 L520.6 186.4 L519.1 186.7 L517.6 187 L516.1 187.3 L514.6 187.5 L514.6 187.5 L516.1 187.9 L517.6 188.4 L519.1 188.7 L520.6 189.1 L520.6 189.1 L521.2 188.9 L522.1 188.8 L523.6 188.8 L525.1 188.7 L526.6 188.7ZM560.4 188.9 L558.3 188.5 L556.3 188 L554.3 187.4 L552.3 186.8 L551.6 186.6 L551.2 185.9 L550.3 185.8 L548.1 185.7 L545.9 185.7 L543.7 185.8 L543.7 185.8 L545.7 186.6 L547.7 187.5 L549.6 188.5 L550.3 188.9 L551 188.6 L551.7 188.7 L553.8 189.3 L555.9 189.8 L558 190.2 L560.1 190.5ZM594.7 186 L591.9 186.2 L589 186.4 L586.1 186.6 L583.3 186.8 L580.4 187 L579.8 187.1 L579.2 186.2 L577.5 186.8 L574.7 187.6 L571.9 188.5 L571.9 188.5 L574.8 189.1 L577.7 189.6 L579.4 189.9 L579.9 189 L580.6 188.9 L583.4 188.7 L586.3 188.4 L589.2 188.1 L592 187.8 L594.9 187.5ZM625.3 184.8 L622.7 185.3 L620 185.8 L617.3 186.3 L614.6 186.8 L611.9 187.3 L611.7 187.4 L610.9 186.7 L609.1 187.5 L606.5 188.7 L603.9 189.8 L603.9 189.8 L606.8 190 L609.6 190.1 L611.6 190.2 L612 189.3 L612.2 189.3 L614.9 188.7 L617.6 188.1 L620.3 187.5 L623 186.9 L625.7 186.3ZM656.8 183.3 L654 184.2 L651.3 185.1 L648.6 186 L645.8 186.9 L643.1 187.8 L642.5 188 L641.7 187.3 L640.2 188.2 L637.7 189.8 L635.2 191.3 L635.2 191.3 L638.1 191.1 L641.1 190.9 L642.8 190.8 L643.1 189.8 L643.7 189.6 L646.4 188.6 L649.1 187.7 L651.8 186.7 L654.5 185.7 L657.2 184.8ZM70.3 174.4 L69.3 173.2 L68.4 172.1 L67.4 170.9 L66.8 170.2 L66.6 169.6 L66.6 169.6 L65.3 168.8 L64.1 167.9 L62.9 167 L61.7 166 L61.7 166 L62.4 167.4 L63.1 168.7 L63.8 170.1 L64.6 171.5 L64.6 171.5 L65.2 171.7 L65.9 172.4 L66.9 173.4 L68 174.5 L69 175.5ZM99.9 176.4 L99.4 174.9 L99 173.3 L98.5 171.7 L98.1 170.6 L98.2 170.1 L98.2 169.9 L97.5 168.7 L96.6 167.2 L95.8 165.8 L95 164.4 L95 164.4 L95.1 166 L95.3 167.7 L95.4 169.3 L95.6 170.8 L95.7 171 L96.1 171.3 L96.5 172.4 L97.1 173.9 L97.7 175.4 L98.3 177ZM126.9 176.1 L127.5 174.8 L128.1 173.6 L128.7 172.3 L129.1 171.5 L129.5 171.1 L129.6 171.1 L129.9 169.7 L130.2 168.2 L130.5 166.8 L130.9 165.4 L130.9 165.4 L129.9 166.5 L129 167.7 L128.1 168.8 L127.2 170 L127.2 170 L127.1 170.6 L126.8 171.4 L126.3 172.8 L125.8 174.2 L125.3 175.5ZM155.2 173.7 L156.4 173.1 L157.6 172.6 L158.9 172.1 L159.7 171.8 L160.2 171.7 L160.3 171.7 L161.4 170.9 L162.5 170.1 L163.7 169.2 L164.8 168.4 L164.8 168.4 L163.4 168.6 L162 168.9 L160.6 169.1 L159.3 169.3 L159.2 169.4 L158.8 169.8 L158 170.1 L156.8 170.8 L155.6 171.5 L154.4 172.2ZM188.3 175.9 L189.2 174.7 L190.2 173.6 L191.1 172.4 L191.7 171.7 L192.2 171.3 L192.2 171.3 L192.8 169.9 L193.4 168.6 L194.1 167.2 L194.9 165.9 L194.9 165.9 L193.6 166.8 L192.4 167.7 L191.2 168.7 L190 169.8 L190 169.8 L189.9 170.4 L189.4 171.2 L188.6 172.4 L187.8 173.7 L186.9 174.9ZM249.3 170 L250.4 170.4 L251.4 170.8 L252.5 171.2 L253.1 171.4 L253.5 171.7 L253.6 171.8 L254.6 171.8 L255.8 171.9 L257 171.9 L258.2 171.8 L258.2 171.8 L257.2 171.2 L256.2 170.6 L255.2 170 L254.4 169.4 L254.3 169.4 L253.8 169.4 L253.1 169.2 L252 168.9 L250.9 168.6 L249.8 168.4ZM282.8 171.4 L283.4 171.5 L284 171.5 L284.6 171.6 L284.8 171.6 L285.2 171.8 L285.4 171.8 L285.9 171.5 L286.5 171.2 L287.1 170.9 L287.8 170.5 L287.8 170.5 L287.1 170.2 L286.5 169.9 L285.9 169.6 L285.4 169.3 L285.2 169.3 L284.8 169.4 L284.6 169.5 L284 169.5 L283.4 169.6 L282.8 169.7ZM318 175.2 L318 174 L317.9 172.8 L317.9 171.5 L317.8 170.8 L317.8 170.4 L317.8 170.2 L317.4 169.3 L317 168.1 L316.6 167 L316.2 165.8 L316.2 165.8 L315.9 167 L315.7 168.2 L315.5 169.5 L315.4 170.6 L315.4 170.7 L315.6 171.2 L315.8 171.9 L316 173 L316.1 174.2 L316.3 175.3ZM345 171.4 L345.8 171.5 L346.5 171.5 L347.3 171.6 L347.7 171.6 L348 171.7 L348.3 171.8 L348.8 171.6 L349.5 171.2 L350.3 170.9 L351 170.5 L351 170.5 L350.3 170.2 L349.5 169.8 L348.8 169.5 L348.3 169.3 L348 169.4 L347.7 169.4 L347.3 169.5 L346.5 169.6 L345.8 169.6 L345 169.7ZM377.8 177.9 L378.4 176.1 L379.1 174.4 L379.7 172.6 L380.4 170.9 L380.4 170.8 L381 170.4 L381.2 169.2 L381.4 167.3 L381.7 165.4 L382 163.5 L382 163.5 L381 165.1 L379.9 166.7 L378.9 168.4 L378.2 169.4 L378.4 170.1 L378.4 170.2 L377.8 172 L377.3 173.8 L376.8 175.6 L376.2 177.4ZM411.3 182.7 L411.2 179.7 L411.2 176.7 L411.4 173.7 L411.7 170.6 L412 167.6 L412.2 166.5 L413.2 166 L413 164.7 L412.7 161.5 L412.3 158.4 L412.3 158.4 L411.1 161.3 L409.9 164.2 L409.4 165.6 L410.3 166.3 L410.2 167.4 L409.9 170.4 L409.7 173.5 L409.6 176.6 L409.6 179.7 L409.8 182.8ZM445.5 178.9 L444.7 176.8 L444.1 174.7 L443.6 172.5 L443.1 170.4 L443 169.3 L443.4 168.6 L443.2 168.1 L442.3 166 L441.5 163.8 L440.7 161.7 L440.7 161.7 L440.5 164 L440.4 166.3 L440.3 168.6 L440.3 169.2 L440.9 169.7 L441.2 170.7 L441.7 172.9 L442.4 175.1 L443.1 177.3 L444 179.4ZM477.6 171.3 L476.7 170.8 L475.8 170.4 L474.8 169.9 L474.3 169.7 L474 169.4 L473.8 169.3 L473 169.3 L471.9 169.2 L470.9 169.1 L469.9 169 L469.9 169 L470.6 169.7 L471.4 170.4 L472.2 171.1 L472.9 171.6 L473.1 171.7 L473.5 171.7 L474.1 171.9 L475 172.2 L475.9 172.5 L476.9 172.9ZM508.8 174.8 L508 173.6 L507.3 172.4 L506.6 171.2 L506.1 170.4 L506 169.9 L506 169.8 L505 168.8 L504 167.7 L503 166.7 L501.9 165.6 L501.9 165.6 L502.4 167 L502.9 168.4 L503.3 169.8 L503.8 171.2 L503.8 171.2 L504.3 171.6 L504.8 172.3 L505.6 173.5 L506.5 174.7 L507.5 175.8ZM543.3 168.3 L541.5 168.5 L539.6 168.8 L537.8 169.1 L536.1 169.5 L536 169.5 L535.4 169.3 L534.3 169.8 L532.6 170.6 L530.9 171.3 L529.2 171.9 L529.2 171.9 L531 172 L532.9 172.1 L534.8 172.1 L536.1 172.1 L536.6 171.6 L536.6 171.6 L538.3 171.1 L540 170.6 L541.8 170.3 L543.5 170ZM579 172.2 L576.2 171.7 L573.4 171.1 L570.7 170.4 L567.9 169.7 L565.1 168.9 L564.6 168.7 L564.2 167.7 L562.5 167.7 L559.5 167.6 L556.6 167.5 L556.6 167.5 L559.2 168.9 L561.7 170.4 L563.2 171.2 L564 170.6 L564.6 170.7 L567.4 171.4 L570.2 172.1 L573.1 172.7 L575.9 173.2 L578.8 173.7ZM606.5 169.4 L604.6 169.4 L602.8 169.4 L600.9 169.4 L599 169.5 L598.9 169.5 L598.3 169.1 L597.1 169.4 L595.3 169.9 L593.4 170.3 L591.6 170.8 L591.6 170.8 L593.4 171.1 L595.3 171.5 L597.2 171.8 L598.4 172 L599 171.6 L599.1 171.6 L601 171.4 L602.8 171.3 L604.7 171.2 L606.6 171ZM638.6 168 L636.5 168.4 L634.4 168.8 L632.3 169.2 L630.2 169.5 L629.5 169.7 L628.9 169.2 L628.1 169.6 L626.1 170.4 L624.1 171.2 L622.1 172.1 L622.1 172.1 L624.2 172.2 L626.4 172.2 L628.6 172.3 L629.4 172.3 L629.9 171.7 L630.6 171.5 L632.7 171.1 L634.8 170.6 L636.9 170.1 L638.9 169.6ZM671.9 166.2 L669.3 167.1 L666.7 167.9 L664.1 168.8 L661.5 169.7 L658.9 170.5 L658.7 170.6 L657.9 170 L656.2 171.1 L653.8 172.6 L651.4 174 L651.4 174 L654.2 173.8 L657 173.6 L659 173.4 L659.3 172.4 L659.5 172.4 L662.1 171.4 L664.7 170.5 L667.3 169.5 L669.9 168.6 L672.5 167.6ZM47.4 154.2 L48 154.2 L48.6 154.3 L49.3 154.4 L49.4 154.4 L49.9 154.5 L50 154.6 L50.5 154.3 L51.1 154 L51.8 153.6 L52.4 153.3 L52.4 153.3 L51.8 153 L51.1 152.7 L50.5 152.3 L50 152.1 L49.9 152.1 L49.4 152.2 L49.3 152.2 L48.6 152.3 L48 152.4 L47.4 152.5ZM84.4 157.9 L83.9 156.6 L83.4 155.4 L82.8 154.1 L82.5 153.3 L82.4 152.8 L82.4 152.7 L81.6 151.7 L80.7 150.6 L79.9 149.4 L79.1 148.3 L79.1 148.3 L79.3 149.7 L79.5 151.1 L79.8 152.5 L80.1 153.8 L80.1 153.9 L80.5 154.3 L80.9 155 L81.6 156.2 L82.2 157.4 L82.9 158.6ZM110.9 160.1 L111.5 158.5 L112.2 156.9 L112.9 155.3 L113.6 153.9 L113.7 153.8 L114.1 153.6 L114.4 152.2 L114.9 150.5 L115.3 148.8 L115.8 147 L115.8 147 L114.6 148.4 L113.5 149.8 L112.4 151.2 L111.5 152.3 L111.6 152.8 L111.6 153.1 L111 154.5 L110.4 156.2 L109.8 157.9 L109.3 159.6ZM140.3 156.4 L141.4 155.8 L142.4 155.3 L143.5 154.8 L144.1 154.5 L144.6 154.4 L144.7 154.4 L145.5 153.6 L146.4 152.8 L147.4 152 L148.3 151.2 L148.3 151.2 L147.1 151.4 L145.9 151.7 L144.7 151.9 L143.6 152.2 L143.5 152.2 L143.1 152.6 L142.5 153 L141.5 153.6 L140.5 154.2 L139.5 154.9ZM168.7 151.4 L170.3 152.1 L171.8 152.8 L173.4 153.5 L174.8 154.2 L174.9 154.4 L175.2 154.8 L176.6 155.1 L178.4 155.4 L180.2 155.6 L182 155.7 L182 155.7 L180.4 154.8 L178.9 153.9 L177.4 153 L176.4 152.2 L175.9 152.2 L175.7 152.3 L174.2 151.7 L172.6 151 L170.9 150.4 L169.3 149.8ZM201.4 156.1 L202.9 155.7 L204.3 155.3 L205.7 154.8 L206.6 154.6 L207.3 154.6 L207.2 154.6 L208.5 153.8 L209.8 153 L211.2 152.2 L212.5 151.5 L212.5 151.5 L211 151.6 L209.4 151.7 L207.9 151.9 L206.4 152.1 L206.3 152.1 L205.9 152.5 L205 152.8 L203.6 153.4 L202.3 153.9 L200.9 154.5ZM229.7 154.6 L231.9 154.5 L234 154.5 L236.1 154.4 L238.2 154.3 L238.9 154.3 L239.6 154.8 L240.4 154.6 L242.4 154 L244.5 153.5 L246.7 153.1 L246.7 153.1 L244.6 152.6 L242.4 152.2 L240.2 151.8 L239.4 151.7 L238.8 152.2 L238.1 152.3 L236 152.5 L233.9 152.7 L231.8 152.8 L229.7 152.9ZM263.2 156.4 L264.9 156 L266.6 155.5 L268.3 154.9 L269.8 154.4 L270 154.4 L270.5 154.5 L271.6 153.7 L273 152.8 L274.6 151.9 L276.2 151 L276.2 151 L274.4 151.1 L272.6 151.3 L270.8 151.6 L269.4 151.8 L269.1 152.2 L269 152.4 L267.6 153.1 L266 153.7 L264.4 154.3 L262.7 154.8ZM294.4 154.2 L296.1 154.2 L297.7 154.3 L299.3 154.4 L300.5 154.4 L300.9 154.6 L301.1 154.7 L302.6 154.4 L304.2 154 L305.8 153.6 L307.4 153.2 L307.4 153.2 L305.8 152.9 L304.2 152.6 L302.6 152.2 L301.1 151.9 L300.9 152 L300.5 152.2 L299.3 152.3 L297.7 152.3 L296.1 152.4 L294.4 152.5ZM330.3 154.2 L330.8 154.3 L331.3 154.4 L331.8 154.5 L331.9 154.6 L332.3 154.4 L332.8 154.1 L333.3 153.8 L333.8 153.6 L334.3 153.3 L334.3 153.3 L333.8 153.1 L333.3 152.8 L332.8 152.5 L332.3 152.3 L331.9 152.1 L331.8 152.1 L331.3 152.2 L330.8 152.3 L330.3 152.5ZM359.8 155.7 L360.8 155.3 L361.9 155 L363 154.7 L363.7 154.5 L364.1 154.5 L364.3 154.4 L365.1 153.8 L366 153.1 L367 152.4 L367.9 151.7 L367.9 151.7 L366.7 151.8 L365.6 151.9 L364.4 152 L363.4 152.1 L363.3 152.2 L362.9 152.4 L362.3 152.7 L361.2 153.2 L360.2 153.6 L359.2 154.1ZM393.1 162.1 L393.8 160 L394.6 157.9 L395.3 155.8 L396 153.6 L396.4 152.6 L397.1 152.2 L397.2 151.7 L397.4 149.4 L397.7 147.1 L397.9 144.8 L397.9 144.8 L396.7 146.8 L395.6 148.7 L394.4 150.7 L394.1 151.2 L394.4 152 L394.1 153 L393.5 155.2 L392.8 157.3 L392.2 159.5 L391.6 161.6ZM426.5 165.1 L426.6 162.1 L426.8 159.2 L427.1 156.3 L427.4 153.4 L427.7 150.5 L427.9 149.7 L428.8 149.2 L428.6 147.7 L428.4 144.7 L428.1 141.7 L428.1 141.7 L426.9 144.5 L425.7 147.3 L425.1 148.7 L426 149.4 L425.9 150.3 L425.6 153.2 L425.3 156.2 L425.2 159.1 L425.1 162.1 L425 165ZM460.7 162.1 L460.1 159.9 L459.6 157.7 L459.1 155.5 L458.8 153.2 L458.7 151.9 L459.2 151.3 L459.1 150.9 L458.4 148.7 L457.7 146.4 L457.1 144.1 L457.1 144.1 L456.7 146.4 L456.3 148.8 L456 151.2 L456 151.7 L456.7 152.2 L456.9 153.4 L457.3 155.8 L457.8 158 L458.4 160.3 L459.2 162.6ZM491.8 158.5 L491.4 157.1 L491 155.8 L490.7 154.4 L490.4 153.5 L490.5 152.9 L490.5 152.9 L489.8 151.7 L489.1 150.4 L488.4 149.1 L487.7 147.8 L487.7 147.8 L487.7 149.2 L487.8 150.7 L487.9 152.2 L487.9 153.7 L488 153.7 L488.3 154.2 L488.6 155 L489.1 156.4 L489.7 157.7 L490.2 159.1ZM523.4 156.3 L522.9 155.4 L522.5 154.5 L522 153.7 L521.8 153.1 L521.6 152.7 L521.6 152.5 L521 152 L520.2 151.3 L519.4 150.5 L518.7 149.8 L518.7 149.8 L518.9 150.9 L519 151.9 L519.2 152.9 L519.4 153.8 L519.6 153.9 L519.9 154.2 L520.2 154.7 L520.8 155.5 L521.3 156.4 L521.9 157.2ZM559 154.5 L557.3 153.9 L555.6 153.3 L553.9 152.8 L552.4 152.3 L552.3 152.2 L552 151.8 L550.6 151.8 L548.9 151.6 L547.1 151.4 L545.3 151.2 L545.3 151.2 L546.8 152.1 L548.4 153.1 L550 154 L551.2 154.6 L551.7 154.5 L551.9 154.4 L553.4 154.7 L555.1 155.1 L556.8 155.6 L558.5 156ZM591.6 155.6 L589.6 154.8 L587.6 154.1 L585.7 153.2 L583.8 152.4 L583.1 152.1 L582.8 151.4 L582 151.2 L579.9 150.8 L577.8 150.3 L575.6 149.8 L575.6 149.8 L577.3 151.1 L579.1 152.4 L580.8 153.7 L581.5 154.2 L582.3 154 L583 154.3 L585 155 L587 155.8 L589 156.4 L591 157.1ZM621.3 153.4 L619.7 153.2 L618.1 152.9 L616.5 152.6 L615.3 152.3 L615 152 L614.8 151.9 L613.3 152 L611.7 152.1 L610 152.1 L608.3 152.2 L608.3 152.2 L609.9 152.8 L611.4 153.5 L613 154.1 L614.3 154.7 L614.5 154.6 L615 154.5 L616.2 154.6 L617.8 154.8 L619.4 155 L621.1 155.1ZM654.1 149.6 L652 150.2 L649.9 150.9 L647.8 151.6 L645.8 152.4 L644.9 152.7 L644.2 152.4 L643.6 152.7 L641.7 153.9 L639.8 155 L637.8 156.1 L637.8 156.1 L640.1 155.9 L642.3 155.7 L644.5 155.4 L645.3 155.3 L645.6 154.6 L646.5 154.3 L648.5 153.4 L650.5 152.6 L652.6 151.9 L654.6 151.1ZM63.5 138.4 L64.2 138.1 L64.8 137.7 L65.5 137.4 L65.9 137.2 L66.2 137.1 L66.5 137 L66.8 136.6 L67.2 135.9 L67.7 135.2 L68.1 134.5 L68.1 134.5 L67.3 134.6 L66.5 134.7 L65.7 134.8 L65.2 134.9 L65 135.1 L64.8 135.3 L64.4 135.6 L63.8 136.1 L63.2 136.5 L62.6 137ZM97.3 139.7 L97.5 138.8 L97.7 138 L97.9 137.1 L98 136.6 L98.1 136.3 L98.2 136.1 L98.1 135.4 L97.9 134.5 L97.7 133.6 L97.6 132.7 L97.6 132.7 L97.1 133.5 L96.6 134.3 L96.1 135.1 L95.8 135.7 L95.8 135.9 L95.8 136.3 L95.8 136.8 L95.7 137.7 L95.6 138.5 L95.6 139.4ZM125.5 139 L126.4 138.5 L127.2 138 L128.1 137.5 L128.6 137.2 L129 137.1 L129.2 137 L129.7 136.4 L130.4 135.6 L131 134.7 L131.7 133.9 L131.7 133.9 L130.7 134.2 L129.7 134.5 L128.6 134.7 L127.8 134.9 L127.7 135.1 L127.4 135.4 L126.9 135.8 L126.1 136.4 L125.3 137 L124.6 137.6ZM153.8 132.8 L155.2 133.8 L156.5 134.8 L157.8 135.8 L158.8 136.7 L158.9 137.1 L159.1 137.4 L160.4 138 L162 138.8 L163.6 139.5 L165.2 140.1 L165.2 140.1 L164 138.9 L162.8 137.6 L161.7 136.3 L160.8 135.2 L160.5 135.1 L160.2 135.1 L159.1 134.2 L157.7 133.3 L156.2 132.3 L154.7 131.4ZM187.3 134.7 L188.1 135.3 L188.9 135.9 L189.7 136.5 L190.2 136.8 L190.5 137.1 L190.6 137.3 L191.5 137.5 L192.5 137.7 L193.5 137.9 L194.6 138.1 L194.6 138.1 L193.8 137.4 L193.2 136.6 L192.5 135.8 L191.9 135.1 L191.7 135.1 L191.4 135 L190.8 134.7 L189.9 134.2 L189 133.7 L188.1 133.3ZM216.9 135.7 L218.3 136.1 L219.6 136.4 L220.9 136.8 L221.7 137 L222.2 137.3 L222.2 137.4 L223.6 137.4 L225 137.4 L226.4 137.4 L227.8 137.4 L227.8 137.4 L226.6 136.8 L225.3 136.1 L224.1 135.5 L222.8 134.9 L222.8 134.9 L222.2 134.9 L221.4 134.8 L220 134.5 L218.7 134.3 L217.3 134ZM248.6 134.2 L249.8 135 L251 135.7 L252.2 136.4 L252.9 136.8 L253.3 137.2 L253.3 137.3 L254.7 137.6 L256 137.9 L257.4 138.2 L258.8 138.5 L258.8 138.5 L257.7 137.6 L256.6 136.7 L255.5 135.8 L254.5 135 L254.4 135 L253.9 134.9 L253.1 134.5 L251.9 134 L250.7 133.4 L249.4 132.8ZM279.9 134.6 L281.1 135.2 L282.3 135.9 L283.6 136.5 L284.3 136.9 L284.7 137.3 L284.8 137.3 L286.1 137.6 L287.5 137.8 L288.9 138.1 L290.3 138.3 L290.3 138.3 L289.2 137.5 L288 136.6 L286.9 135.8 L285.8 134.9 L285.8 134.9 L285.2 134.9 L284.4 134.6 L283.2 134.1 L281.9 133.6 L280.6 133ZM313.3 134.8 L314 135.4 L314.6 135.9 L315.3 136.5 L315.7 136.8 L316 137.1 L316.1 137.3 L316.8 137.4 L317.7 137.6 L318.6 137.8 L319.5 138 L319.5 138 L319 137.3 L318.4 136.5 L317.9 135.8 L317.5 135.2 L317.3 135.1 L317 135 L316.5 134.7 L315.7 134.3 L315 133.9 L314.2 133.4ZM346 137 L346.5 137.1 L347 137.2 L347.5 137.3 L347.6 137.4 L348 137.1 L348.5 136.9 L349 136.6 L349.5 136.4 L350 136.1 L350 136.1 L349.5 135.8 L349 135.6 L348.5 135.3 L348 135.1 L347.6 134.9 L347.5 134.9 L347 135 L346.5 135.1 L346 135.3ZM377.8 140.7 L378.5 139.7 L379.1 138.7 L379.8 137.6 L380.1 137 L380.5 136.7 L380.6 136.6 L380.8 135.5 L381.1 134.3 L381.4 133.1 L381.7 131.9 L381.7 131.9 L380.8 132.8 L380 133.7 L379.1 134.6 L378.3 135.4 L378.3 135.5 L378.2 136 L377.9 136.6 L377.4 137.7 L376.9 138.8 L376.3 139.8ZM409.4 144 L410 142.1 L410.6 140.2 L411.2 138.3 L411.8 136.4 L411.9 136 L412.5 135.6 L412.6 134.6 L412.7 132.5 L412.9 130.5 L413.1 128.4 L413.1 128.4 L412.1 130.2 L411.1 132 L410.1 133.8 L409.6 134.7 L409.9 135.4 L409.8 135.8 L409.3 137.8 L408.8 139.7 L408.3 141.6 L407.8 143.6ZM440.2 146.4 L440.8 143.9 L441.5 141.4 L442.2 138.9 L443.1 136.4 L443.8 134.1 L444.2 134 L444.7 133.8 L445 131.5 L445.2 128.8 L445.5 126.1 L445.5 126.1 L444 128.4 L442.6 130.7 L441.4 132.7 L441.8 133.2 L442 133.5 L441.2 135.8 L440.5 138.3 L439.8 140.9 L439.2 143.5 L438.7 146.1ZM472.5 144.3 L472.9 142.3 L473.4 140.3 L473.9 138.4 L474.5 136.4 L474.7 135.9 L475.3 135.5 L475.4 134.6 L475.7 132.5 L475.9 130.4 L476.2 128.3 L476.2 128.3 L475.1 130.1 L474 131.9 L472.9 133.7 L472.4 134.6 L472.7 135.3 L472.5 135.8 L472 137.8 L471.6 139.9 L471.2 141.9 L470.9 144ZM502 141.6 L502.9 140.4 L503.8 139.2 L504.7 138 L505.4 137.2 L505.9 136.9 L506 136.9 L506.7 135.5 L507.4 134.1 L508.1 132.6 L508.7 131.2 L508.7 131.2 L507.5 132.2 L506.3 133.3 L505.1 134.2 L503.9 135.2 L503.9 135.3 L503.7 135.8 L503.1 136.7 L502.2 138 L501.4 139.3 L500.6 140.7ZM536.9 142.8 L536.9 141.2 L537 139.5 L537.1 137.9 L537.3 136.5 L537.5 136.3 L537.7 136 L537.6 134.6 L537.4 132.8 L537.2 131.1 L537.1 129.4 L537.1 129.4 L536.5 131 L536 132.7 L535.4 134.3 L534.9 135.6 L535.1 135.9 L535.2 136.3 L535.1 137.7 L535.1 139.4 L535.1 141.1 L535.2 142.9ZM574 141 L572.5 139.7 L571.1 138.3 L569.8 136.9 L568.4 135.4 L568.2 135.1 L568.2 134.4 L567.3 133.8 L565.8 132.5 L564.2 131.2 L562.7 129.8 L562.7 129.8 L563.5 131.7 L564.4 133.6 L565.3 135.4 L565.9 136.4 L566.6 136.5 L566.9 136.8 L568.3 138.2 L569.8 139.6 L571.3 141 L572.9 142.3ZM604.2 137.4 L603 136.8 L601.8 136.3 L600.7 135.7 L600 135.3 L599.6 135 L599.5 134.9 L598.3 134.7 L596.9 134.4 L595.6 134.1 L594.3 133.8 L594.3 133.8 L595.3 134.7 L596.4 135.6 L597.4 136.4 L598.5 137.2 L598.5 137.2 L599.1 137.3 L599.8 137.6 L601.1 138.1 L602.3 138.5 L603.5 139ZM636.6 134.6 L635 134.7 L633.4 134.8 L631.9 134.9 L630.8 135 L630.3 134.8 L630.2 134.8 L628.8 135.2 L627.3 135.7 L625.7 136.2 L624.2 136.7 L624.2 136.7 L625.8 136.9 L627.4 137.1 L629 137.3 L630.5 137.5 L630.6 137.4 L631.1 137.1 L632.1 137 L633.6 136.7 L635.2 136.5 L636.7 136.3ZM668.1 132.9 L666.4 133.4 L664.7 133.9 L663.1 134.5 L661.6 135 L661.4 135 L660.9 134.9 L659.8 135.7 L658.3 136.7 L656.8 137.6 L655.3 138.5 L655.3 138.5 L657 138.3 L658.8 138.1 L660.6 137.8 L662 137.6 L662.2 137.2 L662.4 137 L663.8 136.4 L665.4 135.7 L667 135.1 L668.6 134.4ZM51.7 124.2 L51.6 122.8 L51.4 121.4 L51.2 120 L51.1 119.2 L51.1 118.6 L51.1 118.5 L50.5 117.3 L49.9 116.1 L49.3 114.8 L48.8 113.5 L48.8 113.5 L48.7 114.9 L48.6 116.3 L48.6 117.8 L48.6 119.1 L48.7 119.2 L49 119.7 L49.2 120.5 L49.5 121.8 L49.8 123.1 L50 124.4ZM80.4 122.9 L80.8 122 L81.3 121.1 L81.8 120.2 L82.1 119.7 L82.4 119.4 L82.5 119.2 L82.6 118.4 L82.7 117.3 L82.8 116.3 L83 115.3 L83 115.3 L82.3 116 L81.5 116.8 L80.8 117.6 L80.2 118.2 L80.2 118.4 L80.1 118.8 L79.9 119.3 L79.5 120.3 L79.2 121.2 L78.8 122.1ZM111.6 121.8 L112.1 121.2 L112.6 120.7 L113.1 120.1 L113.4 119.8 L113.6 119.6 L113.8 119.4 L113.9 118.9 L114.1 118.1 L114.3 117.3 L114.4 116.5 L114.4 116.5 L113.7 116.9 L113 117.3 L112.3 117.7 L111.8 117.9 L111.7 118.2 L111.6 118.5 L111.4 118.9 L111 119.5 L110.6 120.2 L110.2 120.8ZM172 116.7 L172.7 117.4 L173.3 118.2 L174 118.9 L174.4 119.4 L174.6 119.7 L174.7 119.9 L175.4 120.3 L176.4 120.8 L177.3 121.2 L178.3 121.7 L178.3 121.7 L177.8 120.8 L177.3 119.8 L176.8 118.9 L176.5 118.2 L176.3 118 L175.9 117.8 L175.5 117.4 L174.7 116.8 L173.9 116.1 L173.2 115.4ZM237.4 111.9 L237.4 113.6 L237.4 115.4 L237.3 117.1 L237.1 118.6 L237 118.8 L236.7 119.2 L237 120.7 L237.4 122.4 L237.9 124.2 L238.6 125.8 L238.6 125.8 L238.7 124.1 L238.9 122.3 L239.2 120.6 L239.6 119.4 L239.4 118.9 L239.3 118.8 L239.3 117.2 L239.3 115.4 L239.2 113.6 L239.1 111.9ZM266.3 114.4 L266.9 115.6 L267.4 116.9 L268 118.1 L268.3 118.9 L268.4 119.5 L268.4 119.5 L269.3 120.6 L270.3 121.6 L271.2 122.7 L272.2 123.7 L272.2 123.7 L271.8 122.4 L271.4 121 L271 119.6 L270.7 118.3 L270.7 118.3 L270.3 117.9 L269.9 117.2 L269.2 116 L268.5 114.8 L267.8 113.6ZM297.9 116.2 L298.4 117 L299 117.9 L299.5 118.7 L299.8 119.2 L300 119.6 L300.1 119.8 L300.7 120.3 L301.6 120.9 L302.5 121.5 L303.4 122 L303.4 122 L303 121.1 L302.7 120.1 L302.3 119.1 L302.1 118.3 L301.9 118.2 L301.6 117.9 L301.2 117.4 L300.5 116.7 L299.9 115.9 L299.2 115.2ZM331.2 120.2 L331.7 120.4 L331.9 120.4 L332 120.2 L332.3 119.9 L332.6 119.6 L332.9 119.3 L333.2 119 L333.4 118.7 L333.7 118.4 L333.7 118.4 L333.3 118.3 L332.9 118.3 L332.5 118.2 L332.1 118.1 L331.6 118.1 L331.2 118 L331 118 L330.9 118.1 L330.6 118.6ZM358.8 122.5 L360.2 121.8 L361.5 121.2 L362.9 120.5 L363.7 120.1 L364.3 120.1 L364.4 120.1 L365.5 119 L366.6 118 L367.8 117 L368.9 115.9 L368.9 115.9 L367.5 116.4 L366 116.8 L364.5 117.3 L363 117.7 L363.1 117.7 L362.6 118.2 L361.9 118.7 L360.6 119.4 L359.3 120.2 L358 120.9ZM393.3 124.7 L394 123.3 L394.7 122 L395.4 120.7 L395.8 119.9 L396.3 119.4 L396.3 119.5 L396.6 118 L397 116.5 L397.3 115 L397.7 113.5 L397.7 113.5 L396.7 114.7 L395.8 115.9 L394.8 117.1 L393.9 118.3 L393.9 118.3 L393.8 119 L393.5 119.8 L392.9 121.2 L392.3 122.5 L391.7 123.9ZM425.9 124.2 L426.3 122.9 L426.7 121.7 L427.1 120.4 L427.4 119.7 L427.7 119.2 L427.7 119.1 L427.7 117.9 L427.8 116.5 L427.8 115.2 L427.9 113.8 L427.9 113.8 L427.2 115 L426.5 116.2 L425.9 117.4 L425.3 118.5 L425.3 118.6 L425.3 119.1 L425.1 119.9 L424.8 121.2 L424.5 122.4 L424.3 123.7ZM455.3 128.6 L456.1 126.2 L457 123.9 L457.9 121.5 L458.7 119.2 L459.5 117.4 L460.3 117.2 L460.3 117.1 L460.7 114.7 L461.1 112.1 L461.6 109.6 L461.6 109.6 L460.1 111.7 L458.6 113.8 L457.1 115.9 L457.2 115.9 L457.6 116.7 L456.9 118.5 L456.1 120.9 L455.3 123.3 L454.6 125.7 L453.8 128.1ZM486.1 125.4 L487 123.9 L488 122.4 L489.1 120.9 L490.1 119.5 L490.1 119.5 L490.7 119.3 L491.2 118.1 L491.9 116.4 L492.7 114.7 L493.5 113 L493.5 113 L492.1 114.2 L490.7 115.4 L489.3 116.7 L488.3 117.6 L488.3 118.3 L488.3 118.3 L487.4 119.8 L486.4 121.4 L485.5 123 L484.6 124.6ZM518.9 123.6 L519.5 122.6 L520.2 121.5 L520.9 120.5 L521.3 119.9 L521.7 119.5 L521.7 119.4 L522.1 118.3 L522.4 117 L522.7 115.8 L523.1 114.5 L523.1 114.5 L522.2 115.5 L521.3 116.4 L520.4 117.3 L519.6 118.2 L519.5 118.3 L519.4 118.8 L519.1 119.4 L518.5 120.6 L517.9 121.7 L517.4 122.8ZM554.2 127.6 L553.8 125.4 L553.5 123.2 L553.2 121 L553 118.8 L552.9 117.7 L553.4 117.1 L553.3 116.5 L552.6 114.4 L552.1 112.1 L551.6 109.9 L551.6 109.9 L551.1 112.1 L550.7 114.4 L550.3 116.7 L550.2 117.4 L550.9 117.9 L551 119 L551.3 121.2 L551.7 123.5 L552.1 125.7 L552.6 127.9ZM587 124.9 L586.3 123.3 L585.6 121.7 L585 120.1 L584.4 118.7 L584.5 118.5 L584.6 118 L583.8 116.9 L582.9 115.3 L581.9 113.8 L581 112.3 L581 112.3 L581.2 114.1 L581.4 115.8 L581.7 117.6 L581.9 119 L582.3 119.3 L582.4 119.5 L583.1 120.9 L583.8 122.5 L584.6 124.1 L585.5 125.6ZM619.7 120.1 L618.5 119.5 L617.4 119 L616.3 118.4 L615.6 118.1 L615.2 117.8 L615.2 117.7 L614 117.5 L612.7 117.3 L611.5 117 L610.2 116.7 L610.2 116.7 L611.2 117.6 L612.2 118.4 L613.2 119.2 L614.1 120 L614.2 120 L614.8 120.1 L615.5 120.4 L616.6 120.8 L617.8 121.2 L619 121.7ZM651.2 118.8 L650 118.6 L648.7 118.3 L647.5 118.1 L646.8 117.9 L646.3 117.7 L646.2 117.6 L645.1 117.7 L643.8 117.8 L642.5 117.9 L641.2 118 L641.2 118 L642.4 118.5 L643.5 119.1 L644.7 119.6 L645.8 120.1 L645.9 120.1 L646.4 120 L647.2 120.1 L648.4 120.3 L649.7 120.4 L650.9 120.5ZM64.5 106.6 L65.1 105.5 L65.6 104.3 L66.1 103.2 L66.4 102.5 L66.7 102.1 L66.8 102 L66.9 100.9 L67.1 99.6 L67.3 98.3 L67.5 97 L67.5 97 L66.7 98.1 L65.9 99.1 L65.2 100.1 L64.5 101.1 L64.5 101.2 L64.4 101.7 L64.1 102.4 L63.7 103.6 L63.3 104.8 L63 106ZM93.8 106.8 L94.8 105.7 L95.8 104.6 L96.8 103.5 L97.4 102.8 L98 102.5 L98 102.5 L98.7 101.2 L99.4 99.8 L100.1 98.4 L100.8 97.1 L100.8 97.1 L99.6 98 L98.4 99 L97.2 99.9 L96 100.8 L96 100.8 L95.7 101.4 L95.2 102.1 L94.3 103.3 L93.4 104.5 L92.5 105.8ZM128.6 103.4 L129.1 103.1 L129.2 102.9 L129.2 102.8 L129.1 102.3 L129.1 101.9 L129 101.5 L129 101.1 L128.9 100.7 L128.9 100.3 L128.9 100.3 L128.6 100.5 L128.2 100.8 L127.9 101.1 L127.6 101.4 L127.3 101.7 L127 102 L126.9 102.1 L126.8 102.3 L127 102.8ZM157.1 101.6 L157.7 101.9 L158.2 102.2 L158.8 102.5 L158.9 102.5 L159.3 102.8 L159.4 102.9 L160 102.8 L160.7 102.7 L161.4 102.6 L162.1 102.5 L162.1 102.5 L161.6 102 L161.1 101.5 L160.7 101 L160.3 100.5 L160.1 100.5 L159.6 100.5 L159.5 100.4 L158.9 100.3 L158.3 100.1 L157.7 100ZM190.3 104.2 L190.7 103.7 L191.2 103.3 L191.6 102.8 L191.7 102.7 L192.1 102.4 L192.2 102.3 L192.3 101.7 L192.4 101.1 L192.5 100.4 L192.6 99.7 L192.6 99.7 L192 100 L191.3 100.3 L190.7 100.6 L190.2 100.8 L190.1 100.9 L189.9 101.4 L189.9 101.5 L189.6 102.1 L189.2 102.6 L188.9 103.1ZM251.1 100.1 L251.6 100.7 L252.1 101.3 L252.6 101.9 L252.9 102.2 L253 102.5 L253.2 102.8 L253.7 102.9 L254.4 103.2 L255.2 103.5 L256 103.8 L256 103.8 L255.7 103 L255.4 102.2 L255.1 101.5 L255 101 L254.7 100.8 L254.4 100.7 L254.1 100.4 L253.5 99.9 L252.9 99.4 L252.3 98.9ZM282.2 99.8 L282.7 100.5 L283.3 101.1 L283.9 101.8 L284.2 102.2 L284.4 102.5 L284.5 102.7 L285.2 103 L286 103.4 L286.9 103.8 L287.7 104.1 L287.7 104.1 L287.3 103.3 L287 102.4 L286.6 101.6 L286.3 101 L286.1 100.8 L285.8 100.6 L285.4 100.3 L284.7 99.7 L284 99.2 L283.4 98.6ZM314.1 102.5 L314.8 102.6 L315.4 102.7 L316 102.7 L316.1 102.8 L316.6 102.9 L316.7 102.9 L317.3 102.6 L317.9 102.3 L318.5 102 L319.1 101.7 L319.1 101.7 L318.5 101.3 L317.9 101 L317.3 100.7 L316.7 100.4 L316.6 100.4 L316.1 100.6 L316 100.6 L315.4 100.7 L314.8 100.7 L314.1 100.8ZM338.8 104 L341.1 103.7 L343.5 103.3 L345.8 103 L348.2 102.6 L349.7 102.4 L350.4 102.9 L350.7 102.8 L352.9 101.8 L355.1 100.7 L357.3 99.7 L357.3 99.7 L354.9 99.7 L352.4 99.7 L350 99.7 L349.8 99.7 L349.3 100.4 L347.8 100.7 L345.5 101.1 L343.2 101.6 L340.8 102 L338.5 102.5ZM371.4 106.8 L373.5 105.8 L375.6 104.7 L377.7 103.6 L379.9 102.5 L381.2 101.8 L382 102.1 L382.3 101.9 L384.1 100.2 L385.8 98.5 L387.5 96.7 L387.5 96.7 L385.2 97.6 L382.9 98.4 L380.7 99.1 L380.4 99.2 L380.2 100.1 L378.9 100.8 L376.9 102 L374.8 103.1 L372.7 104.3 L370.6 105.4ZM405.8 109.8 L407.2 107.9 L408.6 106 L410.1 104.1 L411.5 102.3 L412.5 101.1 L413.4 101 L413.5 100.8 L414.5 98.5 L415.5 96.3 L416.5 94.1 L416.5 94.1 L414.7 95.7 L412.8 97.3 L411 98.8 L410.7 99 L410.9 99.9 L410 101.1 L408.6 103 L407.2 104.9 L405.9 106.9 L404.5 108.9ZM438.7 109.2 L439.8 107.4 L440.8 105.7 L441.9 103.9 L443 102.2 L443.3 101.8 L444.1 101.5 L444.4 100.6 L445.1 98.6 L445.8 96.6 L446.5 94.6 L446.5 94.6 L445 96.2 L443.6 97.7 L442.1 99.2 L441.4 99.9 L441.5 100.7 L441.3 101.1 L440.2 102.9 L439.2 104.7 L438.3 106.6 L437.3 108.4ZM470.7 107.3 L471.6 106 L472.6 104.8 L473.5 103.5 L474.1 102.7 L474.6 102.4 L474.7 102.4 L475.3 101 L475.9 99.5 L476.5 98 L477.1 96.6 L477.1 96.6 L476 97.6 L474.8 98.7 L473.6 99.8 L472.5 100.8 L472.4 100.9 L472.3 101.5 L471.8 102.3 L470.9 103.7 L470.1 105 L469.3 106.4ZM498.4 104.9 L500.1 104.2 L501.8 103.6 L503.5 103.1 L505.1 102.7 L505.2 102.7 L505.8 102.9 L507 102.3 L508.6 101.3 L510.2 100.3 L511.8 99.3 L511.8 99.3 L509.9 99.6 L508.1 99.9 L506.3 100 L505 100.1 L504.6 100.6 L504.6 100.7 L502.9 101.2 L501.1 101.8 L499.4 102.5 L497.8 103.3ZM533.5 110.5 L534.4 108.4 L535.4 106.3 L536.3 104.2 L537.2 102 L537.7 100.9 L538.5 100.5 L538.6 100.1 L539 97.8 L539.4 95.4 L539.8 93.1 L539.8 93.1 L538.4 95 L537.1 97 L535.7 98.9 L535.5 99.3 L535.8 100.1 L535.4 101.3 L534.5 103.4 L533.7 105.6 L532.9 107.8 L532 109.9ZM566.6 110.1 L567 108 L567.5 106 L568 104 L568.6 102 L568.9 101.3 L569.5 100.9 L569.6 100 L569.8 97.8 L569.9 95.6 L569.9 93.5 L569.9 93.5 L569 95.4 L568 97.3 L566.9 99.2 L566.5 100 L566.9 100.7 L566.7 101.4 L566.2 103.4 L565.7 105.6 L565.3 107.7 L565 109.8ZM601.1 108.3 L600.8 106.7 L600.5 105 L600.3 103.3 L600.1 101.7 L600.2 101.5 L600.4 101.1 L600 99.8 L599.4 98.1 L598.8 96.4 L598.2 94.7 L598.2 94.7 L598 96.5 L597.9 98.3 L597.7 100.1 L597.6 101.4 L597.9 101.8 L598 102 L598.3 103.5 L598.6 105.3 L599 107 L599.5 108.7ZM634.2 102.6 L633.4 102.1 L632.5 101.6 L631.7 101.1 L631.3 100.8 L631 100.6 L630.8 100.4 L630 100.3 L629.1 100.2 L628.1 100.1 L627.1 99.9 L627.1 99.9 L627.8 100.7 L628.5 101.4 L629.1 102.1 L629.7 102.7 L629.9 102.7 L630.3 102.8 L630.8 103 L631.7 103.4 L632.5 103.7 L633.4 104.1ZM666.3 102.4 L665.3 101.9 L664.3 101.5 L663.2 101 L662.6 100.8 L662.2 100.5 L662.1 100.4 L661.1 100.4 L659.9 100.3 L658.7 100.2 L657.6 100.1 L657.6 100.1 L658.5 100.8 L659.5 101.5 L660.4 102.2 L661.2 102.8 L661.4 102.8 L661.9 102.8 L662.5 103 L663.6 103.4 L664.7 103.7 L665.8 104Z" fill="#fff" stroke="#fff" stroke-width="0.4" stroke-linejoin="round"/>
</g>
<rect x="47.700" y="84.6" width="626.3" height="379.4" fill="none" stroke="#fff" stroke-width="2.3"/>
<path d="M49.6 82.6h1.6v1.2h-1.6zM81 82.6h1.6v1.2h-1.6zM112.4 82.6h1.6v1.2h-1.6zM143.7 82.6h1.6v1.2h-1.6zM175.1 82.6h1.6v1.2h-1.6zM206.5 82.6h1.6v1.2h-1.6zM237.9 82.6h1.6v1.2h-1.6zM269.3 82.6h1.6v1.2h-1.6zM300.6 82.6h1.6v1.2h-1.6zM332 82.6h1.6v1.2h-1.6zM363.4 82.6h1.6v1.2h-1.6zM394.8 82.6h1.6v1.2h-1.6zM426.2 82.6h1.6v1.2h-1.6zM457.5 82.6h1.6v1.2h-1.6zM488.9 82.6h1.6v1.2h-1.6zM520.3 82.6h1.6v1.2h-1.6zM551.7 82.6h1.6v1.2h-1.6zM583.1 82.6h1.6v1.2h-1.6zM614.4 82.6h1.6v1.2h-1.6zM645.8 82.6h1.6v1.2h-1.6z" fill="#fff" fill-opacity="0.8"/>
<text x="55.3" y="393.3" font-size="16.5" textLength="28" lengthAdjust="spacingAndGlyphs" stroke="#000" stroke-width="4.6" stroke-linejoin="round" fill="#000">MSL</text>
<text x="93.6" y="393.3" font-size="16.5" textLength="21.5" lengthAdjust="spacingAndGlyphs" stroke="#000" stroke-width="4.6" stroke-linejoin="round" fill="#000">Air</text>
<text x="126" y="393.3" font-size="16.5" textLength="69" lengthAdjust="spacingAndGlyphs" stroke="#000" stroke-width="4.6" stroke-linejoin="round" fill="#000">Pressure</text>
<text x="55.3" y="393.3" font-size="16.5" textLength="28" lengthAdjust="spacingAndGlyphs" stroke="#fff" stroke-width="0.9">MSL</text>
<text x="93.6" y="393.3" font-size="16.5" textLength="21.5" lengthAdjust="spacingAndGlyphs" stroke="#fff" stroke-width="0.9">Air</text>
<text x="126" y="393.3" font-size="16.5" textLength="69" lengthAdjust="spacingAndGlyphs" stroke="#fff" stroke-width="0.9">Pressure</text>
<rect x="78" y="406.500" width="95" height="44.5" fill="#000" stroke="#fff" stroke-width="1.2"/>
<text x="95.500" y="430" font-size="13.5" textLength="60" lengthAdjust="spacing" stroke="#fff" stroke-width="0.6">10.0 m/s</text>
<path d="M107.300 440H135" stroke="#fff" stroke-width="1.8"/><path d="M133 437.800L141.300 440L133 442.200Z" fill="#fff"/>
<rect x="46.600" y="469.3" width="627.700" height="14" fill="#fff"/>
<rect x="48.9" y="471.3" width="23.9" height="10.300" fill="#00003c"/>
<rect x="75" y="471.3" width="23.9" height="10.300" fill="#000078"/>
<rect x="101.1" y="471.3" width="23.9" height="10.300" fill="#0000b4"/>
<rect x="127.2" y="471.3" width="23.9" height="10.300" fill="#0000ff"/>
<rect x="153.3" y="471.3" width="23.9" height="10.300" fill="#0032ff"/>
<rect x="179.4" y="471.3" width="23.9" height="10.300" fill="#005aff"/>
<rect x="205.5" y="471.3" width="23.9" height="10.300" fill="#0082ff"/>
<rect x="231.6" y="471.3" width="23.9" height="10.300" fill="#00aaff"/>
<rect x="257.7" y="471.3" width="23.9" height="10.300" fill="#00d2ff"/>
<rect x="283.8" y="471.3" width="23.9" height="10.300" fill="#00ffff"/>
<rect x="309.9" y="471.3" width="23.9" height="10.300" fill="#00f000"/>
<rect x="336" y="471.3" width="23.9" height="10.300" fill="#a0f000"/>
<rect x="362" y="471.3" width="23.9" height="10.300" fill="#ffff00"/>
<rect x="388.1" y="471.3" width="23.9" height="10.300" fill="#ffd700"/>
<rect x="414.2" y="471.3" width="23.9" height="10.300" fill="#ff8200"/>
<rect x="440.3" y="471.3" width="23.9" height="10.300" fill="#ff5a00"/>
<rect x="466.4" y="471.3" width="23.9" height="10.300" fill="#ff2d00"/>
<rect x="492.5" y="471.3" width="23.9" height="10.300" fill="#ff0000"/>
<rect x="518.6" y="471.3" width="23.9" height="10.300" fill="#f40000"/>
<rect x="544.7" y="471.3" width="23.9" height="10.300" fill="#c80000"/>
<rect x="570.8" y="471.3" width="23.9" height="10.300" fill="#a50000"/>
<rect x="596.9" y="471.3" width="23.9" height="10.300" fill="#7d0000"/>
<rect x="623" y="471.3" width="23.9" height="10.300" fill="#550000"/>
<rect x="649.1" y="471.3" width="23.9" height="10.300" fill="#2d0000"/>
<text x="99.5" y="497.4" font-size="15.4" textLength="27.5" lengthAdjust="spacingAndGlyphs" text-anchor="middle" stroke="#fff" stroke-width="0.65">990</text>
<text x="177.8" y="497.4" font-size="15.4" textLength="27.5" lengthAdjust="spacingAndGlyphs" text-anchor="middle" stroke="#fff" stroke-width="0.65">995</text>
<text x="252" y="497.4" font-size="15.4" textLength="35.5" lengthAdjust="spacingAndGlyphs" text-anchor="middle" stroke="#fff" stroke-width="0.65">1000</text>
<text x="330.3" y="497.4" font-size="15.4" textLength="35.5" lengthAdjust="spacingAndGlyphs" text-anchor="middle" stroke="#fff" stroke-width="0.65">1005</text>
<text x="408.7" y="497.4" font-size="15.4" textLength="35.5" lengthAdjust="spacingAndGlyphs" text-anchor="middle" stroke="#fff" stroke-width="0.65">1010</text>
<text x="486.2" y="497.4" font-size="15.4" textLength="35.5" lengthAdjust="spacingAndGlyphs" text-anchor="middle" stroke="#fff" stroke-width="0.65">1015</text>
<text x="565" y="497.4" font-size="15.4" textLength="35.5" lengthAdjust="spacingAndGlyphs" text-anchor="middle" stroke="#fff" stroke-width="0.65">1020</text>
<text x="642.8" y="497.4" font-size="15.4" textLength="35.5" lengthAdjust="spacingAndGlyphs" text-anchor="middle" stroke="#fff" stroke-width="0.65">1025</text>
<text x="359" y="516.5" font-size="17" textLength="24" lengthAdjust="spacingAndGlyphs" text-anchor="middle" stroke="#fff" stroke-width="0.55">mb</text>
<text x="26" y="74.2" font-size="15.2" textLength="26.5" lengthAdjust="spacingAndGlyphs" stroke="#fff" stroke-width="0.65">100</text>
<circle cx="57" cy="65.4" r="1.75" fill="none" stroke="#fff" stroke-width="1.1"/>
<text x="60.1" y="74.2" font-size="15.2" textLength="11.5" lengthAdjust="spacingAndGlyphs" stroke="#fff" stroke-width="0.65">W</text>
<text x="112.5" y="74.2" font-size="15.2" textLength="17.5" lengthAdjust="spacingAndGlyphs" stroke="#fff" stroke-width="0.65">95</text>
<circle cx="134.5" cy="65.4" r="1.75" fill="none" stroke="#fff" stroke-width="1.1"/>
<text x="137.6" y="74.2" font-size="15.2" textLength="11.5" lengthAdjust="spacingAndGlyphs" stroke="#fff" stroke-width="0.65">W</text>
<text x="191.5" y="74.2" font-size="15.2" textLength="17.5" lengthAdjust="spacingAndGlyphs" stroke="#fff" stroke-width="0.65">90</text>
<circle cx="213.5" cy="65.4" r="1.75" fill="none" stroke="#fff" stroke-width="1.1"/>
<text x="216.6" y="74.2" font-size="15.2" textLength="11.5" lengthAdjust="spacingAndGlyphs" stroke="#fff" stroke-width="0.65">W</text>
<text x="270" y="74.2" font-size="15.2" textLength="17.5" lengthAdjust="spacingAndGlyphs" stroke="#fff" stroke-width="0.65">85</text>
<circle cx="292" cy="65.4" r="1.75" fill="none" stroke="#fff" stroke-width="1.1"/>
<text x="295.1" y="74.2" font-size="15.2" textLength="11.5" lengthAdjust="spacingAndGlyphs" stroke="#fff" stroke-width="0.65">W</text>
<text x="347.5" y="74.2" font-size="15.2" textLength="17.5" lengthAdjust="spacingAndGlyphs" stroke="#fff" stroke-width="0.65">80</text>
<circle cx="369.5" cy="65.4" r="1.75" fill="none" stroke="#fff" stroke-width="1.1"/>
<text x="372.6" y="74.2" font-size="15.2" textLength="11.5" lengthAdjust="spacingAndGlyphs" stroke="#fff" stroke-width="0.65">W</text>
<text x="426" y="74.2" font-size="15.2" textLength="17.5" lengthAdjust="spacingAndGlyphs" stroke="#fff" stroke-width="0.65">75</text>
<circle cx="448" cy="65.4" r="1.75" fill="none" stroke="#fff" stroke-width="1.1"/>
<text x="451.1" y="74.2" font-size="15.2" textLength="11.5" lengthAdjust="spacingAndGlyphs" stroke="#fff" stroke-width="0.65">W</text>
<text x="504.5" y="74.2" font-size="15.2" textLength="17.5" lengthAdjust="spacingAndGlyphs" stroke="#fff" stroke-width="0.65">70</text>
<circle cx="526.5" cy="65.4" r="1.75" fill="none" stroke="#fff" stroke-width="1.1"/>
<text x="529.6" y="74.2" font-size="15.2" textLength="11.5" lengthAdjust="spacingAndGlyphs" stroke="#fff" stroke-width="0.65">W</text>
<text x="583" y="74.2" font-size="15.2" textLength="17.5" lengthAdjust="spacingAndGlyphs" stroke="#fff" stroke-width="0.65">65</text>
<circle cx="605" cy="65.4" r="1.75" fill="none" stroke="#fff" stroke-width="1.1"/>
<text x="608.1" y="74.2" font-size="15.2" textLength="11.5" lengthAdjust="spacingAndGlyphs" stroke="#fff" stroke-width="0.65">W</text>
<text x="661" y="74.2" font-size="15.2" textLength="17.5" lengthAdjust="spacingAndGlyphs" stroke="#fff" stroke-width="0.65">60</text>
<circle cx="683" cy="65.4" r="1.75" fill="none" stroke="#fff" stroke-width="1.1"/>
<text x="686.1" y="74.2" font-size="15.2" textLength="11.5" lengthAdjust="spacingAndGlyphs" stroke="#fff" stroke-width="0.65">W</text>
<text x="3.1" y="124.3" font-size="15.2" textLength="17.5" lengthAdjust="spacingAndGlyphs" stroke="#fff" stroke-width="0.65">30</text>
<circle cx="25.1" cy="115.5" r="1.75" fill="none" stroke="#fff" stroke-width="1.1"/>
<text x="28.2" y="124.3" font-size="15.2" textLength="9.6" lengthAdjust="spacingAndGlyphs" stroke="#fff" stroke-width="0.65">N</text>
<text x="683.3" y="124.3" font-size="15.2" textLength="17.5" lengthAdjust="spacingAndGlyphs" stroke="#fff" stroke-width="0.65">30</text>
<circle cx="705.3" cy="115.5" r="1.75" fill="none" stroke="#fff" stroke-width="1.1"/>
<text x="708.4" y="124.3" font-size="15.2" textLength="9.6" lengthAdjust="spacingAndGlyphs" stroke="#fff" stroke-width="0.65">N</text>
<text x="3.1" y="210.8" font-size="15.2" textLength="17.5" lengthAdjust="spacingAndGlyphs" stroke="#fff" stroke-width="0.65">25</text>
<circle cx="25.1" cy="202" r="1.75" fill="none" stroke="#fff" stroke-width="1.1"/>
<text x="28.2" y="210.8" font-size="15.2" textLength="9.6" lengthAdjust="spacingAndGlyphs" stroke="#fff" stroke-width="0.65">N</text>
<text x="683.3" y="210.8" font-size="15.2" textLength="17.5" lengthAdjust="spacingAndGlyphs" stroke="#fff" stroke-width="0.65">25</text>
<circle cx="705.3" cy="202" r="1.75" fill="none" stroke="#fff" stroke-width="1.1"/>
<text x="708.4" y="210.8" font-size="15.2" textLength="9.6" lengthAdjust="spacingAndGlyphs" stroke="#fff" stroke-width="0.65">N</text>
<text x="3.1" y="297.3" font-size="15.2" textLength="17.5" lengthAdjust="spacingAndGlyphs" stroke="#fff" stroke-width="0.65">20</text>
<circle cx="25.1" cy="288.5" r="1.75" fill="none" stroke="#fff" stroke-width="1.1"/>
<text x="28.2" y="297.3" font-size="15.2" textLength="9.6" lengthAdjust="spacingAndGlyphs" stroke="#fff" stroke-width="0.65">N</text>
<text x="683.3" y="297.3" font-size="15.2" textLength="17.5" lengthAdjust="spacingAndGlyphs" stroke="#fff" stroke-width="0.65">20</text>
<circle cx="705.3" cy="288.5" r="1.75" fill="none" stroke="#fff" stroke-width="1.1"/>
<text x="708.4" y="297.3" font-size="15.2" textLength="9.6" lengthAdjust="spacingAndGlyphs" stroke="#fff" stroke-width="0.65">N</text>
<text x="3.1" y="383.8" font-size="15.2" textLength="17.5" lengthAdjust="spacingAndGlyphs" stroke="#fff" stroke-width="0.65">15</text>
<circle cx="25.1" cy="375" r="1.75" fill="none" stroke="#fff" stroke-width="1.1"/>
<text x="28.2" y="383.8" font-size="15.2" textLength="9.6" lengthAdjust="spacingAndGlyphs" stroke="#fff" stroke-width="0.65">N</text>
<text x="683.3" y="383.8" font-size="15.2" textLength="17.5" lengthAdjust="spacingAndGlyphs" stroke="#fff" stroke-width="0.65">15</text>
<circle cx="705.3" cy="375" r="1.75" fill="none" stroke="#fff" stroke-width="1.1"/>
<text x="708.4" y="383.8" font-size="15.2" textLength="9.6" lengthAdjust="spacingAndGlyphs" stroke="#fff" stroke-width="0.65">N</text>
<text x="3.1" y="470.3" font-size="15.2" textLength="17.5" lengthAdjust="spacingAndGlyphs" stroke="#fff" stroke-width="0.65">10</text>
<circle cx="25.1" cy="461.5" r="1.75" fill="none" stroke="#fff" stroke-width="1.1"/>
<text x="28.2" y="470.3" font-size="15.2" textLength="9.6" lengthAdjust="spacingAndGlyphs" stroke="#fff" stroke-width="0.65">N</text>
<text x="683.3" y="470.3" font-size="15.2" textLength="17.5" lengthAdjust="spacingAndGlyphs" stroke="#fff" stroke-width="0.65">10</text>
<circle cx="705.3" cy="461.5" r="1.75" fill="none" stroke="#fff" stroke-width="1.1"/>
<text x="708.4" y="470.3" font-size="15.2" textLength="9.6" lengthAdjust="spacingAndGlyphs" stroke="#fff" stroke-width="0.65">N</text>
<text x="36.2" y="29.500" font-size="19.5" textLength="61.3" lengthAdjust="spacingAndGlyphs" stroke="#fff" stroke-width="0.8">FNMOC</text>
<text x="111.2" y="29.500" font-size="19.5" textLength="75.8" lengthAdjust="spacingAndGlyphs" stroke="#fff" stroke-width="0.8">COAMPS</text>
<text x="265" y="29.500" font-size="19.5" textLength="67.7" lengthAdjust="spacingAndGlyphs" stroke="#fff" stroke-width="0.8">Nowcas</text>
<text x="347.7" y="29.500" font-size="19.5" text-anchor="middle" stroke="#fff" stroke-width="0.8">t</text>
<text x="399" y="29.500" font-size="19.5" text-anchor="middle" stroke="#fff" stroke-width="0.8">v</text>
<text x="412.5" y="29.500" font-size="19.5" text-anchor="middle" stroke="#fff" stroke-width="0.8">a</text>
<text x="424.2" y="29.500" font-size="19.5" text-anchor="middle" stroke="#fff" stroke-width="0.8">l</text>
<text x="433.5" y="29.500" font-size="19.5" text-anchor="middle" stroke="#fff" stroke-width="0.8">i</text>
<text x="449.5" y="29.500" font-size="19.5" text-anchor="middle" stroke="#fff" stroke-width="0.8">d</text>
<text x="475" y="29.500" font-size="19.5" text-anchor="middle" stroke="#fff" stroke-width="0.8">a</text>
<text x="489.3" y="29.500" font-size="19.5" text-anchor="middle" stroke="#fff" stroke-width="0.8">t</text>
<text x="508.3" y="29.500" font-size="19.5" textLength="125.7" lengthAdjust="spacing" stroke="#fff" stroke-width="0.8">2009/07/25</text>
<text x="651.7" y="29.500" font-size="19.5" textLength="33.3" lengthAdjust="spacing" stroke="#fff" stroke-width="0.8">12Z</text>
</svg>
</body></html>
